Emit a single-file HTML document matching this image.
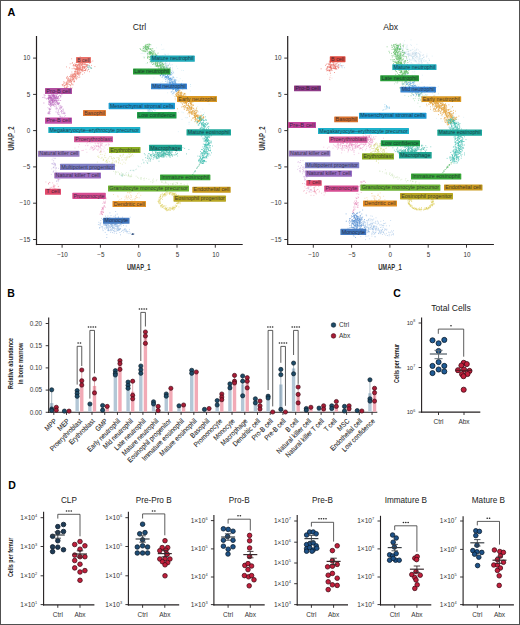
<!DOCTYPE html>
<html><head><meta charset="utf-8"><style>
html,body{margin:0;padding:0;background:#fff;}
svg{display:block;font-family:"Liberation Sans",sans-serif;}
</style></head><body>
<svg width="520" height="625" viewBox="0 0 520 625">
<rect width="520" height="625" fill="#fff"/>
<text x="7.60" y="16.30" font-size="10.8" text-anchor="start" fill="#000" font-weight="bold" >A</text>
<line x1="36.50" y1="36.00" x2="36.50" y2="245.10" stroke="#231f20" stroke-width="1.2"/>
<line x1="35.90" y1="244.50" x2="242.70" y2="244.50" stroke="#231f20" stroke-width="1.2"/>
<line x1="33.10" y1="58.10" x2="36.50" y2="58.10" stroke="#231f20" stroke-width="0.9"/>
<text x="30.30" y="60.30" font-size="6.3" text-anchor="end" fill="#333" >10</text>
<line x1="33.10" y1="94.40" x2="36.50" y2="94.40" stroke="#231f20" stroke-width="0.9"/>
<text x="30.30" y="96.60" font-size="6.3" text-anchor="end" fill="#333" >5</text>
<line x1="33.10" y1="130.60" x2="36.50" y2="130.60" stroke="#231f20" stroke-width="0.9"/>
<text x="30.30" y="132.80" font-size="6.3" text-anchor="end" fill="#333" >0</text>
<line x1="33.10" y1="166.90" x2="36.50" y2="166.90" stroke="#231f20" stroke-width="0.9"/>
<text x="30.30" y="169.10" font-size="6.3" text-anchor="end" fill="#333" >−5</text>
<line x1="33.10" y1="203.20" x2="36.50" y2="203.20" stroke="#231f20" stroke-width="0.9"/>
<text x="30.30" y="205.40" font-size="6.3" text-anchor="end" fill="#333" >−10</text>
<line x1="33.10" y1="239.50" x2="36.50" y2="239.50" stroke="#231f20" stroke-width="0.9"/>
<text x="30.30" y="241.70" font-size="6.3" text-anchor="end" fill="#333" >−15</text>
<line x1="62.10" y1="244.50" x2="62.10" y2="247.70" stroke="#231f20" stroke-width="0.9"/>
<text x="62.50" y="256.60" font-size="6.3" text-anchor="middle" fill="#333" >−10</text>
<line x1="100.40" y1="244.50" x2="100.40" y2="247.70" stroke="#231f20" stroke-width="0.9"/>
<text x="100.80" y="256.60" font-size="6.3" text-anchor="middle" fill="#333" >−5</text>
<line x1="138.70" y1="244.50" x2="138.70" y2="247.70" stroke="#231f20" stroke-width="0.9"/>
<text x="139.10" y="256.60" font-size="6.3" text-anchor="middle" fill="#333" >0</text>
<line x1="177.00" y1="244.50" x2="177.00" y2="247.70" stroke="#231f20" stroke-width="0.9"/>
<text x="177.40" y="256.60" font-size="6.3" text-anchor="middle" fill="#333" >5</text>
<line x1="215.30" y1="244.50" x2="215.30" y2="247.70" stroke="#231f20" stroke-width="0.9"/>
<text x="215.70" y="256.60" font-size="6.3" text-anchor="middle" fill="#333" >10</text>
<text x="138.70" y="269.60" font-size="8.3" text-anchor="middle" fill="#333" font-weight="bold" textLength="23.50" lengthAdjust="spacingAndGlyphs" >UMAP_1</text>
<text x="139.50" y="29.80" font-size="8.6" text-anchor="middle" fill="#222" >Ctrl</text>
<text x="13.60" y="138.40" font-size="8.3" text-anchor="middle" fill="#333" font-weight="bold" textLength="24.00" lengthAdjust="spacingAndGlyphs" transform="rotate(-90 13.60 138.40)" >UMAP_2</text>
<line x1="287.70" y1="36.00" x2="287.70" y2="245.10" stroke="#231f20" stroke-width="1.2"/>
<line x1="287.10" y1="244.50" x2="493.90" y2="244.50" stroke="#231f20" stroke-width="1.2"/>
<line x1="284.30" y1="58.10" x2="287.70" y2="58.10" stroke="#231f20" stroke-width="0.9"/>
<text x="281.50" y="60.30" font-size="6.3" text-anchor="end" fill="#333" >10</text>
<line x1="284.30" y1="94.40" x2="287.70" y2="94.40" stroke="#231f20" stroke-width="0.9"/>
<text x="281.50" y="96.60" font-size="6.3" text-anchor="end" fill="#333" >5</text>
<line x1="284.30" y1="130.60" x2="287.70" y2="130.60" stroke="#231f20" stroke-width="0.9"/>
<text x="281.50" y="132.80" font-size="6.3" text-anchor="end" fill="#333" >0</text>
<line x1="284.30" y1="166.90" x2="287.70" y2="166.90" stroke="#231f20" stroke-width="0.9"/>
<text x="281.50" y="169.10" font-size="6.3" text-anchor="end" fill="#333" >−5</text>
<line x1="284.30" y1="203.20" x2="287.70" y2="203.20" stroke="#231f20" stroke-width="0.9"/>
<text x="281.50" y="205.40" font-size="6.3" text-anchor="end" fill="#333" >−10</text>
<line x1="284.30" y1="239.50" x2="287.70" y2="239.50" stroke="#231f20" stroke-width="0.9"/>
<text x="281.50" y="241.70" font-size="6.3" text-anchor="end" fill="#333" >−15</text>
<line x1="313.30" y1="244.50" x2="313.30" y2="247.70" stroke="#231f20" stroke-width="0.9"/>
<text x="313.70" y="256.60" font-size="6.3" text-anchor="middle" fill="#333" >−10</text>
<line x1="351.60" y1="244.50" x2="351.60" y2="247.70" stroke="#231f20" stroke-width="0.9"/>
<text x="352.00" y="256.60" font-size="6.3" text-anchor="middle" fill="#333" >−5</text>
<line x1="389.90" y1="244.50" x2="389.90" y2="247.70" stroke="#231f20" stroke-width="0.9"/>
<text x="390.30" y="256.60" font-size="6.3" text-anchor="middle" fill="#333" >0</text>
<line x1="428.20" y1="244.50" x2="428.20" y2="247.70" stroke="#231f20" stroke-width="0.9"/>
<text x="428.60" y="256.60" font-size="6.3" text-anchor="middle" fill="#333" >5</text>
<line x1="466.50" y1="244.50" x2="466.50" y2="247.70" stroke="#231f20" stroke-width="0.9"/>
<text x="466.90" y="256.60" font-size="6.3" text-anchor="middle" fill="#333" >10</text>
<text x="389.90" y="269.60" font-size="8.3" text-anchor="middle" fill="#333" font-weight="bold" textLength="23.50" lengthAdjust="spacingAndGlyphs" >UMAP_1</text>
<text x="390.70" y="29.80" font-size="8.6" text-anchor="middle" fill="#222" >Abx</text>
<text x="264.80" y="138.40" font-size="8.3" text-anchor="middle" fill="#333" font-weight="bold" textLength="24.00" lengthAdjust="spacingAndGlyphs" transform="rotate(-90 264.80 138.40)" >UMAP_2</text>
<path d="M181.8 70.4h0M175.6 89.8h0M178.6 92.2h0M186.0 106.2h0M189.0 122.5h0M149.0 47.4h0M156.1 61.1h0M188.6 107.8h0M175.7 80.2h0M178.3 131.6h0M162.2 70.2h0M163.2 78.8h0M195.8 115.1h0M159.0 89.5h0M156.5 47.9h0M161.3 72.7h0M152.3 56.2h0M151.9 63.1h0M156.5 60.9h0M170.5 75.5h0M194.9 117.1h0M169.5 73.4h0M147.6 57.9h0M153.9 77.9h0M154.4 51.4h0M173.2 77.0h0M174.0 89.6h0M178.5 112.4h0M181.3 102.0h0M181.5 87.2h0M144.1 53.7h0M193.3 102.5h0M155.8 59.8h0M183.3 112.7h0M193.5 112.3h0M143.3 56.8h0M172.7 90.4h0M190.7 86.4h0M152.5 58.5h0M200.8 112.0h0M172.2 81.0h0M174.9 85.9h0M187.6 97.3h0M184.7 93.7h0M165.3 79.0h0M169.8 71.8h0M161.5 44.8h0M172.8 70.2h0M168.1 79.4h0M179.2 88.7h0M190.6 91.0h0M148.6 47.2h0M151.0 66.5h0M197.7 106.6h0M165.7 54.6h0M172.4 70.1h0M163.8 49.2h0M202.8 109.2h0M170.5 78.7h0M168.1 85.2h0M199.2 115.2h0M146.0 52.6h0M162.2 69.5h0M142.7 53.3h0M146.1 63.5h0M177.9 95.4h0M180.0 97.1h0M170.3 81.3h0M165.5 63.1h0M186.6 100.0h0M182.0 119.4h0M173.0 77.2h0M176.5 66.2h0M183.5 70.5h0M180.5 100.7h0M196.8 108.1h0M173.2 86.2h0M170.5 67.6h0M174.4 86.7h0M147.6 53.8h0M163.1 71.7h0M178.5 102.3h0M209.1 104.2h0M171.8 86.0h0M190.6 84.6h0M168.0 73.0h0M148.6 69.0h0M157.9 61.0h0M163.4 100.9h0M188.5 103.5h0M175.8 100.7h0M186.8 117.8h0M162.1 49.5h0M166.6 67.1h0M187.4 117.6h0M157.7 64.0h0M166.8 71.1h0M175.9 81.2h0M179.1 81.0h0M151.0 61.7h0M190.6 84.5h0M165.5 58.5h0M195.1 109.7h0M199.8 116.6h0M159.4 64.0h0M162.3 81.7h0M167.8 75.5h0M185.3 117.6h0M172.4 83.3h0M153.1 50.3h0M182.4 80.8h0M154.1 64.2h0M192.6 114.0h0M188.0 99.9h0M180.2 78.6h0M189.4 107.5h0M187.9 97.3h0M141.1 53.5h0M177.9 100.7h0M168.4 86.2h0M152.1 71.8h0M177.7 68.5h0M181.5 97.1h0M144.8 56.7h0M151.4 45.0h0M198.1 112.0h0M187.1 89.3h0M164.3 103.7h0M189.2 122.2h0M171.6 72.5h0M162.5 76.6h0M176.8 80.2h0M204.5 112.9h0M182.3 103.4h0M157.9 56.4h0M148.9 52.2h0M178.2 81.2h0M167.7 92.8h0M157.6 71.5h0M184.7 101.2h0M169.0 111.7h0M194.0 110.8h0M196.4 116.3h0M174.3 77.9h0M172.0 94.3h0M147.8 52.4h0M172.5 76.4h0M160.9 82.6h0M189.0 124.2h0M189.8 112.4h0M166.3 72.0h0M182.4 89.8h0M147.1 74.6h0M150.3 51.3h0M173.2 95.3h0M180.5 95.8h0M169.7 70.9h0M182.0 112.1h0M195.3 99.5h0M154.2 70.2h0M175.4 97.0h0M196.8 110.4h0" stroke="#a9d8ea" stroke-width="0.7" stroke-linecap="round" fill="none" opacity="0.6"/>
<path d="M88.5 69.5h0M82.7 66.6h0M76.2 64.6h0M79.5 63.7h0M81.3 64.8h0M82.5 70.3h0M84.3 67.3h0M79.9 61.4h0M80.5 67.6h0M76.5 69.8h0M79.5 67.1h0M79.5 62.2h0M90.3 62.5h0M85.1 64.3h0M82.3 63.6h0M79.1 68.8h0M89.8 63.5h0M81.0 68.8h0M78.2 68.1h0M77.5 67.8h0M83.0 69.6h0M82.6 62.4h0M84.0 62.7h0M84.4 70.5h0M83.7 64.3h0M86.4 66.5h0M75.4 64.9h0M87.4 65.1h0M81.5 65.0h0M73.4 64.5h0M82.6 66.6h0M80.2 59.6h0M86.5 68.2h0M85.6 69.9h0M79.0 64.2h0M82.4 71.0h0M73.4 65.3h0M77.8 67.7h0M87.6 65.1h0M75.4 66.1h0M79.7 61.4h0M85.0 64.4h0M84.1 62.1h0M85.9 61.7h0M85.7 60.6h0M87.2 64.9h0M74.0 65.3h0M82.5 63.0h0M78.8 66.8h0M80.2 56.8h0M79.1 67.3h0M82.3 69.0h0M77.9 73.7h0M84.6 66.9h0M85.9 68.9h0M81.5 64.1h0M85.6 67.3h0M72.5 62.7h0M83.1 66.3h0M82.3 67.9h0M81.7 70.7h0M78.3 64.8h0M82.5 68.2h0M84.5 70.5h0M78.9 69.5h0M83.1 62.9h0M80.4 72.3h0M84.5 64.6h0M70.2 63.8h0M77.8 66.2h0M91.4 68.2h0M82.4 63.2h0M75.7 65.4h0M78.9 75.0h0M79.2 64.2h0M86.1 66.2h0M75.4 69.9h0M79.6 62.0h0M82.4 67.5h0M79.5 68.1h0M84.7 63.4h0M71.7 58.8h0M80.4 69.7h0M85.5 70.2h0M89.4 66.0h0M85.8 61.4h0M84.1 67.2h0M80.6 64.7h0M76.0 66.4h0M86.7 64.9h0M83.4 64.0h0M82.1 63.0h0M82.7 65.3h0M82.4 64.2h0M75.7 65.0h0M85.7 70.7h0M79.5 68.4h0M84.4 67.2h0M74.0 67.0h0M76.6 69.5h0M84.5 67.9h0M69.6 67.9h0M84.1 62.2h0M85.4 66.2h0M80.2 63.9h0M76.4 64.7h0M94.9 66.6h0M81.9 64.1h0M78.2 64.3h0M77.0 68.6h0M79.8 68.6h0M75.8 68.8h0M80.9 68.0h0M80.5 63.3h0M86.4 64.7h0M80.3 63.3h0M81.9 64.8h0M82.3 67.0h0M77.9 61.8h0M82.9 68.8h0M84.1 62.6h0M83.7 67.2h0M82.3 67.3h0M79.5 66.6h0M85.2 64.5h0M74.5 65.7h0M81.9 60.5h0M78.0 67.8h0M80.3 66.3h0M75.3 68.7h0M88.9 65.4h0M77.7 62.5h0M85.0 66.3h0M77.4 69.6h0M84.4 67.8h0M73.1 65.7h0M83.8 62.3h0M85.2 70.3h0M85.7 63.8h0M77.8 68.8h0M85.5 69.7h0M86.4 65.7h0M79.2 60.4h0M84.5 72.8h0M78.9 64.6h0M83.9 67.1h0M74.8 63.9h0M76.1 72.1h0M77.8 68.6h0M89.6 71.7h0M87.4 70.9h0M75.4 65.0h0M77.7 65.1h0M92.8 61.0h0M83.5 62.3h0M87.0 69.9h0M78.7 72.2h0M81.3 69.9h0M82.4 64.3h0M79.3 65.6h0M83.8 66.4h0M91.6 65.4h0M78.9 63.8h0M77.5 61.7h0M76.6 68.7h0M81.3 65.5h0M82.6 69.2h0M83.8 68.3h0M78.5 65.2h0M77.5 65.7h0M77.3 64.9h0M80.2 65.4h0M79.8 64.5h0M86.9 65.0h0M76.4 66.6h0M76.1 62.8h0M81.4 61.0h0M66.5 66.9h0M85.7 61.0h0M77.0 67.7h0M72.1 63.4h0M75.6 65.4h0M72.1 68.7h0M80.4 66.9h0M79.5 59.6h0M80.3 62.0h0M81.0 63.4h0M79.6 65.4h0M84.5 68.3h0M76.5 66.0h0M87.6 67.5h0M77.7 65.6h0M79.4 68.8h0M81.2 67.1h0M91.0 61.9h0M76.4 60.8h0M73.8 68.6h0M82.3 70.9h0" stroke="#ec7a70" stroke-width="0.9" stroke-linecap="round" fill="none" opacity="0.85"/>
<path d="M70.9 78.8h0M72.7 79.3h0M76.9 73.3h0M66.1 82.6h0M70.8 79.3h0M73.3 78.6h0M72.6 77.1h0M78.8 73.1h0M71.5 76.2h0M70.5 80.5h0M77.2 67.5h0M63.5 81.9h0M67.9 80.2h0M75.0 73.8h0M77.2 71.5h0M71.3 82.4h0M77.9 73.5h0M71.4 81.5h0M75.3 78.4h0M75.3 73.3h0M79.3 70.2h0M70.5 77.8h0M62.7 85.2h0M66.6 87.1h0M72.5 79.8h0M74.5 80.2h0M73.0 84.9h0M75.1 69.6h0M73.1 76.5h0M73.8 78.7h0M70.5 76.3h0M68.0 86.6h0M81.5 69.6h0M67.2 83.1h0M74.1 81.5h0M74.6 73.6h0M71.8 81.3h0M67.5 84.2h0M78.8 72.0h0M74.5 76.7h0M62.9 84.9h0M82.7 74.3h0M79.2 68.7h0M74.4 73.1h0M76.7 66.7h0M77.5 74.0h0M71.8 76.1h0M67.1 77.0h0M68.8 79.7h0M74.0 82.1h0M73.4 75.2h0M76.0 75.9h0M77.3 71.1h0M73.1 76.7h0M66.0 84.2h0M73.7 74.5h0M77.5 71.8h0M77.3 74.3h0M66.6 87.4h0M83.2 70.9h0M77.7 68.9h0M81.2 70.5h0M78.1 67.9h0M73.5 76.3h0M69.3 82.0h0M77.8 72.7h0M76.4 78.1h0M73.7 74.0h0M81.1 69.5h0M79.8 77.0h0M77.8 73.0h0M77.5 73.4h0M74.1 76.9h0M71.7 77.1h0M75.0 76.9h0M79.7 70.6h0M80.0 72.6h0M80.5 69.1h0M79.5 69.6h0M73.0 77.3h0M81.6 69.9h0M70.3 81.6h0M69.3 79.0h0M69.6 84.5h0M75.0 77.1h0M77.2 78.0h0M79.4 71.8h0M74.4 68.6h0M69.6 81.4h0M77.0 73.2h0M73.2 80.0h0M78.9 77.4h0M76.0 74.7h0M70.5 87.3h0M74.0 78.9h0M69.5 76.5h0M74.4 74.0h0M78.6 69.1h0M81.0 72.2h0M66.3 84.5h0M79.2 75.2h0M74.7 71.9h0M75.0 74.6h0M75.6 77.9h0M66.7 83.8h0M75.0 71.5h0M67.4 76.4h0M72.1 75.0h0M64.7 85.4h0M80.2 69.4h0M63.2 86.0h0M72.5 77.4h0M66.9 82.9h0M66.9 81.6h0M71.8 84.0h0M77.6 69.6h0M71.7 76.9h0M77.7 70.7h0M78.3 73.7h0M78.5 68.9h0M78.1 69.0h0M66.4 84.7h0M67.8 84.0h0M71.3 80.9h0M64.9 83.1h0M79.7 73.2h0M76.9 69.4h0M73.6 79.3h0M63.0 84.6h0M71.0 84.7h0M66.6 83.5h0M71.9 74.2h0M63.8 83.6h0M73.1 74.2h0M75.6 76.1h0M71.9 72.0h0M68.0 81.9h0M78.1 72.1h0M75.1 75.3h0M75.4 74.5h0M76.0 71.4h0M64.9 87.5h0M79.0 74.0h0M68.7 80.3h0M80.4 73.9h0M72.7 74.2h0M68.4 78.3h0M72.8 80.3h0M71.5 83.5h0M75.9 72.1h0M70.2 76.5h0M70.4 79.2h0M70.5 75.3h0M62.1 84.7h0M76.3 69.2h0M67.2 78.4h0M72.1 87.9h0M67.9 80.8h0M76.3 79.6h0M69.1 79.7h0M68.8 84.3h0M70.7 85.6h0M66.8 82.6h0M74.7 74.8h0M77.6 69.9h0M67.3 86.9h0M79.3 73.8h0M70.8 82.1h0M76.0 75.5h0M67.5 79.7h0M70.1 82.3h0M68.3 78.0h0M64.9 87.7h0M73.0 75.4h0M73.1 76.0h0M64.6 85.5h0M77.8 73.6h0M67.4 85.3h0M66.9 87.6h0M80.1 70.1h0M72.3 75.8h0M78.7 74.6h0M65.9 85.2h0M64.4 82.2h0M78.0 69.6h0M67.8 81.1h0M65.5 84.9h0M76.0 76.4h0M72.8 84.2h0M74.9 76.5h0M68.7 81.2h0M69.7 80.6h0M77.6 72.7h0M77.1 68.5h0M70.6 80.4h0M70.1 85.2h0M77.3 66.5h0M75.1 75.3h0M78.1 70.0h0M71.5 79.3h0M73.1 78.8h0M77.5 67.9h0M74.5 81.5h0M75.8 69.8h0M76.4 78.1h0M80.2 68.5h0M68.9 82.5h0M78.5 70.3h0M70.0 80.5h0M75.9 73.0h0M77.6 76.4h0M73.9 81.3h0M75.0 76.6h0M72.2 75.4h0M74.1 77.0h0M72.6 78.9h0M75.5 71.6h0M74.9 71.4h0M83.4 70.7h0M64.6 86.2h0M75.3 76.0h0M73.3 78.5h0M78.2 68.3h0M71.0 74.3h0M76.2 74.0h0M75.6 74.9h0M68.0 83.6h0M71.0 80.7h0M66.8 77.6h0M82.1 69.6h0M66.5 78.2h0M72.3 75.8h0M74.1 77.5h0M76.6 67.7h0" stroke="#ec8074" stroke-width="0.9" stroke-linecap="round" fill="none" opacity="0.85"/>
<path d="M89.2 65.9h0M90.5 67.3h0M88.9 69.3h0M87.5 66.2h0M90.3 68.0h0M87.8 66.6h0M91.7 68.4h0M89.7 67.0h0M88.9 67.4h0M88.7 65.0h0M88.2 67.1h0M88.4 68.1h0M91.6 68.0h0M90.8 68.1h0" stroke="#6cc6c0" stroke-width="0.8" stroke-linecap="round" fill="none" opacity="0.8"/>
<path d="M54.0 100.8h0M54.7 100.5h0M49.4 95.9h0M49.5 100.7h0M54.8 95.5h0M49.5 96.2h0M56.1 97.7h0M52.2 95.8h0M52.6 103.2h0M50.6 96.9h0M59.0 100.3h0M49.0 101.5h0M48.6 99.8h0M44.1 94.8h0M56.3 96.1h0M50.5 98.2h0M53.0 96.5h0M50.6 103.8h0M58.3 99.1h0M49.0 96.3h0M52.0 99.6h0M58.7 96.3h0M53.5 96.6h0M53.5 95.8h0M54.4 101.8h0M51.6 97.0h0M53.4 93.8h0M59.4 93.7h0M51.8 95.2h0M58.3 96.5h0M51.2 104.1h0M52.6 95.5h0M53.0 98.6h0M50.4 97.4h0M52.3 100.4h0M55.7 100.7h0M52.6 100.6h0M52.3 101.8h0M54.5 96.7h0M57.4 93.1h0M49.6 95.5h0M52.6 94.1h0M48.8 91.9h0M53.4 95.5h0M60.7 100.5h0M49.0 102.3h0M53.4 101.5h0M49.1 101.8h0M56.9 96.7h0M50.0 96.8h0M54.0 105.8h0M59.4 102.9h0M52.3 97.0h0M54.3 97.1h0M51.4 97.4h0M56.0 97.8h0M53.9 97.2h0M52.3 97.0h0M57.5 98.8h0M58.3 97.5h0M56.8 93.6h0M51.6 97.8h0M50.8 97.7h0M49.8 97.5h0M50.7 98.0h0M52.0 94.8h0M51.6 98.1h0M48.5 98.3h0M57.4 97.3h0M55.0 100.0h0M50.2 102.3h0M61.9 94.7h0M60.6 95.7h0M58.2 92.2h0M57.0 98.5h0M48.5 95.4h0M49.3 95.1h0M54.4 97.4h0M44.2 97.0h0M54.7 98.3h0M59.0 92.1h0M53.9 98.1h0M55.6 93.7h0M48.4 97.5h0M53.3 92.2h0M54.3 98.0h0M55.6 89.6h0M54.8 95.2h0M51.3 100.5h0M59.0 98.5h0M52.6 102.2h0M49.9 97.5h0M51.2 94.9h0M53.7 104.6h0M53.9 99.6h0M52.9 101.7h0M53.7 95.2h0M53.4 102.7h0M52.7 101.9h0M52.8 104.5h0M54.0 100.1h0M52.0 100.7h0M52.2 93.3h0M54.1 94.1h0M58.2 100.6h0M53.1 100.2h0M43.9 103.0h0M50.7 100.2h0M62.0 92.8h0M51.6 99.1h0M54.5 92.6h0M49.7 102.8h0M50.9 99.8h0M48.2 95.1h0M46.6 98.9h0M57.1 98.3h0M52.1 98.8h0M54.7 97.1h0M55.0 104.3h0M60.9 96.2h0M48.6 104.2h0M56.5 101.9h0M55.2 97.3h0M56.5 101.6h0M57.2 94.5h0M56.7 96.9h0M51.8 99.2h0M51.8 105.5h0M55.0 98.9h0M52.4 98.8h0M52.2 99.9h0M56.1 100.7h0M48.6 97.0h0M53.3 94.1h0M54.4 97.6h0M53.2 99.3h0M50.8 103.0h0M56.7 96.3h0M54.7 100.4h0M50.3 96.9h0M55.5 89.7h0M48.4 99.1h0M55.2 95.1h0M56.1 105.2h0M53.8 97.9h0M53.3 94.8h0M55.0 98.6h0M55.7 102.6h0M53.2 98.6h0M54.2 103.6h0M47.9 98.0h0M50.8 98.4h0M56.0 98.3h0M55.6 98.6h0M50.5 95.9h0M48.2 98.8h0M51.7 100.7h0M56.4 95.2h0M49.2 100.0h0M50.0 98.7h0M55.2 96.8h0M59.3 95.5h0M54.5 96.7h0M42.9 97.5h0M52.5 99.9h0M52.6 95.7h0M51.2 97.1h0M55.7 97.2h0M57.4 100.8h0M50.4 101.4h0M45.1 98.1h0M49.6 97.7h0M57.1 98.0h0M52.5 102.2h0M50.4 95.4h0M56.5 100.0h0M48.0 98.5h0M55.8 97.5h0M51.6 98.5h0M53.8 95.8h0M56.0 93.0h0M52.8 104.9h0M49.3 97.9h0M45.0 95.4h0M49.0 98.2h0M51.3 103.9h0M49.8 97.9h0M53.8 100.1h0M56.2 93.0h0M60.7 97.0h0M50.5 92.8h0M51.5 92.3h0M53.7 96.1h0M54.2 95.5h0M53.3 105.2h0M57.1 98.5h0M49.6 102.7h0M47.1 93.5h0" stroke="#b85cb8" stroke-width="0.9" stroke-linecap="round" fill="none" opacity="0.8"/>
<path d="M49.3 112.9h0M49.4 113.8h0M51.1 101.0h0M50.9 100.0h0M49.1 111.9h0M49.8 113.2h0M50.3 104.2h0M49.3 101.5h0M50.3 109.2h0M49.2 108.3h0M48.8 103.1h0M47.9 107.7h0M50.5 103.4h0M49.3 111.8h0M49.5 109.9h0M50.6 103.3h0M52.2 103.9h0M50.8 104.6h0M48.5 113.3h0M51.1 107.0h0M49.2 112.4h0M50.6 101.0h0M51.3 100.5h0M51.6 103.3h0M50.4 109.4h0M48.5 113.2h0M51.0 99.2h0M50.0 104.8h0M50.9 104.5h0M49.7 109.4h0M49.7 105.5h0M50.2 99.6h0M50.6 105.9h0M50.4 102.9h0M50.7 106.2h0M49.8 110.7h0M51.1 104.0h0M49.2 104.5h0M51.7 105.5h0M49.0 112.3h0M50.8 104.5h0M47.9 113.0h0M50.5 105.0h0M50.0 113.8h0M52.1 98.4h0M49.5 101.4h0M50.4 101.1h0M50.1 111.5h0M49.5 109.4h0M49.9 109.3h0M48.1 113.7h0M48.0 113.1h0M50.4 106.5h0M50.9 108.8h0M49.5 104.6h0M48.8 113.8h0M50.3 103.6h0M48.5 108.9h0M51.1 102.5h0M49.6 108.5h0M48.7 111.9h0M50.5 99.3h0M51.7 102.4h0" stroke="#c27ac8" stroke-width="0.7" stroke-linecap="round" fill="none" opacity="0.75"/>
<path d="M63.3 113.4h0M62.7 109.7h0M56.8 103.4h0M62.3 106.7h0M60.4 109.0h0M58.7 102.9h0M63.2 108.9h0M61.6 110.5h0M58.6 103.5h0M54.6 97.8h0M61.4 107.5h0M57.1 104.2h0M55.4 98.8h0M56.2 100.2h0M60.1 105.4h0M58.5 103.4h0M53.6 97.7h0M56.0 102.7h0M57.5 102.9h0M61.7 108.4h0M58.5 104.3h0M61.4 106.2h0M54.6 97.2h0M63.3 111.8h0M61.8 113.6h0M63.1 110.7h0M65.4 115.5h0M54.8 98.4h0M57.9 102.6h0M62.7 117.0h0M58.5 104.3h0M59.6 108.0h0M61.7 107.4h0M64.2 113.9h0M57.6 103.5h0M54.0 97.5h0M62.2 111.6h0M59.5 108.0h0M60.7 111.5h0M54.3 97.7h0M55.7 100.2h0M57.8 102.9h0M59.9 109.1h0M61.5 107.0h0M54.9 101.2h0M57.1 101.3h0M56.4 100.3h0M64.0 112.6h0M59.4 103.5h0M55.4 97.6h0M54.4 97.5h0M57.2 103.5h0M60.0 106.2h0M60.4 107.6h0M63.9 113.2h0M58.8 106.1h0M63.4 109.9h0M55.6 99.8h0M58.2 104.3h0M64.8 112.3h0M57.3 102.4h0M56.6 100.6h0M57.5 104.5h0M60.5 106.1h0M56.0 100.8h0M64.5 113.5h0M56.0 99.2h0M58.8 103.7h0M57.3 102.6h0M61.4 110.5h0M61.6 112.0h0M61.8 111.3h0M65.2 113.4h0M64.4 116.3h0M58.8 104.5h0M61.7 112.3h0M60.2 108.8h0M62.9 113.6h0M55.3 101.1h0M60.4 107.4h0M57.8 103.1h0" stroke="#c27ac8" stroke-width="0.7" stroke-linecap="round" fill="none" opacity="0.75"/>
<path d="M56.8 112.1h0M57.7 113.5h0M56.4 107.6h0M55.3 108.9h0M58.6 114.4h0M53.6 100.5h0M59.6 112.8h0M53.8 101.8h0M59.8 114.7h0M54.4 101.8h0M54.2 104.4h0M53.6 102.5h0M54.7 106.6h0M58.5 109.4h0M57.6 112.6h0M57.5 108.2h0M55.6 104.5h0M54.0 102.4h0M60.8 117.9h0M59.0 114.7h0M57.2 108.6h0M51.0 101.8h0M57.9 112.4h0M58.5 114.1h0M55.3 106.9h0M56.4 108.9h0M60.0 116.1h0M56.7 108.0h0M60.6 116.8h0M53.6 100.5h0M60.0 116.3h0M56.2 108.7h0M54.7 103.7h0M58.4 110.9h0M60.1 116.3h0M57.0 110.0h0M55.4 104.3h0M57.8 114.3h0M58.4 112.6h0M54.0 103.2h0M58.3 111.5h0M55.8 111.9h0M58.4 110.4h0M61.7 117.0h0M56.3 106.6h0" stroke="#c88ad0" stroke-width="0.7" stroke-linecap="round" fill="none" opacity="0.7"/>
<path d="M153.4 53.7h0M157.5 64.7h0M152.4 53.1h0M164.9 69.4h0M157.0 63.4h0M149.7 52.3h0M155.8 57.1h0M153.9 56.5h0M160.9 67.4h0M143.6 50.9h0M154.1 57.5h0M147.6 44.7h0M164.6 69.7h0M147.0 48.8h0M147.1 47.4h0M169.8 68.3h0M158.9 62.1h0M157.1 64.8h0M158.2 65.8h0M160.8 67.0h0M147.5 50.0h0M156.4 55.2h0M147.6 57.4h0M146.0 44.4h0M150.7 52.2h0M160.6 61.5h0M147.4 54.0h0M146.7 49.5h0M165.8 71.6h0M145.1 51.5h0M158.7 70.2h0M146.4 49.0h0M157.2 56.1h0M151.8 50.4h0M156.3 56.0h0M155.3 56.7h0M145.1 50.9h0M151.0 55.9h0M160.1 69.8h0M152.6 55.1h0M154.7 54.0h0M145.1 45.5h0M150.7 44.7h0M160.9 66.0h0M153.7 58.7h0M159.2 69.4h0M149.6 48.9h0M160.3 68.1h0M157.3 65.1h0M163.6 68.0h0M151.4 58.2h0M160.5 68.6h0M151.4 50.1h0M155.2 54.9h0M146.1 45.0h0M156.0 57.8h0M150.0 53.9h0M150.0 62.0h0M153.6 61.1h0M163.4 64.5h0M151.9 61.5h0M164.1 68.9h0M155.9 61.6h0M159.5 71.3h0M165.8 68.0h0M151.0 56.6h0M160.8 65.3h0M150.6 53.9h0M159.9 71.9h0M147.5 46.7h0M153.5 61.2h0M147.8 57.4h0M154.2 57.2h0M148.3 47.3h0M156.5 61.9h0M163.2 70.3h0M155.4 64.8h0M166.0 71.6h0M159.1 65.8h0M149.3 51.9h0M148.0 47.2h0M163.0 61.7h0M152.9 50.9h0M152.0 53.6h0M149.6 51.3h0M162.1 72.0h0M149.1 45.3h0M161.6 68.5h0M166.0 67.1h0M160.3 62.2h0M143.8 48.6h0M162.9 65.7h0M154.9 61.1h0M152.7 56.3h0M156.9 66.1h0M143.2 47.0h0M154.8 52.7h0M155.4 66.0h0M158.8 60.5h0M159.4 69.3h0M157.5 62.9h0M147.8 58.5h0M161.4 58.0h0M170.1 67.9h0M151.0 54.4h0M153.2 55.7h0M151.6 57.0h0M152.6 57.4h0M155.7 59.7h0M149.2 54.6h0M149.8 52.7h0M152.6 54.2h0M160.3 58.9h0M143.4 48.3h0M166.2 61.5h0M158.4 61.6h0M150.7 52.3h0M147.2 46.4h0M155.3 63.3h0M159.5 73.5h0M162.8 66.8h0M141.8 50.2h0M152.9 61.7h0M142.9 48.9h0M145.5 45.8h0M152.5 62.0h0M157.0 66.3h0M158.8 59.3h0M161.8 70.7h0M152.0 55.4h0M166.4 70.8h0M145.0 51.7h0M154.7 50.8h0M145.1 51.0h0M163.9 71.6h0M155.1 60.2h0M149.0 44.4h0M157.2 65.5h0M164.0 72.2h0M153.7 61.7h0M151.1 53.1h0M150.0 56.4h0M155.1 63.9h0M153.4 61.7h0M163.5 66.1h0M158.6 69.0h0M165.6 70.0h0M150.7 49.4h0M159.3 63.9h0M143.1 51.2h0M167.1 70.3h0M164.6 70.6h0M160.9 67.5h0M148.0 47.7h0M155.7 64.6h0M148.0 48.6h0M163.0 68.6h0M151.1 61.4h0M152.8 48.7h0M166.7 60.6h0M160.8 70.5h0M161.8 70.3h0M159.1 63.3h0M148.5 48.6h0M152.9 56.9h0M164.8 66.3h0M155.0 61.9h0M153.0 58.7h0M146.4 49.7h0M164.1 67.6h0M152.5 64.5h0M145.1 46.9h0M161.2 58.0h0M160.4 57.2h0M143.8 46.5h0M162.9 68.9h0M158.1 61.5h0M151.8 52.0h0M164.6 67.2h0M148.8 57.0h0M147.5 56.1h0M157.1 62.0h0M161.6 64.7h0M162.6 71.9h0M164.9 70.0h0M153.3 52.6h0M159.9 71.2h0M147.2 44.7h0M157.5 57.7h0M161.2 61.6h0M152.5 58.2h0M153.1 51.7h0M160.8 66.9h0M149.9 53.2h0M146.9 50.8h0M160.5 60.0h0M156.7 66.0h0M153.7 63.6h0M151.7 52.4h0M160.2 65.0h0M156.6 57.5h0M152.1 56.1h0M159.2 60.6h0M162.5 63.3h0M157.1 59.8h0M164.2 60.0h0M155.0 59.4h0M162.0 70.4h0M163.7 73.9h0M140.1 48.5h0M153.0 58.7h0M152.9 58.0h0M156.6 59.9h0M148.3 56.4h0M160.4 70.9h0M154.9 58.4h0M150.9 58.7h0M161.3 59.2h0M166.9 70.1h0M150.4 51.9h0M164.3 67.1h0M155.9 55.5h0M156.5 60.3h0M146.3 47.9h0M148.8 53.8h0M154.5 59.0h0M145.7 46.7h0M167.7 69.0h0M161.0 61.4h0M150.6 61.4h0M154.5 58.9h0M155.3 62.4h0M156.6 66.0h0M156.6 61.3h0M147.5 62.8h0M147.3 47.0h0M155.6 60.3h0M161.8 65.0h0M163.9 57.3h0M157.3 66.1h0M142.9 50.7h0M150.3 49.1h0M162.6 66.6h0M162.8 64.2h0M162.1 71.9h0M156.8 58.6h0M154.7 58.3h0M160.0 65.1h0M150.4 59.4h0M162.0 65.6h0M150.6 53.6h0M158.4 66.8h0M146.3 49.4h0M165.4 70.9h0M149.3 44.0h0M148.7 52.1h0M159.0 69.1h0M147.1 51.2h0M154.5 57.6h0M161.5 60.1h0M166.5 70.9h0M160.4 62.7h0M147.7 53.4h0M158.6 60.7h0M160.3 71.8h0M156.6 55.4h0M165.2 63.9h0M156.8 55.2h0M149.3 59.7h0M150.2 56.7h0M146.8 49.5h0M161.3 66.6h0M151.3 53.1h0M161.3 68.1h0M152.4 55.7h0M151.1 52.8h0M155.8 61.8h0M149.9 59.4h0M150.4 48.8h0M153.8 64.2h0M152.7 59.3h0M155.9 63.8h0M151.7 60.0h0M147.9 49.2h0M159.6 65.7h0M158.1 61.1h0M163.6 67.0h0M157.3 65.2h0M150.5 57.1h0M148.9 49.0h0M161.3 63.0h0M164.4 67.9h0M155.7 54.6h0M153.5 54.2h0M146.2 47.2h0M163.2 67.2h0M158.7 61.1h0M154.1 57.4h0M150.2 51.5h0M163.0 71.9h0M161.4 61.9h0M145.1 47.0h0M145.4 49.4h0M160.0 66.2h0M148.6 48.4h0M163.7 64.2h0M161.6 67.7h0M149.7 46.3h0M163.9 71.0h0M156.1 59.9h0M157.7 63.0h0M146.1 46.0h0M153.1 51.4h0M150.6 53.2h0M164.9 71.2h0M167.7 67.8h0M155.8 63.1h0M152.4 54.1h0M155.3 59.8h0M158.3 65.8h0M160.0 65.1h0M155.5 53.7h0M149.7 53.0h0M166.0 65.6h0M162.9 71.5h0M156.3 58.4h0M151.5 62.3h0M162.9 67.0h0M155.5 58.9h0M149.5 53.0h0M157.6 64.1h0M158.1 53.1h0M162.1 63.8h0M146.8 46.7h0M160.8 64.9h0M158.0 61.8h0M144.3 50.1h0M163.7 67.3h0M160.5 69.7h0M159.0 66.8h0M140.4 49.5h0M160.7 65.8h0M168.3 65.7h0M162.4 63.3h0M167.9 69.2h0M157.1 63.2h0M164.2 68.8h0M148.1 44.1h0M160.4 64.3h0M159.8 62.3h0M158.0 67.0h0M145.1 47.2h0M149.7 44.5h0M149.9 53.9h0M145.7 46.6h0M157.9 61.2h0M151.8 53.0h0M156.5 57.0h0M158.7 60.7h0M152.0 48.7h0M166.4 67.6h0M152.2 54.9h0M145.7 48.4h0M163.3 70.8h0M144.3 47.6h0M144.2 57.8h0M151.3 59.7h0M154.6 58.0h0M159.6 62.9h0M145.3 48.4h0M148.2 46.6h0M162.8 64.8h0M145.4 48.1h0M161.6 73.8h0M163.6 70.6h0M158.3 60.0h0M149.5 57.6h0M148.4 45.9h0" stroke="#5cbc62" stroke-width="0.9" stroke-linecap="round" fill="none" opacity="0.8"/>
<path d="M160.8 63.6h0M168.0 74.9h0M164.4 67.8h0M169.4 64.2h0M163.9 66.4h0M173.7 71.8h0M168.7 78.7h0M170.0 68.1h0M167.0 66.2h0M168.2 78.2h0M171.6 73.5h0M168.3 74.2h0M166.2 70.3h0M162.8 66.5h0M172.3 71.5h0M161.9 64.2h0M172.5 73.6h0M168.0 65.6h0M152.6 57.0h0M154.1 56.1h0M172.5 68.0h0M162.6 59.2h0M159.7 61.1h0M168.4 70.9h0M166.9 66.1h0M159.4 69.3h0M151.1 59.9h0M176.9 77.5h0M166.3 63.8h0M168.9 69.2h0M166.9 68.0h0M168.7 64.4h0M166.4 68.7h0M175.6 81.0h0M159.9 62.4h0M159.9 61.1h0M157.6 53.8h0M173.4 72.5h0M168.9 67.7h0M166.7 67.0h0M165.3 57.3h0M169.6 61.7h0M158.4 58.2h0M156.6 57.2h0M153.4 60.3h0M162.9 60.6h0M164.7 54.2h0M162.6 62.6h0M170.6 67.4h0M165.8 65.2h0M155.5 59.9h0M166.9 64.2h0M162.3 60.9h0M156.3 63.1h0M169.5 72.6h0M167.1 63.0h0M162.0 58.6h0M168.1 54.2h0M162.5 67.1h0M159.2 63.1h0M154.3 61.2h0M144.8 48.8h0M166.2 68.2h0M173.8 78.0h0M168.3 59.0h0M166.6 66.5h0M153.2 63.0h0M151.6 63.4h0M173.8 73.1h0M172.5 73.6h0M162.1 59.4h0M174.8 79.3h0M147.1 53.9h0M169.8 70.0h0M151.2 51.6h0M159.2 62.7h0M167.2 67.9h0M173.0 72.7h0M164.7 72.1h0M169.0 71.0h0M169.2 56.4h0M165.6 62.7h0M170.2 71.6h0M160.9 67.8h0M158.2 58.8h0M165.7 55.0h0M164.7 67.6h0M169.8 63.0h0M153.3 56.2h0M172.2 64.7h0M170.8 65.1h0M160.2 64.3h0M169.6 63.8h0M159.4 62.2h0M167.3 66.3h0M171.1 70.6h0M164.8 72.2h0M165.3 73.0h0M161.6 64.8h0M165.3 62.8h0M159.5 64.3h0M162.9 55.6h0M155.5 59.1h0M165.1 64.2h0M167.6 65.3h0M164.2 63.8h0M154.8 66.1h0M164.2 67.9h0" stroke="#9fc6e6" stroke-width="0.8" stroke-linecap="round" fill="none" opacity="0.6"/>
<path d="M170.3 82.6h0M172.0 87.0h0M163.5 75.2h0M174.6 80.3h0M165.4 77.2h0M166.3 76.5h0M177.4 86.0h0M170.5 74.6h0M166.5 77.6h0M167.4 75.3h0M165.0 76.6h0M175.6 89.5h0M173.4 89.4h0M162.4 73.7h0M169.0 78.6h0M167.6 75.5h0M171.2 79.6h0M178.7 90.4h0M172.9 93.6h0M167.0 71.1h0M181.3 83.4h0M171.3 84.5h0M175.5 85.3h0M178.2 89.0h0M172.2 81.4h0M169.0 79.9h0M163.2 74.0h0M176.6 91.1h0M174.3 87.0h0M171.1 79.2h0M172.6 87.4h0M167.7 76.8h0M167.8 74.2h0M162.1 77.4h0M171.2 87.7h0M167.1 79.0h0M172.4 82.5h0M161.5 74.6h0M172.1 78.8h0M174.9 85.2h0M177.3 88.1h0M171.7 74.8h0M176.3 88.0h0M172.6 87.2h0M176.6 89.1h0M167.0 72.1h0M171.2 79.3h0M175.7 83.6h0M176.8 89.1h0M176.0 86.5h0M174.0 86.9h0M176.0 84.1h0M163.2 75.7h0M173.3 83.1h0M168.9 76.3h0M166.7 76.8h0M178.0 84.4h0M176.2 87.9h0M174.0 83.5h0M166.0 73.1h0M175.3 82.2h0M165.4 77.1h0M176.5 86.3h0M176.2 86.5h0M166.2 71.2h0M170.8 77.9h0M172.8 79.8h0M168.4 76.8h0M166.5 73.5h0M176.8 85.6h0M161.9 74.2h0M164.3 75.2h0M164.9 73.6h0M176.8 91.4h0M160.2 75.4h0M173.9 92.9h0M174.0 92.0h0M174.0 86.9h0M175.8 90.5h0M168.3 82.1h0M174.2 86.7h0M171.2 92.0h0M162.5 73.5h0M169.2 74.5h0M169.3 71.3h0M175.7 86.7h0M176.4 84.6h0M171.2 86.5h0M173.6 85.6h0M175.9 88.2h0M170.3 85.5h0M164.6 77.9h0M169.6 83.9h0M169.6 80.0h0M160.4 75.8h0M172.5 86.9h0M166.1 72.3h0M174.1 88.0h0M160.6 75.3h0M167.3 81.0h0M165.8 81.3h0M167.1 71.7h0M173.1 85.5h0M176.3 87.2h0M176.0 91.0h0M178.2 89.9h0M179.9 88.3h0M174.6 84.3h0M174.6 84.2h0M169.6 78.7h0M177.4 90.4h0M169.8 82.4h0M169.5 81.2h0M171.0 82.4h0M172.2 77.9h0M174.2 84.4h0M172.3 83.0h0M177.7 90.2h0M174.4 85.8h0M172.8 82.7h0M165.9 71.2h0M173.9 81.6h0M170.2 78.3h0M166.6 78.0h0M175.6 90.1h0M174.5 82.2h0M173.8 89.2h0M178.0 85.2h0M173.4 89.4h0M175.9 83.2h0M169.7 82.5h0M178.6 87.4h0M168.4 71.5h0M172.3 84.8h0M170.4 83.8h0M173.1 84.3h0M165.7 76.9h0M172.0 91.7h0M171.7 84.4h0M175.3 81.6h0M175.2 86.5h0M178.7 85.6h0M170.0 80.9h0M178.1 89.8h0M165.2 75.7h0M169.9 78.3h0M173.4 82.0h0M165.8 73.8h0M177.7 89.8h0M163.9 73.0h0M167.3 77.2h0M170.3 78.5h0M171.2 81.9h0M175.9 85.0h0M168.8 77.4h0M165.9 76.8h0M166.7 73.8h0M172.3 81.8h0M171.0 80.3h0M181.5 86.9h0M173.0 85.7h0M175.9 88.4h0M168.0 72.2h0M176.2 89.2h0M167.8 78.1h0M175.2 80.0h0M168.3 74.6h0M173.6 77.2h0M168.5 77.4h0M170.3 85.9h0M179.0 90.1h0M165.3 74.1h0M178.4 87.3h0M175.9 80.1h0M168.7 86.9h0M171.6 72.4h0M168.3 77.9h0M171.0 85.7h0M164.8 71.9h0M174.1 80.8h0M174.5 81.9h0M176.1 89.0h0M176.0 91.8h0M174.1 79.9h0M166.6 84.4h0M179.0 87.0h0M170.0 84.0h0M170.9 80.3h0M168.5 79.4h0M163.9 74.9h0M165.7 79.4h0M176.2 90.0h0M169.9 75.3h0M171.8 81.2h0M170.9 74.3h0M180.5 85.6h0M170.8 78.8h0M171.1 82.3h0M168.1 76.6h0M172.7 86.7h0M166.2 73.5h0M162.9 76.1h0M173.2 86.6h0M170.0 83.0h0M169.8 79.3h0M176.5 88.8h0M173.9 83.8h0M165.6 74.2h0M175.6 90.7h0M175.5 82.7h0M172.6 89.7h0M167.2 82.8h0M162.5 75.0h0M171.6 86.4h0M166.7 76.4h0M172.7 83.3h0" stroke="#4c97de" stroke-width="0.9" stroke-linecap="round" fill="none" opacity="0.8"/>
<path d="M182.8 101.7h0M195.7 114.3h0M181.8 98.4h0M185.5 103.2h0M196.3 115.9h0M191.4 109.4h0M191.8 114.3h0M196.1 113.3h0M196.2 119.9h0M201.2 115.9h0M194.1 112.4h0M197.0 123.2h0M190.9 103.4h0M191.4 112.3h0M191.5 104.2h0M182.8 93.0h0M194.6 117.4h0M187.0 100.6h0M181.3 95.9h0M200.5 120.4h0M184.4 93.6h0M179.3 91.1h0M183.5 97.4h0M192.2 106.0h0M195.6 116.5h0M177.9 99.8h0M184.7 103.3h0M197.2 120.9h0M178.1 99.1h0M178.6 92.4h0M193.3 110.6h0M184.7 99.2h0M185.0 93.4h0M183.7 101.8h0M180.0 95.9h0M185.1 107.4h0M180.6 101.2h0M195.2 113.9h0M200.5 118.2h0M187.8 108.9h0M199.5 119.1h0M193.4 105.5h0M194.4 111.6h0M175.2 99.0h0M181.2 92.5h0M180.2 93.5h0M179.7 96.1h0M184.1 97.4h0M194.2 113.5h0M198.2 120.5h0M186.0 102.2h0M196.2 115.4h0M189.6 106.5h0M184.5 96.9h0M179.8 92.6h0M179.3 96.2h0M182.6 104.6h0M181.7 96.8h0M189.8 108.6h0M191.3 104.4h0M203.2 117.5h0M192.5 111.9h0M183.9 107.1h0M180.7 95.4h0M180.2 102.2h0M191.3 107.2h0M178.3 98.9h0M181.3 95.8h0M186.0 101.9h0M187.3 107.5h0M179.1 97.7h0M195.1 112.7h0M188.5 108.8h0M181.6 95.6h0M180.3 94.0h0M187.9 108.8h0M197.2 115.3h0M188.4 110.1h0M194.8 113.5h0M196.6 115.9h0M195.2 117.5h0M192.9 117.7h0M181.8 98.1h0M176.9 94.3h0M199.7 117.4h0M196.5 112.5h0M188.8 112.4h0M187.9 105.3h0M181.1 101.0h0M192.3 110.3h0M191.3 102.3h0M181.8 100.0h0M197.2 116.4h0M186.1 104.6h0M179.3 95.2h0M188.0 107.9h0M200.8 118.2h0M189.4 106.8h0M191.0 111.9h0M202.5 118.8h0M189.5 116.1h0M186.0 105.5h0M182.7 97.2h0M182.8 95.2h0M178.0 94.5h0M201.4 119.8h0M179.5 97.7h0M185.2 102.2h0M184.8 98.6h0M186.8 110.3h0M184.1 100.0h0M179.9 98.1h0M197.1 122.5h0M176.9 93.1h0M192.8 111.0h0M198.5 117.6h0M193.8 108.3h0M179.1 97.4h0M201.6 118.7h0M177.5 108.8h0M190.7 109.3h0M180.9 98.9h0M182.1 100.7h0M198.6 121.1h0M187.0 107.7h0M181.2 99.1h0M180.4 95.1h0M184.1 97.6h0M182.5 97.3h0M185.7 102.0h0M188.4 103.7h0M181.4 97.6h0M176.5 96.4h0M182.8 97.7h0M185.9 102.3h0M199.3 117.5h0M183.9 95.2h0M188.8 101.5h0M187.7 101.5h0M184.6 101.6h0M198.2 116.3h0M179.0 95.1h0M178.0 92.3h0M190.9 102.4h0M200.1 119.4h0M180.5 96.4h0M180.9 101.2h0M177.0 95.3h0M199.4 120.7h0M178.5 92.8h0M189.5 109.0h0M184.2 100.1h0M179.6 96.0h0M189.7 112.5h0M186.2 108.1h0M183.4 99.4h0M184.1 109.0h0M184.5 98.5h0M175.6 94.4h0M192.1 102.6h0M190.1 102.6h0M180.3 95.0h0M201.2 116.7h0M195.1 110.6h0M200.8 117.9h0M193.1 104.7h0M187.0 101.4h0M194.1 109.9h0M188.4 105.6h0M195.2 116.0h0M196.5 115.3h0M185.8 95.2h0M192.8 118.6h0M203.2 118.5h0M178.5 91.5h0M186.5 103.3h0M200.4 119.6h0M184.8 94.2h0M182.6 97.9h0M188.3 97.3h0M192.9 114.3h0M184.5 100.1h0M181.5 100.1h0M190.7 103.9h0M203.5 117.0h0M176.6 93.5h0M181.7 99.3h0M191.6 104.1h0M188.1 104.9h0M199.0 120.7h0M185.4 99.7h0M194.8 121.7h0M187.6 102.1h0M183.2 97.6h0M190.7 107.6h0M181.2 100.6h0M186.4 104.1h0M176.7 95.7h0M188.6 110.8h0M184.9 107.2h0M194.4 111.5h0M178.1 93.2h0M196.2 109.2h0M197.2 110.6h0M190.0 111.4h0M195.6 120.4h0M203.0 117.2h0M190.4 103.8h0M187.0 109.9h0M191.8 113.8h0M178.3 91.0h0M187.0 108.0h0M199.2 115.8h0M181.6 100.9h0M183.1 100.9h0M181.8 98.4h0M201.6 119.8h0M199.5 120.5h0M183.0 98.2h0M195.6 113.9h0M182.1 96.2h0M192.0 108.7h0M179.1 93.0h0M195.9 115.9h0M194.8 116.2h0M190.4 112.9h0M199.1 121.0h0M195.5 117.5h0M186.3 102.8h0M179.0 94.0h0M191.1 107.0h0M184.0 102.6h0M175.0 96.6h0M182.8 101.2h0M183.7 100.2h0M195.7 110.7h0M200.0 117.8h0M187.0 110.4h0M194.4 113.3h0M190.5 101.0h0M188.7 103.7h0M200.5 115.9h0M182.9 97.4h0M198.4 121.5h0M189.5 113.8h0M192.7 111.3h0M180.0 90.9h0M184.7 93.7h0M197.0 116.0h0M194.8 116.7h0M201.5 115.2h0M194.9 115.8h0M189.6 100.8h0M201.1 120.0h0M190.1 110.5h0M196.2 112.0h0M177.7 92.2h0M194.9 119.6h0M183.7 106.3h0M178.6 95.0h0M193.4 108.4h0M178.4 95.4h0M191.3 111.4h0M197.4 117.5h0M187.5 108.9h0M188.9 112.2h0M193.8 115.1h0M195.9 114.0h0M191.4 108.7h0M197.8 111.7h0M181.0 94.0h0M194.3 115.6h0M199.2 120.5h0M187.9 101.5h0M189.1 99.5h0M203.8 117.5h0M195.0 114.2h0M189.6 111.8h0M191.1 106.2h0M180.6 101.2h0M197.2 115.5h0M189.9 107.3h0M186.1 102.4h0M197.0 119.2h0M194.6 115.5h0M180.8 97.8h0M177.2 93.0h0M203.7 116.8h0M191.5 109.0h0M193.3 113.0h0M184.1 100.7h0M182.9 106.6h0M176.8 95.2h0M181.5 92.0h0M191.5 107.9h0M194.5 113.8h0M182.0 101.6h0M189.7 107.6h0M185.4 106.5h0M182.3 99.9h0M190.7 102.9h0M201.0 117.9h0M191.8 113.8h0M183.0 100.1h0M186.6 103.5h0M183.9 95.3h0M196.3 110.7h0M189.7 107.6h0M188.1 105.2h0M182.9 88.9h0M199.2 117.2h0M198.4 115.2h0M197.0 116.4h0M187.2 99.9h0M176.0 95.4h0M195.1 118.8h0M191.4 107.4h0M194.8 115.1h0M191.8 113.2h0M195.6 118.7h0M178.6 94.7h0M197.6 116.3h0M181.5 94.6h0M190.2 103.3h0M197.4 117.7h0M200.2 116.0h0M187.8 107.7h0M183.4 97.8h0M198.7 121.7h0M178.6 94.8h0M183.7 97.8h0M200.1 118.9h0M195.9 112.8h0M177.3 93.7h0M181.8 93.2h0M188.2 106.0h0M195.9 119.3h0M185.1 98.0h0M185.4 102.6h0M195.6 118.7h0M179.7 90.3h0M184.9 100.3h0M192.4 107.8h0M190.9 105.4h0M188.0 113.8h0M190.0 111.9h0M180.5 99.7h0M179.8 95.4h0M184.6 105.5h0M185.9 102.7h0M184.7 109.2h0M177.0 96.2h0M198.1 116.0h0M194.3 115.3h0M183.4 99.5h0M192.7 105.1h0M190.8 113.0h0M186.7 101.0h0M182.8 98.4h0M189.0 105.6h0M187.0 102.1h0M183.5 94.2h0M191.1 109.1h0M194.4 115.7h0M191.6 112.0h0M186.6 105.2h0M183.9 101.8h0M180.3 92.4h0M200.3 119.0h0M189.6 101.9h0M189.9 109.7h0M181.7 100.7h0M197.6 120.9h0M196.5 108.1h0M184.0 106.0h0M182.9 96.4h0M192.6 112.2h0M197.3 114.8h0M177.4 97.4h0M193.2 111.7h0M177.1 94.8h0M196.4 116.2h0M191.6 112.8h0M180.4 95.3h0M191.3 120.0h0M193.5 117.8h0M190.6 108.7h0M195.0 117.4h0M181.4 95.3h0M199.4 120.9h0M184.6 101.5h0M183.0 95.7h0M181.0 97.9h0M197.4 121.8h0M195.4 116.8h0M199.5 119.4h0M200.2 120.4h0M181.3 93.1h0M181.7 107.0h0M185.2 100.3h0M186.5 100.5h0M190.8 103.3h0M179.0 96.4h0M197.9 119.3h0M180.3 93.1h0M184.2 102.8h0M182.9 103.2h0M188.8 106.5h0M185.7 102.2h0M181.4 93.0h0M178.4 92.3h0M192.8 113.7h0M181.3 102.9h0M191.7 107.8h0" stroke="#e3a23a" stroke-width="0.9" stroke-linecap="round" fill="none" opacity="0.85"/>
<path d="M197.9 156.1h0M207.5 131.8h0M206.5 133.2h0M206.5 131.7h0M200.6 128.0h0M203.2 124.3h0M198.8 125.2h0M206.1 140.8h0M208.5 150.5h0M205.0 152.1h0M206.8 122.6h0M201.6 162.2h0M208.8 142.9h0M201.8 163.0h0M200.0 118.4h0M202.9 155.0h0M203.2 152.9h0M206.1 153.8h0M204.3 151.6h0M206.8 139.0h0M200.4 122.1h0M201.7 123.5h0M199.4 119.3h0M205.3 138.9h0M201.7 120.3h0M199.6 156.3h0M211.5 135.2h0M210.5 147.9h0M205.5 144.4h0M204.4 127.2h0M205.7 144.8h0M202.7 122.5h0M197.2 121.6h0M203.9 161.1h0M205.1 131.9h0M200.4 151.5h0M208.5 142.9h0M207.1 153.1h0M202.4 119.5h0M201.1 122.5h0M202.5 128.3h0M203.6 161.0h0M206.2 161.7h0M206.1 153.6h0M202.8 160.6h0M207.1 141.4h0M200.0 116.9h0M200.4 158.0h0M201.4 152.8h0M208.5 149.4h0M200.9 119.4h0M201.4 123.9h0M206.4 147.8h0M204.2 160.5h0M209.0 136.1h0M208.9 133.9h0M203.4 150.4h0M209.2 145.8h0M210.1 155.1h0M209.1 143.2h0M203.4 129.0h0M203.7 120.2h0M204.9 161.7h0M205.9 147.5h0M203.2 124.8h0M201.7 123.7h0M209.0 143.5h0M206.1 146.3h0M203.5 152.8h0M199.3 118.4h0M209.2 144.9h0M203.7 163.3h0M202.5 159.1h0M203.7 160.7h0M203.8 151.6h0M202.4 161.5h0M210.1 150.6h0M200.6 117.3h0M208.0 156.3h0M201.5 124.6h0M207.2 151.6h0M200.7 160.8h0M205.5 126.6h0M204.6 154.9h0M205.1 152.0h0M204.6 135.8h0M199.6 119.6h0M204.1 123.6h0M203.0 154.9h0M203.4 151.2h0M203.7 161.0h0M205.9 139.7h0M206.2 139.5h0M209.2 153.8h0M199.9 123.2h0M204.4 129.2h0M202.8 158.1h0M206.6 130.8h0M207.3 148.2h0M207.0 147.2h0M207.0 155.4h0M206.5 120.0h0M206.8 152.6h0M205.1 146.8h0M207.8 155.1h0M205.4 124.1h0M207.3 137.1h0M206.4 125.0h0M207.6 141.0h0M198.1 125.0h0M210.6 145.5h0M208.4 136.9h0M201.2 160.8h0M202.7 153.5h0M206.5 139.6h0M205.3 132.2h0M206.6 156.9h0M199.3 159.2h0M203.6 148.4h0M204.4 144.6h0M202.7 129.3h0M203.4 120.3h0M208.7 144.1h0M207.9 132.8h0M207.9 141.2h0M200.1 118.4h0M211.6 152.8h0M204.1 151.4h0M207.3 137.9h0M208.4 144.4h0M207.8 143.3h0M205.1 144.3h0M207.4 154.0h0M208.1 153.3h0M204.3 128.6h0M206.7 146.2h0M200.8 116.7h0M206.0 140.2h0M205.8 136.8h0M202.0 131.7h0M207.1 139.9h0M208.4 128.6h0M205.8 142.9h0M206.8 156.1h0M204.7 120.6h0M206.0 148.1h0M198.7 118.2h0M204.3 125.5h0M200.8 128.4h0M207.7 154.0h0M204.4 153.2h0M207.6 138.9h0M205.4 140.5h0M207.5 133.1h0M206.2 140.1h0M205.6 156.8h0M207.6 144.6h0M202.9 125.8h0M202.5 155.7h0M205.8 134.9h0M203.5 122.0h0M202.1 161.1h0M206.6 142.7h0M205.6 140.1h0M208.1 132.0h0M207.4 137.7h0M200.3 158.2h0M203.4 126.2h0M208.4 133.0h0M203.5 125.4h0M208.4 136.9h0M204.6 160.8h0M206.1 157.2h0M206.0 125.1h0M207.7 134.3h0M210.5 150.8h0M200.7 154.0h0M201.3 159.6h0M204.2 157.8h0M202.1 134.9h0M206.8 145.6h0M204.3 160.6h0M203.9 141.0h0M203.0 129.6h0M205.1 136.7h0M202.5 157.2h0M204.7 154.0h0M201.5 120.5h0M203.9 129.7h0M208.3 140.1h0M208.7 126.7h0M200.2 156.0h0M209.2 137.0h0M204.4 151.7h0M207.0 145.3h0M204.1 126.3h0M206.6 129.4h0M206.0 120.5h0M199.8 162.8h0M209.7 130.5h0M205.7 153.7h0M202.7 157.2h0M198.7 160.3h0M206.9 129.6h0M207.4 144.6h0M201.5 127.7h0M204.2 124.9h0M205.1 158.1h0M199.6 117.8h0M203.5 156.0h0M208.2 144.0h0M204.4 138.9h0M205.6 150.0h0M203.6 114.7h0M204.9 144.7h0M201.3 136.1h0M207.5 144.5h0M202.1 163.2h0M201.7 159.8h0M206.5 151.0h0M207.8 123.5h0M207.0 149.4h0M201.2 156.1h0M209.3 143.4h0M211.3 133.5h0M201.5 126.0h0M209.2 147.3h0M199.7 123.5h0M202.1 124.2h0M202.3 163.5h0M200.6 157.1h0M204.9 127.4h0M202.3 163.4h0M206.3 133.3h0M206.2 151.6h0M204.8 141.3h0M207.0 141.6h0M201.4 149.5h0M202.3 115.3h0M203.1 158.0h0M198.9 124.1h0M206.0 133.3h0M201.3 153.2h0M202.0 134.7h0M208.8 141.1h0M211.1 142.4h0M206.1 137.5h0M206.0 140.0h0M200.7 162.5h0M204.7 124.0h0M204.4 146.5h0M202.7 155.4h0M205.0 157.2h0M200.6 121.6h0M198.9 160.1h0M202.8 124.4h0M203.4 125.0h0M201.9 154.2h0M204.6 160.3h0M208.0 134.7h0M206.4 157.4h0M201.3 158.4h0M197.1 118.4h0M203.1 163.3h0M199.9 159.1h0M206.5 156.2h0M207.6 131.7h0M203.2 127.9h0M207.3 140.4h0M204.6 157.4h0M210.6 150.0h0M197.3 121.7h0M204.4 153.8h0M204.9 145.3h0M205.4 123.4h0M201.0 128.5h0M202.1 127.3h0M205.4 145.8h0M206.1 145.3h0M207.9 155.0h0M207.0 138.4h0M201.7 118.3h0M207.5 139.0h0M204.5 149.5h0M200.8 161.5h0M202.7 161.7h0M203.1 155.1h0M202.0 159.9h0M204.6 134.1h0M204.3 147.9h0M203.4 128.4h0M207.8 138.2h0M203.3 160.2h0M207.4 153.5h0M203.2 157.4h0M202.9 146.9h0M203.3 144.1h0M201.7 159.3h0M207.1 137.4h0M203.3 157.3h0M206.1 136.0h0M198.0 118.0h0M207.1 141.5h0M206.7 138.5h0M207.0 147.4h0M205.1 145.3h0M209.7 137.4h0M206.1 144.2h0M204.8 129.4h0M204.3 150.3h0M206.3 150.1h0M200.0 117.2h0M204.0 123.7h0M208.7 144.7h0M203.9 153.4h0M205.9 148.8h0M205.7 152.3h0M209.2 135.6h0M205.4 132.2h0M203.2 119.0h0M206.4 137.7h0M204.5 130.2h0M204.7 150.7h0M209.3 140.9h0M203.3 157.6h0M203.0 120.6h0M206.4 132.8h0M205.0 140.6h0M208.5 131.6h0M205.0 148.8h0M208.9 126.8h0M211.0 140.9h0M202.6 149.6h0M204.4 138.2h0M208.5 139.5h0M209.4 150.6h0M208.8 140.6h0M207.8 145.7h0M203.4 122.4h0M202.3 152.8h0M200.1 159.9h0M206.3 128.3h0M207.4 141.0h0M207.2 124.4h0M203.9 126.1h0M206.0 152.6h0M205.0 146.3h0M208.4 131.3h0M208.5 143.1h0M199.7 123.2h0M208.2 149.7h0M207.7 124.1h0M204.0 126.4h0M208.2 154.2h0M202.6 123.4h0M206.2 144.7h0M205.0 161.2h0M205.8 136.7h0M206.3 133.7h0M203.3 162.6h0M204.2 133.1h0M206.9 132.6h0M199.4 117.3h0M195.9 121.3h0M200.0 161.2h0M202.3 153.0h0M197.7 122.4h0M212.5 146.0h0M206.8 149.7h0M207.4 136.1h0M208.7 142.6h0M208.8 130.5h0M208.9 145.1h0M211.0 135.9h0M199.8 160.6h0M203.8 156.9h0M204.1 161.4h0M207.3 134.5h0M208.1 148.4h0M208.3 123.2h0M200.2 161.4h0M211.1 141.6h0M207.5 132.7h0M205.4 119.4h0M208.0 131.5h0M206.1 144.4h0M209.0 148.1h0M207.0 140.4h0M205.3 141.4h0M205.4 124.4h0M206.9 135.6h0M201.7 119.6h0M200.3 157.9h0M210.0 145.9h0M203.2 139.1h0M207.5 127.2h0M201.0 120.7h0M206.9 158.1h0M200.0 128.5h0M207.8 151.7h0M210.0 142.5h0M207.0 133.9h0M202.2 125.3h0M211.0 143.2h0M207.5 147.7h0M205.7 137.5h0M205.6 151.7h0M203.0 138.1h0M202.4 158.5h0M205.0 126.2h0M198.5 161.1h0M204.6 125.9h0M205.3 116.8h0M206.1 130.5h0" stroke="#3fbfb2" stroke-width="0.9" stroke-linecap="round" fill="none" opacity="0.85"/>
<path d="M197.6 167.2h0M200.4 162.9h0M196.6 168.3h0M199.3 164.6h0M195.6 171.0h0M191.9 175.5h0M192.6 175.1h0M197.6 166.9h0M196.4 168.2h0M198.8 166.1h0M195.0 171.3h0M191.8 175.8h0M192.5 175.1h0M198.6 166.3h0M192.3 175.1h0M192.4 174.7h0M200.1 163.4h0M194.4 171.8h0M199.2 165.1h0M197.5 168.0h0M193.1 174.5h0M199.3 164.6h0M193.3 173.0h0M194.9 171.8h0M195.2 170.7h0" stroke="#5fbf9f" stroke-width="0.7" stroke-linecap="round" fill="none" opacity="0.8"/>
<path d="M148.8 156.8h0M159.0 161.2h0M159.4 150.9h0M157.2 155.0h0M158.8 156.6h0M159.0 154.8h0M188.9 149.5h0M168.6 152.7h0M143.9 162.3h0M158.9 156.5h0M151.1 156.7h0M169.9 149.5h0M177.5 153.3h0M164.9 152.7h0M168.3 147.3h0M170.8 147.0h0M158.8 158.2h0M163.6 148.7h0M148.4 153.6h0M157.4 152.8h0M169.4 151.5h0M176.4 154.5h0M153.1 159.3h0M171.7 148.9h0M159.0 152.5h0M154.2 155.5h0M164.0 151.4h0M149.8 158.3h0M173.0 154.7h0M150.6 155.1h0M159.2 152.8h0M169.9 150.0h0M159.9 155.4h0M162.7 154.5h0M161.2 155.6h0M164.6 153.6h0M166.6 154.1h0M167.8 154.1h0M165.8 154.2h0M155.1 154.2h0M159.3 152.8h0M157.9 153.1h0M156.8 156.0h0M186.4 153.9h0M162.0 154.2h0M159.9 153.8h0M166.7 154.1h0M164.7 155.9h0M159.0 156.6h0M162.8 151.3h0M171.3 149.6h0M167.8 150.9h0M157.2 158.0h0M165.2 153.3h0M155.0 151.0h0M158.1 154.4h0M169.0 152.5h0M169.5 151.0h0M169.6 154.6h0M160.6 156.5h0M174.3 147.8h0M151.5 154.5h0M157.1 152.5h0M162.4 150.3h0M176.0 150.8h0M163.5 153.2h0M157.7 155.2h0M161.2 155.2h0M167.4 150.7h0M147.9 155.2h0M162.8 148.5h0M165.6 153.5h0M151.9 156.7h0M169.2 152.2h0M166.1 154.6h0M171.8 155.0h0M156.2 154.7h0M161.8 151.4h0M163.2 154.7h0M163.5 148.7h0M155.8 148.8h0M162.8 153.8h0M168.6 154.9h0M154.7 155.3h0M163.7 155.7h0M170.9 151.6h0M151.1 158.4h0M159.5 149.8h0M163.0 151.6h0M162.9 156.9h0M161.1 152.1h0M165.2 152.6h0M163.4 156.3h0M164.1 154.8h0M161.7 154.4h0M153.7 153.8h0M170.7 155.6h0M154.0 157.5h0M168.5 150.5h0M167.8 154.3h0M172.3 156.4h0M162.4 154.9h0M155.4 156.1h0M162.2 153.4h0M163.6 155.9h0M169.7 154.4h0M175.2 147.5h0M161.0 154.0h0M158.9 153.5h0M151.2 155.5h0M171.3 150.9h0M162.2 155.1h0M161.6 151.6h0M158.9 157.7h0M156.3 152.0h0M176.9 151.2h0M152.7 151.4h0M155.7 151.9h0M161.6 156.5h0M168.0 151.8h0M166.9 151.9h0M142.9 159.9h0M155.5 152.9h0M169.9 152.5h0M169.4 155.0h0M168.0 152.4h0M177.5 148.1h0M170.6 157.1h0M160.5 152.8h0M169.3 155.3h0M166.2 151.5h0M162.7 150.1h0M171.1 155.0h0M161.1 155.8h0M160.0 154.6h0M163.4 153.2h0M184.7 148.4h0M169.7 150.1h0M164.3 153.4h0M156.3 157.4h0M169.0 156.0h0M165.0 150.7h0M168.8 153.4h0M175.2 145.1h0M161.1 154.5h0M169.7 149.3h0M171.1 152.9h0M147.7 163.2h0M145.2 154.9h0M156.0 156.5h0M158.6 154.5h0M156.6 156.4h0M169.5 156.9h0M150.4 154.6h0M157.4 153.8h0M161.4 155.8h0M157.1 153.4h0M172.7 155.3h0M177.7 156.0h0M157.2 158.5h0M167.8 152.6h0M166.8 151.3h0M153.5 155.2h0M150.3 155.5h0M162.3 151.4h0M155.5 150.3h0M153.2 155.7h0M157.2 155.4h0M157.0 153.8h0M150.3 160.9h0M160.8 156.6h0M155.6 152.3h0M164.1 152.4h0M162.0 155.7h0M167.3 154.9h0M162.7 148.9h0M166.8 156.9h0M165.8 155.9h0M166.3 154.5h0M166.1 149.2h0M145.7 157.7h0M167.3 154.3h0M159.9 153.2h0M154.4 156.5h0M165.2 155.2h0M162.0 157.3h0M157.2 157.9h0M156.8 158.8h0M169.3 149.9h0M165.9 150.6h0M177.0 153.7h0M163.2 154.7h0M161.7 152.9h0M153.7 155.6h0M170.3 153.2h0M171.7 154.6h0M166.0 150.8h0M154.5 154.6h0M144.3 153.7h0M163.7 157.2h0M179.5 150.8h0M170.0 153.3h0M155.9 157.8h0M162.3 155.6h0M147.7 156.2h0M169.8 151.8h0M162.7 156.2h0M174.5 155.0h0M163.1 152.4h0M169.5 150.8h0M152.4 154.0h0M161.6 152.3h0M156.5 157.8h0M152.8 152.8h0M163.2 155.5h0M157.7 152.4h0M181.2 148.9h0M182.9 147.7h0M171.9 148.8h0M175.6 152.7h0M164.3 152.1h0M175.7 154.8h0M163.3 154.5h0M157.9 156.8h0M160.7 155.9h0M147.8 158.4h0M170.9 152.8h0M174.8 149.5h0M172.1 152.5h0M163.8 155.0h0M172.7 147.3h0M163.4 153.7h0M169.1 152.7h0M159.6 155.4h0M169.2 150.9h0M164.4 153.4h0M158.4 155.0h0M178.2 149.6h0M167.8 154.4h0M172.2 151.2h0M153.8 157.9h0M147.3 158.1h0M171.0 154.0h0M163.6 153.3h0M159.5 157.1h0M149.4 153.8h0M158.8 154.4h0M166.7 152.5h0M163.1 152.6h0M171.6 154.4h0M150.4 159.5h0M165.5 153.7h0M169.7 153.8h0M164.6 154.8h0M149.3 158.0h0M163.5 151.1h0M158.9 156.4h0M158.8 152.3h0M160.7 153.0h0M164.3 156.8h0M178.7 150.6h0M166.0 150.7h0M168.5 154.1h0M158.3 156.8h0M158.1 155.4h0M165.0 153.8h0M165.5 154.6h0M158.4 155.5h0M168.8 155.3h0M156.0 154.4h0" stroke="#43b9a8" stroke-width="0.9" stroke-linecap="round" fill="none" opacity="0.8"/>
<path d="M149.1 109.2h0M151.3 113.9h0M148.8 110.7h0M149.2 111.0h0M148.1 113.9h0M147.7 112.1h0M152.6 111.3h0M153.8 108.6h0M143.0 112.1h0M151.2 110.9h0M150.8 110.0h0M147.7 110.0h0M150.3 112.0h0M155.0 110.7h0M146.1 112.5h0M149.2 109.6h0M151.9 108.4h0M147.0 113.8h0M148.9 111.8h0M153.4 109.3h0M150.6 112.8h0" stroke="#49aede" stroke-width="0.8" stroke-linecap="round" fill="none" opacity="0.7"/>
<path d="M101.6 151.0h0M111.4 153.2h0M100.7 144.1h0M101.6 144.0h0M85.8 141.2h0M96.7 146.1h0M93.1 150.0h0M95.7 143.7h0M96.4 146.1h0M100.1 146.1h0M101.9 144.7h0M95.6 148.2h0M91.8 147.0h0M97.5 149.7h0M81.8 150.6h0M94.4 146.5h0M104.9 148.0h0M88.1 145.2h0M100.9 145.2h0M98.7 149.2h0M108.2 143.9h0M86.9 143.7h0M93.7 149.6h0M98.0 150.6h0M97.6 141.6h0M98.8 144.0h0M98.3 140.7h0M101.0 142.7h0M94.0 149.2h0M95.0 143.2h0M105.2 145.1h0M102.3 145.9h0M85.7 145.6h0M98.7 145.7h0M106.3 140.4h0M92.1 148.4h0M103.1 149.2h0M90.7 147.4h0M99.5 152.4h0M109.3 147.9h0M100.2 148.8h0M95.8 147.2h0M98.7 146.7h0M100.5 146.3h0M93.0 150.1h0M102.0 143.7h0M100.0 143.3h0M98.4 143.8h0M92.8 147.7h0M91.0 148.8h0M106.0 145.4h0M91.9 147.6h0M95.0 141.1h0M109.3 144.6h0M107.4 149.3h0M100.4 147.6h0M94.5 148.4h0M92.9 147.6h0M91.3 146.4h0M79.3 144.4h0M98.6 146.5h0M98.2 148.0h0M106.7 144.5h0M75.0 148.0h0M97.7 146.3h0M100.7 151.7h0M98.2 143.1h0M100.8 143.9h0M87.4 142.6h0M96.4 141.5h0M94.1 147.8h0M82.8 150.5h0M108.3 145.7h0M95.8 145.4h0M78.7 146.9h0M87.4 145.7h0M90.0 143.2h0M92.0 142.6h0M83.3 150.3h0M89.9 149.3h0M100.8 145.2h0M96.6 146.4h0M99.4 147.6h0M94.7 146.1h0M102.4 143.4h0M86.4 139.0h0M94.2 149.5h0M108.7 144.2h0M97.3 143.3h0M97.0 145.6h0M101.6 148.9h0M98.9 146.5h0M101.5 145.5h0M104.0 151.2h0M101.3 152.0h0M92.6 147.9h0M97.9 143.7h0M98.3 145.7h0M99.1 146.7h0M100.5 145.1h0M96.3 149.3h0M104.0 146.8h0M86.0 149.3h0M100.1 142.6h0M84.6 140.8h0M86.9 152.3h0M93.7 145.7h0M100.7 151.3h0" stroke="#e892c2" stroke-width="0.8" stroke-linecap="round" fill="none" opacity="0.6"/>
<path d="M132.6 154.3h0M105.2 153.3h0M118.2 157.6h0M108.7 158.1h0M110.9 156.5h0M126.7 158.8h0M124.9 159.1h0M108.0 160.9h0M103.0 160.2h0M122.8 155.0h0M120.8 155.9h0M102.1 157.9h0M111.9 158.6h0M98.8 156.0h0M116.9 157.7h0M125.8 157.8h0M130.8 156.4h0M98.6 157.2h0M133.2 156.0h0M118.9 161.1h0M113.4 157.7h0M123.3 154.1h0M127.3 156.0h0M100.7 151.1h0M120.3 155.2h0M119.2 158.8h0M119.8 155.9h0M114.2 158.4h0M100.3 151.2h0M97.5 156.3h0M105.6 161.7h0M132.0 154.3h0M102.1 154.5h0M120.7 156.1h0M107.3 162.3h0M107.8 159.2h0M130.6 153.5h0M125.3 163.2h0M121.4 157.6h0M120.6 163.3h0M118.7 159.5h0M116.1 162.3h0M104.5 155.8h0M105.8 157.7h0M118.8 163.2h0M128.5 153.9h0M103.4 159.1h0M116.0 161.1h0M115.9 165.9h0M119.3 160.4h0M121.9 160.0h0M114.4 161.9h0M122.8 159.8h0M116.4 161.7h0M111.6 163.2h0M126.6 159.8h0M112.5 163.1h0M126.4 157.1h0M129.5 156.5h0M111.4 165.1h0M99.1 157.6h0M118.9 159.0h0M127.1 157.2h0M106.6 161.9h0M119.1 158.0h0M103.7 160.2h0M107.1 162.1h0M111.7 164.6h0M129.7 154.7h0M123.9 162.2h0M112.2 163.2h0M103.7 159.7h0M123.6 154.8h0M129.5 152.9h0M129.7 157.4h0M100.3 152.5h0M113.0 159.9h0M124.1 157.6h0M127.6 157.8h0M128.7 156.8h0M111.4 157.2h0M122.7 156.2h0M104.9 157.5h0M112.0 158.6h0M101.9 157.3h0M100.5 154.4h0M109.5 161.7h0M115.2 165.4h0M129.9 150.5h0M106.6 160.3h0M130.9 155.9h0M118.3 162.5h0M101.0 158.4h0M114.6 158.3h0M112.9 162.2h0M106.2 160.3h0M125.7 160.1h0M128.9 151.1h0M104.9 155.2h0M131.3 155.6h0M109.7 156.6h0M97.3 162.1h0M129.1 157.1h0M116.1 160.7h0M122.3 164.2h0M127.2 151.4h0M106.6 160.5h0M112.8 160.8h0" stroke="#cfd874" stroke-width="0.8" stroke-linecap="round" fill="none" opacity="0.6"/>
<path d="M118.7 172.2h0M143.8 178.6h0M138.7 178.2h0M129.4 176.1h0M122.9 173.8h0M115.3 172.8h0M181.4 186.2h0M172.6 184.0h0M146.4 178.6h0M119.5 173.8h0M119.6 174.3h0M131.1 176.0h0M126.5 175.1h0M128.5 174.8h0M141.4 178.0h0M164.0 183.2h0M117.0 171.9h0M175.3 184.5h0M168.4 184.7h0M173.0 184.4h0M168.0 183.9h0M177.4 183.2h0M125.1 175.3h0M115.5 174.1h0M177.2 182.6h0M176.9 184.1h0M128.6 175.3h0M126.3 172.5h0M122.6 174.5h0M119.9 173.9h0M130.1 176.9h0M165.8 183.0h0M131.7 176.6h0M153.8 181.1h0M121.6 172.8h0M140.7 178.2h0M187.3 184.1h0M130.6 176.2h0M141.0 179.5h0M150.8 181.7h0M148.9 179.3h0M115.6 171.4h0M172.9 184.7h0M152.7 182.8h0M152.5 180.2h0M187.2 185.4h0M122.3 175.4h0M181.4 183.9h0M144.1 180.1h0M162.4 182.1h0M181.0 183.3h0M172.8 183.5h0M128.0 176.0h0M131.6 174.9h0M156.3 180.8h0M184.2 184.5h0M161.4 181.8h0M165.5 181.3h0M170.8 183.8h0M179.9 185.6h0M177.4 183.7h0M116.2 172.3h0M156.9 179.7h0M180.4 183.9h0M128.5 174.8h0M166.1 183.0h0M128.3 176.0h0M113.7 171.3h0M141.0 177.8h0M137.6 177.3h0M161.7 182.3h0M144.7 178.1h0M153.4 179.0h0M152.9 182.0h0M173.8 183.0h0M136.1 176.2h0M122.2 175.2h0M176.1 182.5h0M165.7 182.5h0M124.1 175.3h0M124.2 175.5h0" stroke="#a9d48a" stroke-width="0.7" stroke-linecap="round" fill="none" opacity="0.6"/>
<path d="M128.5 173.1h0M138.6 166.7h0M122.5 176.2h0M148.5 159.1h0M149.4 161.1h0M143.9 163.4h0M122.1 176.2h0M133.9 170.9h0M125.7 173.9h0M123.6 174.3h0M133.3 170.3h0M130.2 170.6h0M130.9 170.2h0M149.1 159.8h0M121.5 175.6h0M133.8 170.3h0M147.3 162.3h0M136.5 169.1h0M150.7 161.2h0M138.0 165.8h0M147.0 160.7h0M148.5 160.1h0M135.7 169.6h0M121.4 174.9h0M146.5 162.1h0M132.8 170.4h0M122.2 173.7h0M145.4 160.5h0M130.7 170.5h0M148.4 161.2h0M147.4 163.1h0M140.1 166.7h0M122.1 175.1h0M120.2 175.2h0M122.0 175.9h0M141.6 163.7h0" stroke="#8fd0c0" stroke-width="0.7" stroke-linecap="round" fill="none" opacity="0.6"/>
<path d="M162.8 206.8h0M162.9 195.0h0M160.6 194.7h0M172.1 194.6h0M165.5 209.1h0M178.1 202.7h0M172.2 209.4h0M160.0 202.7h0M178.6 201.8h0M160.2 203.0h0M171.8 208.4h0M165.1 207.9h0M177.0 196.6h0M170.6 209.0h0M173.0 195.2h0M162.4 196.8h0M172.5 208.7h0M176.5 194.7h0M159.4 203.8h0M172.6 194.7h0M165.5 193.2h0M167.7 210.5h0M172.6 208.4h0M164.4 193.9h0M178.1 197.2h0M174.9 194.6h0M179.0 199.4h0M162.3 197.1h0M172.1 208.9h0M159.5 197.5h0M166.6 208.6h0M163.0 195.5h0M162.9 196.6h0M158.4 201.2h0M174.1 206.1h0M175.5 207.8h0M166.9 210.8h0M175.3 195.0h0M165.1 208.9h0M178.5 203.0h0M169.7 207.8h0M162.3 204.7h0M164.0 195.9h0M159.0 198.1h0M174.9 193.8h0M174.7 194.7h0M171.8 209.0h0M176.7 197.9h0M165.3 195.8h0M169.1 207.8h0M160.3 199.2h0M177.6 197.6h0M176.5 194.8h0M163.6 206.0h0M167.9 209.6h0M169.5 194.4h0M165.0 195.0h0M169.2 209.9h0M177.9 202.5h0M162.5 207.2h0M177.7 203.3h0M160.4 199.0h0M175.5 205.1h0M166.0 192.7h0M177.6 198.4h0M172.4 208.0h0M171.7 192.6h0M160.4 196.1h0M180.3 202.3h0M173.0 195.3h0M159.9 201.0h0M177.3 196.4h0M172.5 193.6h0M160.3 196.3h0M176.2 206.5h0M176.4 206.1h0M166.8 209.1h0M162.3 204.8h0M159.1 199.8h0M177.8 196.3h0M178.9 199.8h0M168.8 209.9h0M160.2 196.7h0M158.8 200.0h0M162.2 193.3h0M161.4 194.8h0M167.4 191.9h0M175.7 195.6h0M172.7 193.2h0M164.4 193.8h0M165.5 209.7h0M173.7 209.0h0M165.4 194.3h0M174.5 209.3h0M160.7 196.6h0M177.0 198.0h0M173.7 210.1h0M160.9 205.3h0M172.4 207.1h0M160.2 198.8h0M169.7 193.4h0M176.1 196.0h0M178.8 202.7h0M160.7 196.7h0M161.1 207.7h0M167.0 194.4h0M166.4 208.8h0M174.4 207.9h0M170.1 209.9h0M175.1 193.2h0M164.6 194.2h0M177.5 203.8h0M174.3 207.4h0M160.4 206.0h0M177.0 203.5h0M160.1 201.3h0M176.4 198.0h0M178.8 200.1h0M178.2 199.7h0M174.2 194.2h0M168.7 193.0h0M166.3 209.0h0M159.8 200.4h0M162.5 199.4h0M172.9 208.7h0M158.6 201.8h0M176.9 203.1h0M174.3 193.4h0M178.3 195.7h0M161.6 205.6h0M173.6 193.6h0M174.8 195.3h0M164.2 205.5h0M176.9 205.6h0M164.2 206.6h0M170.1 194.1h0M167.1 193.3h0M173.3 208.0h0M175.8 206.2h0M166.4 208.1h0M164.9 194.5h0M175.0 207.6h0M161.4 198.5h0M165.4 207.2h0M178.9 206.9h0M178.1 200.7h0M170.4 192.5h0M161.0 206.4h0M164.6 208.7h0M163.3 206.6h0M179.3 202.6h0M180.3 203.7h0M161.8 205.1h0M165.4 208.3h0M162.7 207.4h0M173.7 193.4h0M159.9 202.2h0M173.2 207.3h0M160.6 203.5h0M164.6 193.8h0M173.5 194.3h0M177.8 197.8h0M170.9 207.4h0M176.7 198.1h0M170.7 208.2h0M163.4 195.0h0M178.4 195.2h0M163.9 194.5h0M164.8 195.9h0M173.4 208.0h0M173.3 194.5h0M166.4 210.3h0M169.4 193.4h0M177.4 196.8h0M175.9 193.2h0M174.4 193.9h0M171.4 194.8h0M158.7 202.5h0M169.8 193.2h0M170.5 192.9h0M177.2 196.1h0M164.1 194.5h0M157.9 201.3h0M166.3 195.2h0M174.2 193.8h0M176.6 206.1h0M176.8 203.4h0M163.7 208.1h0M173.2 207.3h0M159.1 201.2h0M168.5 209.2h0M176.8 201.2h0M169.5 192.6h0M166.6 191.7h0M166.0 205.8h0M160.8 197.7h0M164.9 194.3h0M160.8 205.6h0M179.2 199.6h0M161.9 204.9h0M167.3 207.8h0M174.1 207.9h0M161.9 206.3h0M175.8 197.5h0M159.7 199.9h0M160.2 195.9h0M168.0 210.1h0M167.0 192.8h0M171.9 193.4h0M179.0 203.6h0M172.9 192.8h0M162.9 194.2h0M170.2 210.5h0M159.0 203.5h0M169.8 208.7h0M166.5 209.0h0" stroke="#dccd55" stroke-width="0.8" stroke-linecap="round" fill="none" opacity="0.75"/>
<path d="M123.5 223.6h0M113.4 230.6h0M113.8 220.0h0M108.4 225.7h0M120.5 234.8h0M100.4 223.8h0M120.5 220.7h0M116.6 223.8h0M114.7 225.0h0M108.1 226.7h0M112.1 223.7h0M114.6 221.5h0M109.6 219.7h0M116.2 226.1h0M110.4 222.1h0M116.5 218.7h0M110.5 230.1h0M114.4 231.3h0M120.1 220.3h0M113.3 219.9h0M115.2 219.1h0M112.3 222.5h0M118.6 223.6h0M105.7 224.8h0M102.6 219.6h0M116.0 224.4h0M107.0 225.0h0M100.9 222.8h0M112.9 223.3h0M119.9 228.4h0M106.5 222.0h0M105.1 218.4h0M117.5 228.9h0M99.9 227.6h0M106.3 220.9h0M108.9 221.5h0M104.3 228.1h0M111.0 220.6h0M116.6 222.3h0M111.8 222.6h0M106.7 219.7h0M105.2 232.4h0M118.2 230.7h0M104.6 222.9h0M120.1 223.9h0M109.9 230.6h0M120.6 228.7h0M100.8 220.6h0M107.9 216.0h0M104.6 222.8h0M114.7 224.6h0M111.2 223.0h0M107.3 227.7h0M102.7 227.1h0M116.1 222.9h0M111.4 226.3h0M106.7 221.3h0M115.8 228.6h0M121.4 231.4h0M108.9 230.0h0M118.8 227.0h0M115.0 224.4h0M104.1 225.1h0M114.0 216.3h0M106.7 220.6h0M110.7 224.0h0M120.1 219.0h0M109.5 218.8h0M111.4 223.6h0M107.0 220.1h0M116.2 218.2h0M114.0 220.0h0M115.7 211.5h0M112.7 225.9h0M116.9 225.9h0M102.7 229.0h0M112.5 223.7h0M110.9 225.2h0M108.1 230.7h0M101.7 218.4h0M110.7 219.3h0M106.3 225.2h0M122.5 217.2h0M117.4 223.3h0M106.5 227.0h0M107.4 223.1h0M112.7 224.9h0M113.9 218.5h0M106.8 237.5h0M112.1 222.4h0M110.6 220.0h0M112.5 221.9h0M125.1 231.3h0M111.4 229.1h0M108.0 224.8h0M113.2 227.9h0M117.5 226.4h0M103.8 224.7h0M117.8 227.0h0M113.0 222.5h0M109.9 227.0h0M114.9 223.8h0M110.9 220.5h0M112.9 225.6h0M113.5 222.1h0M107.5 218.0h0M115.8 224.6h0M116.7 221.7h0M126.2 226.0h0M106.4 228.2h0M118.2 217.9h0M104.0 222.9h0M105.9 227.2h0M113.6 223.9h0M119.9 225.4h0M99.5 228.0h0M113.4 218.5h0M106.3 224.0h0M108.5 229.2h0M120.5 219.5h0M116.0 231.5h0M113.9 220.5h0M119.0 229.6h0M116.1 223.3h0M115.5 215.2h0M122.4 223.6h0M111.6 230.7h0M115.5 220.0h0M112.5 232.6h0M105.1 225.2h0M111.7 218.9h0M121.2 224.2h0M108.0 230.4h0M103.1 230.6h0M109.3 225.4h0M112.6 227.3h0M108.6 220.2h0M119.3 221.0h0M109.2 220.8h0M115.4 226.1h0M111.3 219.8h0M113.6 228.1h0M106.0 225.1h0M106.2 223.2h0M116.0 226.2h0M111.4 224.5h0M110.4 224.2h0M116.1 230.1h0M109.9 212.9h0M110.5 229.2h0M117.8 219.6h0M109.0 223.4h0M117.4 224.8h0M113.0 219.8h0M102.1 226.6h0M117.0 219.6h0M105.1 224.9h0M117.2 214.1h0M117.6 227.9h0M120.8 224.6h0M107.8 220.8h0M108.6 227.2h0M114.6 229.0h0M116.1 224.4h0M109.9 217.4h0M118.6 217.1h0M105.2 229.2h0M114.0 226.6h0M111.1 224.4h0M107.4 224.6h0M106.3 217.8h0M111.0 215.6h0M110.6 221.7h0M113.1 219.7h0M117.0 220.0h0M117.2 225.3h0M112.1 226.3h0M106.7 225.9h0M118.8 225.6h0M112.4 220.8h0M113.7 223.6h0M114.2 220.6h0M112.8 222.5h0M99.9 224.2h0M109.3 221.7h0M112.2 221.5h0M119.0 225.9h0M112.9 227.6h0M112.0 224.7h0M111.8 224.0h0M115.2 223.9h0M108.3 230.6h0M120.0 224.1h0M106.0 220.2h0M98.9 222.3h0M101.1 226.9h0M119.9 232.5h0M112.6 230.0h0M110.7 222.4h0M108.8 228.4h0M106.9 234.6h0M111.8 225.8h0M117.3 230.6h0M112.3 228.2h0M114.1 228.7h0M115.8 224.4h0M114.8 222.6h0M114.2 222.7h0M108.5 224.7h0M110.2 226.4h0M116.7 233.3h0M107.2 227.9h0M116.0 223.3h0M105.4 216.2h0M119.9 229.4h0M114.2 233.1h0M114.0 230.9h0M107.3 220.9h0M113.8 219.2h0M111.9 220.9h0M115.0 225.0h0M108.8 223.3h0M116.2 220.1h0M114.5 221.0h0M108.0 229.3h0M110.0 223.8h0M130.1 217.2h0M105.5 223.9h0M116.8 218.9h0M114.9 221.0h0M123.6 225.5h0M118.4 220.6h0M100.1 225.4h0M106.6 225.2h0M104.3 224.0h0M112.8 227.3h0M108.4 220.9h0M110.7 232.3h0M110.5 227.5h0M116.8 226.9h0M115.5 217.1h0M118.1 227.0h0M111.4 225.9h0M115.3 223.4h0M112.5 221.1h0M115.0 218.4h0M111.8 221.7h0M116.4 229.0h0M114.0 225.3h0M115.4 218.3h0M113.1 219.1h0M112.9 221.9h0M109.7 227.0h0M119.4 220.5h0M109.2 223.5h0M109.1 223.5h0M112.4 220.0h0M118.3 217.1h0M112.1 229.1h0M113.8 220.0h0M109.7 222.0h0M109.1 218.2h0M106.3 225.4h0M112.4 223.2h0M118.4 228.4h0M107.2 226.2h0M107.7 221.6h0M98.3 224.6h0M109.0 221.9h0M114.7 227.6h0" stroke="#7aa8dc" stroke-width="0.9" stroke-linecap="round" fill="none" opacity="0.7"/>
<path d="M132.2 234.3h0M133.7 233.9h0M132.0 234.5h0M132.1 234.4h0M132.4 233.7h0M132.3 234.1h0M133.4 234.1h0M132.5 233.9h0M133.5 234.2h0M132.5 234.5h0" stroke="#2f4f80" stroke-width="1.2" stroke-linecap="round" fill="none" opacity="0.9"/>
<path d="M127.3 231.8h0M118.7 229.4h0M126.0 230.7h0M127.1 231.6h0M129.5 229.4h0M121.2 226.2h0M119.0 229.7h0M124.0 229.5h0M123.0 230.7h0M119.5 230.2h0M117.7 228.9h0M129.2 231.4h0M125.0 229.5h0M124.9 228.5h0M127.9 231.4h0M124.5 229.4h0M126.4 231.7h0M130.8 233.2h0M122.4 230.3h0M118.3 230.1h0M123.6 232.3h0M128.8 233.6h0M124.0 230.4h0M127.1 233.0h0M120.7 228.8h0M126.2 230.7h0M117.5 230.1h0M125.6 229.0h0M126.3 229.8h0M130.0 233.2h0M119.3 229.4h0M119.2 229.3h0" stroke="#8ab4e0" stroke-width="0.8" stroke-linecap="round" fill="none" opacity="0.65"/>
<path d="M104.7 203.0h0M100.0 214.2h0M103.1 208.2h0M102.3 214.3h0M102.3 208.8h0M104.3 202.0h0M106.0 197.9h0M103.9 206.1h0M105.6 201.2h0M105.3 207.2h0M102.6 214.6h0M100.4 212.0h0M101.5 213.9h0M101.5 209.9h0M103.8 207.3h0M103.4 212.2h0M104.9 198.0h0M102.6 208.6h0M103.7 197.9h0M103.6 202.0h0M106.2 198.8h0M103.0 208.2h0M103.8 199.6h0M101.6 211.5h0M104.9 203.3h0M103.7 198.2h0M102.9 212.4h0M102.9 203.4h0M103.1 210.0h0M102.4 211.6h0M101.1 213.5h0M101.9 213.8h0M102.1 207.4h0M103.5 209.2h0M101.3 212.3h0M102.2 209.7h0M103.3 212.2h0M102.9 207.8h0M104.6 205.8h0M105.6 198.7h0M101.7 212.0h0M105.3 202.7h0M105.4 197.9h0M104.2 206.2h0M104.1 196.3h0" stroke="#e36fa8" stroke-width="0.8" stroke-linecap="round" fill="none" opacity="0.7"/>
<path d="M134.9 200.3h0M118.6 200.8h0M132.2 199.6h0M136.5 195.7h0M124.7 199.9h0M140.8 195.4h0M119.9 199.7h0M135.4 196.6h0M123.1 202.4h0M128.0 197.6h0M126.2 201.4h0M132.0 200.7h0M135.1 198.9h0M128.7 196.0h0M126.1 196.0h0M121.6 198.7h0M136.5 197.3h0M113.6 194.5h0M117.8 195.9h0M139.0 192.9h0M126.6 196.8h0M129.5 198.3h0M135.8 198.4h0M127.9 192.4h0M130.5 195.0h0M131.0 197.6h0M125.0 197.0h0M129.7 192.0h0M127.8 199.1h0M118.1 196.9h0M137.5 193.8h0M127.8 192.7h0M139.2 197.8h0M131.2 197.0h0M130.5 199.5h0M130.9 192.4h0M133.1 205.0h0M137.3 197.5h0M131.3 195.7h0M126.9 195.2h0M128.7 196.8h0M129.6 193.0h0M126.8 197.7h0M134.1 199.1h0M126.0 198.9h0" stroke="#f0b45a" stroke-width="0.8" stroke-linecap="round" fill="none" opacity="0.6"/>
<path d="M55.2 163.7h0M54.4 158.3h0M55.9 167.6h0M55.7 169.0h0M53.1 158.1h0M56.5 172.3h0M58.7 180.3h0M55.5 175.2h0M53.7 171.7h0M57.5 179.2h0M56.5 181.1h0M52.7 163.8h0M56.1 168.4h0M55.6 164.5h0M54.6 174.2h0M57.0 176.6h0M52.9 164.0h0M51.8 168.9h0M53.3 171.5h0M51.3 174.4h0M52.1 159.8h0M57.0 178.2h0M58.2 181.6h0M53.4 167.2h0M55.7 165.6h0M51.5 163.7h0M53.7 164.6h0M55.8 176.9h0M55.3 164.1h0M53.9 170.4h0M53.2 167.7h0M55.5 173.1h0M54.4 163.1h0M56.5 167.9h0M54.1 167.9h0M52.9 163.4h0M58.4 168.4h0M54.9 166.3h0M54.7 163.4h0M54.4 164.6h0M53.7 160.5h0M56.4 181.2h0M55.0 165.4h0M53.1 172.3h0M53.5 162.1h0M58.4 179.1h0M55.6 174.2h0M59.4 176.8h0M53.7 167.3h0M59.8 179.5h0M55.9 171.0h0M57.4 173.3h0M57.9 180.6h0M55.5 158.3h0" stroke="#ad92d4" stroke-width="0.8" stroke-linecap="round" fill="none" opacity="0.6"/>
<path d="M49.4 182.4h0M53.7 187.2h0M52.7 182.9h0M51.1 187.4h0M49.9 188.1h0M55.1 185.8h0M45.9 182.0h0M54.1 186.9h0M56.9 189.1h0M54.2 185.8h0M55.8 188.9h0M52.9 188.9h0M58.5 179.6h0M56.3 189.6h0M54.4 188.6h0M54.2 187.0h0M53.2 186.3h0M48.4 183.7h0M50.2 188.3h0M58.2 186.7h0M57.1 183.9h0M52.0 187.3h0M49.9 182.6h0M45.8 189.0h0M53.8 186.1h0M55.3 189.0h0M48.7 184.1h0M52.3 190.3h0M48.4 183.3h0M53.9 184.8h0M58.7 186.4h0M53.7 189.1h0" stroke="#ea6a8c" stroke-width="0.8" stroke-linecap="round" fill="none" opacity="0.6"/>
<path d="M412.5 64.8h0M406.3 46.9h0M405.7 48.2h0M429.2 60.5h0M401.0 49.3h0M429.5 60.5h0M412.8 63.7h0M398.4 47.8h0M427.8 64.1h0M421.3 63.9h0M419.7 58.9h0M423.9 57.4h0M432.2 56.1h0M397.9 50.8h0M419.7 62.9h0M411.0 50.6h0M404.2 54.6h0M409.5 54.2h0M421.5 67.4h0M411.0 39.9h0M427.4 66.0h0M410.9 63.8h0M415.4 60.9h0M420.8 55.1h0M406.4 49.1h0M406.8 63.3h0M404.0 57.7h0M399.2 48.1h0M412.8 58.7h0M414.3 60.0h0M395.5 54.3h0M414.1 56.9h0M412.1 49.9h0M426.9 54.1h0M423.0 60.1h0M403.1 43.2h0M427.5 62.6h0M401.0 47.7h0M412.6 56.9h0M409.0 59.3h0M411.6 66.3h0M400.2 48.6h0M414.6 47.8h0M415.8 52.4h0M420.4 59.0h0M414.2 67.2h0M399.6 54.3h0M428.9 63.0h0M410.7 44.6h0M421.3 61.5h0M403.4 50.3h0M399.6 48.5h0M415.1 55.0h0M412.8 57.3h0M404.5 56.3h0M425.9 60.6h0M396.7 53.0h0M415.9 52.6h0M416.9 44.4h0M420.8 60.5h0M424.4 68.5h0M411.5 56.4h0M396.9 50.7h0M404.8 52.8h0M410.0 50.8h0M419.9 61.4h0M417.2 59.8h0M416.8 56.2h0M416.2 66.7h0M407.9 53.1h0M404.5 40.8h0M411.5 60.2h0M405.7 53.2h0M419.9 61.7h0M426.2 61.1h0M422.1 58.9h0M401.4 48.4h0M409.8 55.2h0M424.2 59.7h0M406.4 54.1h0M419.3 57.6h0M416.2 62.1h0M421.0 58.8h0M417.8 53.9h0M416.3 56.6h0M420.0 56.9h0M408.0 49.1h0M402.5 48.6h0M412.5 58.1h0M415.7 55.0h0M418.7 59.3h0M416.4 66.5h0M422.1 58.6h0M423.5 69.0h0M408.4 55.0h0M428.7 64.2h0M412.8 58.1h0M400.2 56.2h0M400.2 44.3h0M410.1 60.5h0M422.2 63.1h0M406.9 51.1h0M408.3 53.8h0M407.5 58.9h0M414.6 52.9h0M409.2 55.7h0M419.5 55.9h0M407.3 54.7h0" stroke="#a9d8ea" stroke-width="0.7" stroke-linecap="round" fill="none" opacity="0.6"/>
<path d="M436.2 98.6h0M409.7 58.3h0M423.3 96.3h0M416.1 94.9h0M451.4 113.6h0M439.0 102.7h0M404.2 67.7h0M432.1 88.6h0M416.2 79.5h0M425.7 95.6h0M415.9 77.1h0M405.8 68.6h0M404.4 60.4h0M402.8 61.0h0M440.0 112.0h0M441.7 106.8h0M401.3 66.1h0M420.7 69.5h0M407.8 75.6h0M429.4 97.5h0M450.3 122.2h0M427.2 89.8h0M406.1 68.7h0M445.0 99.7h0M434.5 108.0h0M432.3 103.1h0M436.6 118.4h0M402.1 78.1h0M448.2 114.2h0M450.2 106.8h0M410.5 79.1h0M392.2 70.1h0M431.8 86.9h0M433.2 97.0h0M405.0 75.2h0M451.1 125.9h0M455.8 113.9h0M450.8 128.1h0M451.1 110.6h0M414.9 74.1h0M419.9 79.0h0M440.6 118.8h0M438.6 93.3h0M451.3 114.1h0M403.9 67.4h0M430.1 84.5h0M421.9 82.4h0M446.5 122.8h0M454.1 120.3h0M444.2 108.3h0M452.7 113.1h0M412.3 71.8h0M411.8 79.6h0M435.0 96.2h0M449.4 122.1h0M418.5 89.3h0M404.7 62.3h0M452.6 125.2h0M432.7 93.6h0M400.0 60.0h0M406.6 76.0h0M412.2 74.9h0M427.6 94.6h0M442.3 102.3h0M423.2 86.4h0M442.2 121.2h0M422.3 75.2h0M415.3 81.9h0M427.2 86.5h0M407.5 54.5h0M438.1 100.7h0M441.2 103.5h0M422.9 99.3h0M449.1 111.7h0M434.6 107.3h0M408.3 76.6h0M438.3 86.4h0M408.2 92.6h0M396.1 66.4h0M463.7 117.3h0M451.0 108.3h0M434.6 106.4h0M432.2 110.2h0M414.8 71.3h0M412.2 75.5h0M453.1 115.4h0M419.3 84.0h0M423.3 95.5h0M419.2 90.0h0M443.1 116.6h0M434.8 95.2h0M403.3 64.7h0M399.6 68.9h0M435.2 98.9h0M423.0 93.2h0M452.5 125.9h0M424.2 87.3h0M414.0 72.0h0M426.5 91.4h0M434.3 99.0h0M449.5 126.0h0M412.7 85.8h0M419.1 86.1h0M445.8 113.5h0M440.9 115.6h0M408.8 70.4h0M440.7 108.9h0M425.4 99.8h0M439.8 97.4h0M407.1 59.9h0M421.0 90.9h0M437.2 96.6h0M410.5 87.8h0M414.1 61.2h0M451.3 107.9h0M416.9 85.4h0M418.5 96.4h0M406.3 64.6h0M404.2 63.4h0M415.9 76.9h0M412.1 59.2h0M458.2 119.6h0M438.2 94.0h0M442.0 100.8h0M417.7 84.8h0M442.4 102.1h0" stroke="#a9d8ea" stroke-width="0.7" stroke-linecap="round" fill="none" opacity="0.55"/>
<path d="M338.5 59.7h0M334.0 67.1h0M330.8 67.7h0M333.4 64.7h0M333.8 65.4h0M335.5 67.3h0M329.7 71.2h0M330.8 67.0h0M331.1 69.1h0M329.4 64.0h0M333.8 62.0h0M331.6 67.8h0M337.9 62.2h0M326.7 64.2h0M333.8 68.2h0M330.2 69.3h0M329.7 67.3h0M331.0 70.6h0M336.9 69.1h0M330.1 61.9h0M330.5 64.7h0M329.5 64.2h0M330.5 67.3h0M336.3 68.8h0M337.5 60.6h0M334.4 72.5h0M335.8 68.3h0M335.3 65.8h0M331.1 64.7h0M330.3 65.4h0M329.7 70.1h0M334.3 68.6h0M338.1 66.9h0M335.6 64.3h0M333.4 68.0h0M327.8 68.0h0M332.3 64.8h0M337.0 66.5h0M331.9 68.4h0M330.1 62.4h0M335.2 69.0h0M330.2 66.8h0M332.3 66.9h0M335.9 66.5h0M334.7 68.4h0M331.0 67.1h0M330.8 65.8h0M336.8 64.1h0M334.8 65.8h0M330.5 66.6h0M330.1 62.0h0M336.0 68.2h0M330.5 62.9h0M328.7 70.7h0M328.8 64.4h0M339.1 60.8h0M328.1 63.6h0M330.1 60.6h0M332.7 62.7h0M327.3 67.0h0M328.8 67.2h0M329.3 70.4h0M327.9 66.9h0M328.1 69.8h0M325.5 65.3h0M332.6 65.1h0M331.5 64.8h0M330.2 66.9h0M338.9 67.4h0M333.8 64.5h0M329.0 66.4h0M329.7 70.5h0M332.1 70.3h0M331.4 69.2h0M326.8 70.8h0M327.7 66.8h0M331.6 65.8h0M335.0 63.8h0M333.9 62.1h0M326.9 68.2h0M336.9 63.5h0M334.2 65.3h0M337.9 67.2h0M338.6 65.2h0M338.9 64.6h0M338.4 68.1h0M326.9 69.0h0M333.0 68.5h0M329.1 65.1h0M327.6 70.5h0M332.1 59.9h0M335.0 66.6h0M341.8 65.5h0M334.0 65.1h0M321.1 68.8h0M330.3 68.2h0M332.4 60.1h0M331.7 68.6h0M335.7 68.8h0M330.3 62.9h0M333.6 63.3h0M337.0 65.7h0M335.0 67.1h0M335.3 67.3h0M333.8 66.7h0M329.3 61.9h0M326.2 69.3h0M329.7 67.3h0" stroke="#e5574d" stroke-width="0.9" stroke-linecap="round" fill="none" opacity="0.8"/>
<path d="M338.1 65.7h0M344.5 67.7h0M342.1 66.3h0M342.2 67.8h0M339.2 66.1h0M340.3 63.7h0M341.3 66.9h0M340.2 65.2h0M343.2 65.6h0M340.7 65.7h0" stroke="#8fb8e0" stroke-width="0.8" stroke-linecap="round" fill="none" opacity="0.7"/>
<path d="M330.3 73.5h0M329.4 79.5h0M329.3 79.0h0M330.3 72.5h0M332.0 78.1h0M330.8 75.4h0M330.2 70.6h0M330.1 77.5h0M327.6 74.3h0M330.1 79.8h0M330.4 73.5h0M329.8 77.2h0M330.4 70.8h0M330.2 73.2h0" stroke="#ef8a7e" stroke-width="0.7" stroke-linecap="round" fill="none" opacity="0.5"/>
<path d="M401.5 71.7h0M399.9 65.4h0M399.7 59.2h0M398.2 58.6h0M401.8 59.9h0M397.7 56.5h0M400.3 62.9h0M402.6 59.9h0M396.7 44.1h0M396.5 63.3h0M400.8 49.6h0M404.3 61.5h0M397.3 45.8h0M404.9 71.5h0M404.1 70.2h0M395.2 44.4h0M395.4 56.3h0M407.6 60.5h0M398.2 56.2h0M402.5 68.9h0M399.0 45.5h0M397.6 64.6h0M399.8 64.6h0M405.2 71.4h0M403.2 58.7h0M397.6 66.1h0M401.4 71.4h0M401.5 63.0h0M403.7 69.3h0M405.4 70.1h0M391.6 45.2h0M407.8 69.7h0M406.5 71.2h0M408.0 72.4h0M403.4 74.1h0M393.8 61.5h0M394.0 48.9h0M392.0 55.6h0M393.9 46.3h0M404.8 72.5h0M396.7 48.6h0M396.2 51.5h0M396.4 50.2h0M403.8 62.1h0M405.3 68.3h0M398.1 55.1h0M400.9 73.0h0M399.1 64.6h0M400.4 47.2h0M401.3 58.0h0M400.9 64.5h0M403.5 73.7h0M396.6 71.6h0M395.5 62.6h0M394.5 62.0h0M402.6 50.2h0M402.8 52.4h0M405.0 62.4h0M398.8 61.9h0M399.6 58.8h0M404.0 72.2h0M398.6 62.9h0M394.1 54.7h0M408.3 73.0h0M396.9 59.7h0M404.7 63.4h0M399.2 64.4h0M393.4 63.4h0M401.6 63.5h0M397.8 65.8h0M399.6 49.2h0M401.5 71.4h0M398.4 46.4h0M398.1 59.3h0M393.4 52.3h0M396.7 67.7h0M394.0 51.8h0M394.6 50.0h0M405.1 56.5h0M397.9 59.3h0M398.2 64.0h0M398.2 59.1h0M398.4 63.1h0M398.6 61.4h0M398.3 48.0h0M401.6 63.5h0M402.2 74.6h0M401.0 55.8h0M396.1 62.0h0M400.0 64.2h0M400.8 57.8h0M397.2 57.1h0M396.0 50.1h0M406.5 70.1h0M393.5 45.2h0M392.2 47.6h0M396.7 51.9h0M407.3 67.5h0M403.3 52.7h0M400.6 63.7h0M396.6 57.0h0M403.8 73.4h0M394.6 49.1h0M397.0 56.0h0M397.6 47.8h0M405.1 71.1h0M400.4 46.4h0M402.8 55.9h0M400.6 71.9h0M393.6 49.2h0M396.9 45.4h0M402.7 50.4h0M401.7 68.0h0M399.8 74.5h0M402.4 74.4h0M403.2 59.7h0M397.9 52.7h0M396.0 48.4h0M399.4 57.2h0M396.8 52.6h0M398.2 57.6h0M399.5 68.4h0M399.6 49.9h0M395.1 54.6h0M404.0 52.2h0M401.3 64.9h0M395.3 70.5h0M404.7 71.9h0M394.8 46.8h0M395.8 50.7h0M400.5 63.5h0M396.2 58.7h0M404.1 64.1h0M396.0 46.0h0M405.2 73.5h0M400.4 62.3h0M406.2 70.1h0M397.4 47.9h0M394.9 50.5h0M390.9 59.7h0M400.2 58.3h0M396.9 49.6h0M395.5 52.4h0M398.3 67.6h0M401.7 60.9h0M400.2 65.2h0M405.8 74.1h0M397.4 49.0h0M400.1 55.2h0M399.8 67.7h0M400.7 70.3h0M399.7 60.8h0M398.5 51.8h0M393.2 55.8h0M406.5 58.0h0M399.5 56.9h0M402.2 75.4h0M407.7 73.5h0M397.8 55.5h0M398.8 57.9h0M408.0 73.5h0M398.1 45.8h0M395.5 54.4h0M404.7 72.9h0M397.6 47.5h0M402.0 72.8h0M397.5 55.3h0M397.0 45.9h0M401.0 51.7h0M398.2 61.7h0M399.7 51.9h0M399.1 63.7h0M399.9 56.7h0M400.7 44.8h0M399.8 55.2h0M402.4 65.1h0M405.9 66.8h0M406.2 72.1h0M400.5 58.6h0M405.7 61.4h0M397.6 76.1h0M402.5 66.0h0M395.1 49.5h0M405.0 72.6h0M401.1 53.7h0M398.0 48.1h0M400.7 48.5h0M399.2 44.8h0M405.9 72.0h0M392.1 45.8h0M407.4 71.9h0M399.4 49.2h0M403.0 45.8h0M408.8 70.4h0M399.8 56.1h0M398.8 64.0h0M401.1 69.7h0M403.3 56.3h0M399.2 48.6h0M401.7 62.5h0M397.1 47.5h0M405.5 60.6h0M405.1 68.6h0M397.4 63.2h0M396.5 45.7h0M395.8 74.3h0M403.3 54.3h0M394.0 46.3h0M392.1 47.2h0M396.5 58.2h0M399.5 59.0h0M398.8 69.7h0M400.8 52.3h0M405.0 74.5h0M402.6 64.2h0M403.6 67.3h0M395.1 47.9h0M398.7 61.0h0M397.5 48.7h0M406.5 71.1h0M406.6 70.1h0M396.2 64.9h0M403.7 45.1h0M389.5 52.8h0M397.5 52.0h0M399.4 49.5h0M402.2 68.1h0M394.0 76.9h0M404.5 53.4h0M401.3 74.7h0M398.4 70.0h0M402.1 70.0h0M397.0 59.6h0M402.5 64.7h0M395.0 50.9h0M404.7 73.7h0M400.3 66.7h0M399.1 54.1h0M404.7 68.3h0M401.8 57.2h0M397.5 48.4h0M399.6 64.3h0M402.6 73.5h0M402.1 75.5h0M396.9 58.8h0M401.0 64.8h0M403.9 65.5h0M400.8 75.4h0M400.3 53.5h0M399.5 60.4h0M407.5 64.6h0M404.8 74.0h0M401.5 71.9h0M403.4 68.6h0M399.0 66.5h0M401.5 62.2h0M397.6 66.9h0M402.9 67.2h0M399.4 70.5h0M400.5 72.1h0M400.4 58.2h0M394.7 51.7h0M401.0 54.8h0M395.2 53.6h0M395.5 48.8h0M397.6 65.7h0M400.8 69.6h0M401.6 70.9h0M402.9 55.6h0M399.5 51.2h0M395.1 62.2h0M398.7 57.1h0M405.2 71.3h0M398.2 61.6h0M401.7 71.4h0M405.8 69.2h0M400.7 46.2h0M405.0 60.6h0M393.4 52.6h0M399.4 75.4h0M401.4 63.5h0M393.7 44.7h0M393.9 59.7h0M395.7 52.5h0M397.1 65.4h0M397.4 47.6h0M396.7 63.4h0M402.9 74.2h0M396.0 71.3h0M394.5 47.6h0M397.5 67.6h0M400.6 57.4h0M405.5 73.2h0M403.4 46.8h0M400.9 68.9h0M394.9 53.6h0M406.4 72.9h0M395.3 44.4h0M395.6 49.9h0M400.5 55.8h0M397.8 45.5h0M402.8 55.1h0M405.3 69.0h0M400.9 58.7h0M397.6 54.3h0M398.5 64.8h0M395.7 61.2h0M401.3 72.1h0M397.4 50.2h0M403.4 54.3h0M400.1 62.7h0M404.1 71.2h0M394.3 53.4h0M399.9 58.6h0M404.9 68.4h0M400.9 58.8h0M394.9 56.3h0M406.5 67.2h0M404.2 69.7h0M387.1 46.8h0M400.8 62.1h0M401.1 70.3h0M398.3 46.0h0M401.8 71.7h0M397.8 67.6h0M398.6 51.9h0M398.0 46.9h0M398.1 53.0h0M403.2 67.8h0M402.8 72.2h0M391.7 53.4h0M397.2 62.2h0M398.1 59.1h0M399.9 49.0h0M408.2 67.6h0M398.7 62.2h0M401.7 67.4h0M399.0 57.7h0M398.0 44.9h0M397.4 73.1h0M396.5 64.6h0M397.8 58.0h0M392.8 59.8h0M400.2 53.9h0M396.4 56.1h0M396.6 47.4h0M397.3 52.5h0M399.9 68.6h0M396.3 51.7h0M395.0 54.2h0M397.5 63.1h0M396.1 54.2h0M396.5 66.3h0M398.7 67.3h0M398.6 61.2h0M396.3 51.5h0M399.1 62.4h0M396.3 62.7h0M400.9 59.6h0M398.3 55.2h0M397.8 48.9h0M405.7 72.2h0M406.4 56.8h0M400.9 56.2h0M407.9 72.0h0M398.7 49.7h0M398.8 55.7h0M400.8 72.7h0M395.6 57.9h0M407.0 72.0h0M397.2 47.8h0M404.5 52.6h0M393.0 61.2h0M402.8 66.4h0M407.9 62.5h0M397.1 56.8h0M398.9 76.1h0M396.0 55.3h0M406.2 71.3h0M399.8 75.8h0M400.8 66.1h0M397.6 45.9h0M396.2 55.1h0M389.0 51.3h0M406.9 71.6h0M400.2 43.7h0M396.2 49.8h0M398.9 66.5h0M399.8 72.5h0M397.8 61.1h0M398.5 74.6h0M394.3 44.9h0M394.4 51.9h0M395.2 50.1h0M396.3 62.6h0M404.1 72.2h0M394.5 59.6h0M399.5 62.3h0M405.8 66.2h0M400.8 54.9h0M392.1 49.5h0M397.5 53.4h0M400.5 49.4h0M402.3 52.4h0M407.2 49.4h0M401.2 65.6h0M397.7 49.9h0M400.2 54.1h0M397.3 63.3h0M400.8 60.9h0M392.3 57.0h0M397.4 55.1h0M402.0 75.3h0M395.0 53.5h0" stroke="#5cbc62" stroke-width="0.9" stroke-linecap="round" fill="none" opacity="0.8"/>
<path d="M410.6 50.3h0M419.8 56.8h0M418.6 60.3h0M408.7 51.6h0M398.9 53.5h0M415.8 53.5h0M415.3 57.9h0M418.4 53.3h0M418.3 58.0h0M421.4 60.9h0M401.7 48.2h0M402.7 51.4h0M411.3 55.6h0M426.9 55.6h0M415.2 61.3h0M413.2 54.0h0M416.4 52.8h0M415.7 60.6h0M419.5 54.6h0M417.8 56.4h0M415.0 53.7h0M428.8 58.7h0M409.5 59.6h0M413.1 56.2h0M423.5 61.1h0M421.5 60.0h0M408.9 53.5h0M407.9 51.5h0M416.6 54.5h0M398.1 47.3h0M415.7 53.7h0M412.5 52.4h0M417.1 56.0h0M419.8 60.0h0M405.1 51.7h0M411.7 54.8h0M414.8 50.4h0M406.6 59.2h0M410.8 55.9h0M414.1 56.2h0M412.6 54.0h0M421.2 62.8h0M412.8 53.2h0M397.6 55.9h0M420.0 55.3h0M407.1 45.0h0M404.0 51.8h0M413.7 51.8h0M422.4 58.5h0M403.2 50.1h0M404.0 62.3h0M419.1 63.8h0M415.9 60.2h0M422.8 55.5h0M408.5 51.7h0M408.4 54.5h0M402.6 51.8h0M417.6 57.8h0M429.5 60.0h0M410.2 59.7h0M420.9 52.3h0M410.3 54.0h0M408.7 49.9h0M401.4 52.2h0M408.5 56.7h0M424.1 56.9h0M415.9 53.7h0M405.3 53.3h0M420.5 56.1h0M411.0 62.3h0M412.8 57.1h0M413.2 58.6h0M407.5 54.0h0M416.1 50.5h0M417.1 63.2h0M415.2 55.3h0M418.2 53.1h0M400.9 55.9h0M416.5 56.2h0M414.0 55.0h0M408.8 53.6h0M421.4 61.1h0M415.7 57.4h0M405.3 52.5h0M413.0 53.8h0M407.1 45.8h0M419.9 54.4h0M411.5 62.9h0M416.9 52.7h0M408.9 54.5h0M419.8 51.4h0M414.5 55.9h0M408.5 55.8h0M415.1 53.7h0M416.2 49.5h0M404.5 55.0h0M418.3 63.3h0M422.9 55.2h0M422.0 62.6h0M405.0 44.6h0M416.9 48.9h0M419.4 58.8h0M408.1 57.0h0M409.2 55.5h0M399.0 45.9h0M402.5 45.5h0M410.4 55.2h0M403.6 48.2h0M416.4 52.7h0M398.1 47.7h0M412.6 56.9h0M414.4 59.9h0M418.3 49.9h0M414.0 58.7h0M413.0 60.2h0M415.9 55.1h0M407.1 47.2h0M416.6 61.5h0M414.8 54.3h0M411.1 53.1h0M414.0 52.6h0M413.5 56.4h0M427.2 63.0h0M413.2 53.7h0M406.3 52.2h0M405.8 56.3h0M404.8 53.6h0M426.4 57.0h0M401.9 54.7h0M409.4 61.5h0M415.0 51.9h0M423.5 57.5h0M418.6 61.8h0M424.9 61.4h0M412.9 49.4h0M405.4 53.2h0M423.7 54.6h0M412.6 54.7h0M411.6 45.4h0M405.2 53.5h0M416.6 58.1h0M419.7 53.6h0M402.4 46.1h0M426.9 56.4h0" stroke="#a9c9df" stroke-width="0.8" stroke-linecap="round" fill="none" opacity="0.55"/>
<path d="M417.1 88.4h0M418.5 87.0h0M411.9 90.0h0M418.5 94.6h0M410.9 83.4h0M412.5 87.8h0M402.1 77.8h0M409.1 82.5h0M411.9 85.5h0M404.6 76.1h0M413.0 88.0h0M421.5 92.8h0M412.4 87.7h0M418.8 92.7h0M414.5 88.3h0M416.1 92.4h0M405.7 78.2h0M408.1 80.5h0M418.5 92.0h0M410.6 80.9h0M415.7 93.6h0M407.4 83.8h0M414.7 90.7h0M403.2 79.6h0M407.7 74.1h0M410.1 83.9h0M409.2 86.9h0M412.5 82.8h0M404.0 80.3h0M406.4 84.4h0M417.1 89.0h0M421.0 94.1h0M410.8 90.2h0M405.3 81.8h0M404.7 78.8h0M414.4 85.5h0M407.2 78.5h0M408.7 88.7h0M414.1 89.1h0M417.1 91.8h0M413.9 82.9h0M410.3 89.6h0M413.1 94.5h0M403.0 84.3h0M405.8 81.8h0M415.6 92.2h0M413.1 81.8h0M407.7 77.1h0M413.9 89.7h0M407.7 83.8h0M421.8 89.9h0M409.8 84.5h0M412.7 89.7h0M412.8 82.7h0M408.2 80.3h0M413.0 89.6h0M404.4 77.2h0M409.3 84.2h0M413.9 85.7h0M407.3 77.7h0M416.2 87.0h0M407.2 76.5h0M420.4 93.8h0M412.6 86.0h0M404.1 78.0h0M410.1 82.7h0M413.0 85.3h0M412.9 92.3h0M411.0 80.1h0M420.3 91.3h0M417.4 89.2h0M409.6 86.5h0M406.6 84.0h0M408.2 76.3h0M415.0 90.6h0M409.8 78.9h0M416.7 91.3h0M403.5 79.5h0M424.3 86.5h0M418.9 95.0h0M411.3 80.5h0M418.7 89.0h0M408.8 76.0h0M415.0 90.5h0M410.3 83.4h0M419.0 89.7h0M408.8 80.5h0M403.2 83.5h0M408.6 79.0h0M417.6 90.2h0M410.9 85.5h0M413.6 90.6h0M422.2 90.8h0M417.4 88.9h0M414.5 81.3h0M410.9 77.4h0M414.0 79.4h0M413.6 90.1h0M414.1 90.7h0M419.5 94.9h0M416.2 89.6h0M405.9 77.2h0M419.7 93.9h0M405.9 83.0h0M403.0 79.8h0M403.6 79.2h0M408.6 85.9h0M412.3 91.8h0M404.0 77.9h0M413.7 95.5h0M406.9 84.6h0M413.0 82.4h0M405.9 74.3h0M415.5 89.1h0M414.2 81.0h0M406.5 76.8h0M412.7 87.7h0M412.8 86.8h0M404.9 76.0h0M413.7 86.6h0M415.0 87.0h0M407.3 79.2h0M409.0 78.0h0M410.0 84.8h0M417.7 92.5h0M414.3 78.3h0M410.1 81.9h0M416.6 94.3h0M413.2 86.8h0M414.0 87.3h0M418.5 95.2h0M416.7 94.4h0M413.4 84.2h0M420.6 90.0h0M418.5 91.2h0M406.8 81.9h0M406.3 81.1h0M410.8 80.2h0M420.9 89.4h0M406.4 76.9h0M415.6 89.7h0M409.9 79.6h0M410.2 78.8h0M411.0 85.9h0M408.5 82.5h0M405.9 76.4h0M414.5 85.8h0M416.0 86.7h0M409.8 87.9h0M409.4 76.5h0M415.7 85.6h0M416.5 90.2h0M411.2 83.3h0M419.1 94.5h0M418.1 93.9h0M415.4 85.2h0M406.5 80.3h0M406.3 81.1h0M413.6 91.3h0M413.9 82.6h0M412.5 85.9h0M416.5 88.6h0" stroke="#4c97de" stroke-width="0.9" stroke-linecap="round" fill="none" opacity="0.7"/>
<path d="M411.9 86.1h0M426.8 95.2h0M421.4 101.8h0M394.6 83.9h0M409.5 88.3h0M409.6 86.0h0M400.2 75.9h0M418.3 95.8h0M410.7 88.0h0M423.2 99.4h0M411.5 89.3h0M404.7 83.9h0M412.5 89.0h0M400.7 88.2h0M418.7 100.2h0M407.1 89.4h0M421.8 89.1h0M418.6 94.2h0M408.4 85.3h0M405.9 80.5h0M414.4 100.7h0M419.0 95.3h0M413.0 90.0h0M401.2 78.4h0M414.0 87.6h0M404.9 82.7h0M423.6 99.9h0M402.2 84.1h0M421.2 96.6h0M408.3 90.3h0M411.0 90.5h0M398.9 76.3h0M405.1 77.2h0M416.5 95.4h0M401.7 77.6h0M424.5 96.0h0M417.6 93.1h0M405.2 89.4h0M411.8 93.5h0M401.4 77.7h0M410.2 90.1h0M404.6 82.0h0M424.8 100.2h0M397.1 83.3h0M395.5 82.1h0M400.7 78.2h0M416.5 88.6h0M408.2 84.1h0M415.8 96.4h0M422.4 101.7h0M420.4 99.3h0M399.5 78.8h0M410.6 88.8h0M403.3 79.6h0M416.9 93.3h0M403.1 84.3h0M397.6 81.1h0M398.0 82.0h0M411.0 95.7h0M415.6 90.8h0M412.1 92.9h0M406.4 82.6h0M399.9 88.0h0M413.0 89.3h0M405.5 85.3h0M401.3 77.4h0M421.8 93.2h0M419.1 94.2h0M410.2 87.9h0M413.8 98.6h0M425.8 94.6h0M411.1 95.8h0M408.0 90.6h0M397.3 79.7h0M395.4 79.5h0M402.8 82.9h0M402.8 85.1h0M424.9 92.8h0M402.0 82.8h0M404.5 80.7h0M403.1 76.0h0M422.3 100.8h0M400.7 77.0h0M409.3 92.1h0M408.2 89.6h0M407.9 84.6h0M402.8 75.0h0M399.6 87.8h0M402.2 81.4h0M422.5 95.0h0M406.9 82.3h0M423.2 97.4h0M415.1 92.9h0M412.6 91.1h0M421.5 97.1h0M402.1 83.9h0M417.9 103.1h0M417.9 90.7h0M405.5 86.7h0M416.3 92.9h0M420.5 93.7h0M425.1 98.4h0M413.7 94.5h0M400.7 76.6h0M408.7 88.5h0M399.0 77.5h0M423.4 98.7h0M419.1 96.2h0M404.7 82.3h0M404.9 95.4h0M422.6 99.2h0M405.4 73.5h0M410.9 92.5h0M418.8 96.2h0M399.5 75.7h0M399.3 77.4h0M406.8 88.8h0M405.5 81.5h0M408.9 89.7h0M418.2 98.6h0M408.5 96.4h0M406.6 88.6h0M421.6 92.2h0M404.9 89.9h0M403.7 86.7h0M407.4 90.6h0M419.3 96.9h0M402.2 80.5h0M414.1 83.9h0M401.0 76.1h0M400.0 81.1h0M404.1 90.3h0M412.2 94.2h0M407.5 89.2h0M424.6 99.2h0M420.0 96.1h0M422.5 92.1h0M420.0 106.7h0M397.1 82.5h0M407.7 82.9h0M421.8 92.4h0M409.8 89.9h0M419.9 95.4h0M409.7 90.4h0M406.9 83.0h0M418.7 100.3h0M403.9 84.1h0M421.4 92.9h0M405.0 89.2h0M413.4 90.3h0M419.5 94.8h0M413.2 98.8h0M420.6 100.3h0M418.4 92.3h0M415.3 98.3h0M414.8 92.2h0M423.0 98.4h0M418.5 96.0h0M419.7 98.6h0M410.6 85.0h0M421.7 96.9h0M404.1 77.8h0" stroke="#7cc890" stroke-width="0.8" stroke-linecap="round" fill="none" opacity="0.65"/>
<path d="M438.4 104.1h0M438.8 99.0h0M432.9 106.8h0M451.4 114.8h0M432.3 103.5h0M446.3 106.9h0M453.5 110.4h0M451.6 122.3h0M441.6 108.6h0M431.8 102.5h0M448.7 109.6h0M450.0 114.4h0M441.1 112.0h0M436.5 102.4h0M431.2 102.5h0M446.0 113.6h0M444.9 106.6h0M450.6 121.9h0M450.1 114.8h0M454.4 120.8h0M447.8 109.6h0M450.9 118.9h0M450.8 115.5h0M444.0 118.9h0M434.7 102.8h0M444.8 108.2h0M437.9 97.6h0M439.6 106.4h0M455.3 118.3h0M449.6 121.9h0M443.4 111.6h0M444.2 104.6h0M437.5 104.0h0M447.6 114.1h0M452.1 116.3h0M444.7 106.2h0M443.9 110.3h0M445.0 121.9h0M451.9 116.2h0M442.4 112.7h0M436.8 99.9h0M441.3 108.2h0M443.0 108.0h0M435.7 102.8h0M448.5 115.7h0M442.9 104.7h0M453.3 120.9h0M432.1 101.5h0M430.8 102.8h0M447.9 113.1h0M443.1 108.4h0M442.1 105.4h0M445.2 110.8h0M428.5 104.2h0M448.9 115.0h0M444.3 110.2h0M448.4 112.5h0M437.5 106.0h0M439.4 107.6h0M452.7 106.7h0M445.6 113.3h0M430.9 98.3h0M431.2 99.9h0M436.9 107.2h0M430.0 99.7h0M434.4 97.4h0M445.5 111.8h0M452.5 119.9h0M434.7 111.4h0M439.5 110.1h0M438.4 108.1h0M452.3 115.7h0M442.9 103.2h0M452.1 118.6h0M435.2 109.6h0M435.4 101.7h0M437.3 105.9h0M450.2 120.1h0M446.8 107.2h0M426.6 104.2h0M434.5 99.0h0M446.9 115.9h0M435.4 103.8h0M431.9 103.1h0M442.0 102.7h0M438.1 103.4h0M444.3 106.8h0M438.6 105.9h0M447.3 118.0h0M449.2 116.5h0M442.3 105.1h0M439.1 107.2h0M430.4 109.3h0M440.6 103.6h0M453.3 113.6h0M443.0 109.1h0M448.0 117.9h0M432.7 98.5h0M436.2 108.0h0M448.1 110.2h0M440.8 103.4h0M439.4 101.4h0M435.0 105.9h0M437.6 100.1h0M446.2 100.2h0M446.1 120.1h0M440.2 105.2h0M441.1 118.6h0M444.6 105.5h0M439.8 106.5h0M440.6 113.5h0M445.2 110.2h0M438.4 105.0h0M445.2 114.9h0M443.5 107.5h0M449.1 120.9h0M441.5 108.3h0M437.9 106.1h0M439.7 108.0h0M444.4 105.9h0M443.4 112.9h0M430.9 102.9h0M446.6 116.2h0M449.9 109.3h0M439.4 98.3h0M435.8 106.5h0M454.1 119.7h0M449.5 119.6h0M429.5 102.1h0M438.7 100.4h0M452.6 119.5h0M436.0 100.9h0M430.8 103.1h0M433.3 101.7h0M455.6 111.2h0M434.2 101.9h0M434.4 103.5h0M433.4 102.0h0M446.7 114.6h0M446.0 113.9h0M437.1 111.0h0M439.0 101.1h0M444.6 110.9h0M440.7 106.8h0M433.8 101.9h0M443.1 103.4h0M446.0 120.4h0M443.7 105.2h0M444.1 110.7h0M440.9 106.3h0M436.3 97.4h0M451.0 111.5h0M446.7 111.7h0M438.6 107.1h0M439.7 105.9h0M446.7 115.2h0M453.4 119.8h0M436.1 100.9h0M435.9 100.9h0M451.1 123.0h0M444.1 105.9h0M437.9 103.9h0M447.9 112.7h0M441.5 108.7h0M438.2 99.6h0M435.9 103.6h0M441.2 110.6h0M456.3 119.5h0M442.6 105.0h0M452.5 106.8h0M439.1 110.6h0M448.9 104.8h0M432.9 98.0h0M439.6 104.7h0M444.8 108.5h0M432.9 98.2h0M448.1 121.2h0M448.8 109.8h0M445.7 122.5h0M432.5 104.4h0M448.8 124.1h0M443.5 107.9h0M446.8 115.3h0M444.6 108.6h0M447.5 122.9h0M433.3 104.3h0M445.2 112.4h0M446.0 117.4h0M447.3 122.6h0M447.0 120.3h0M438.7 102.7h0M447.1 124.0h0M430.9 101.6h0M440.4 102.8h0M444.1 106.9h0M438.1 104.3h0M435.4 110.2h0M438.5 99.5h0M450.3 116.1h0M433.6 99.1h0M452.6 120.0h0M439.5 101.0h0M450.7 122.6h0M447.5 124.9h0M444.6 117.7h0M443.1 109.4h0M455.3 118.9h0M434.4 108.2h0M436.3 105.9h0M441.2 99.7h0M450.8 121.7h0M444.1 108.9h0M450.8 122.0h0M430.5 103.0h0M444.7 120.8h0M451.3 117.1h0M437.3 107.2h0M439.3 102.2h0M452.9 121.9h0M436.9 106.2h0M442.5 104.8h0M449.3 112.7h0M429.5 100.4h0M433.7 110.9h0M430.4 106.8h0M451.7 116.8h0M436.0 102.6h0M452.1 118.2h0M443.6 104.8h0M451.9 111.3h0M438.6 111.5h0M435.1 102.6h0M434.3 99.7h0M437.8 111.0h0M444.6 104.5h0M444.6 111.0h0M445.6 103.7h0M455.3 119.6h0M446.4 105.8h0M432.4 100.3h0M449.6 112.6h0M438.7 98.9h0M436.0 111.3h0M434.3 101.3h0M449.0 112.8h0M434.5 100.3h0M436.8 102.4h0M448.1 112.9h0M444.9 118.2h0M436.2 101.8h0M430.2 100.0h0M432.9 103.7h0M438.6 106.4h0M446.2 109.1h0M451.2 120.8h0M437.0 106.8h0M439.5 101.3h0M434.0 109.1h0M433.7 101.0h0M437.4 102.3h0M451.3 116.3h0M445.5 112.6h0M430.0 99.9h0M441.8 114.0h0M431.6 98.3h0M445.2 105.2h0M451.9 117.1h0M430.4 101.4h0M446.2 108.8h0M451.4 119.0h0M451.1 120.4h0M438.0 109.0h0M453.6 119.4h0M440.4 107.8h0M448.2 121.1h0M436.1 104.1h0M443.9 113.0h0M439.8 101.1h0M440.1 105.4h0M432.6 104.9h0M435.2 109.1h0M447.2 121.4h0M430.6 100.1h0M448.2 115.2h0M444.7 107.1h0M433.7 100.2h0M450.8 115.3h0M436.4 103.4h0M440.0 108.4h0M450.6 123.0h0M448.7 119.6h0M450.5 113.2h0M438.0 102.8h0M429.8 104.2h0M453.6 121.4h0M449.9 113.6h0M435.9 103.7h0M450.1 117.8h0M443.5 112.0h0M437.2 103.0h0M446.7 98.8h0M434.0 96.0h0M450.6 121.6h0M431.9 101.1h0M450.9 115.6h0M439.5 108.0h0M456.0 117.6h0M449.2 119.1h0M435.9 101.5h0M448.5 124.7h0M436.3 101.6h0M445.9 108.7h0M437.0 102.5h0M452.9 117.4h0M446.4 116.6h0M454.2 117.0h0M446.7 112.8h0M450.6 123.2h0M441.9 105.3h0M447.4 116.3h0M432.9 105.4h0M445.9 119.3h0M441.3 103.6h0M441.3 105.4h0M449.3 113.3h0M439.7 107.7h0M438.7 110.1h0M447.4 117.0h0M433.7 100.6h0M450.2 116.9h0M452.0 113.7h0M456.8 117.2h0M449.8 115.4h0M452.7 121.7h0M458.9 116.1h0M431.7 100.4h0M454.5 118.2h0M431.4 98.7h0M441.1 105.4h0M454.2 117.8h0M436.5 105.0h0M445.4 113.8h0M434.5 92.5h0M438.3 100.0h0M444.1 106.8h0M432.5 99.0h0M445.4 107.3h0M431.2 102.1h0M442.7 108.1h0M435.3 104.3h0M442.5 109.7h0M452.1 114.1h0M436.3 108.4h0M453.8 118.9h0M453.5 112.6h0M453.1 119.0h0M435.3 109.1h0M446.1 105.7h0M441.7 109.9h0M447.9 116.6h0M448.1 124.3h0M442.3 114.4h0M434.8 102.4h0M437.8 107.1h0M435.0 106.0h0M443.8 110.5h0M446.6 110.9h0M441.7 109.6h0M445.1 104.8h0M452.6 120.7h0M444.9 100.0h0M452.2 117.5h0M444.9 108.9h0M449.4 114.1h0M444.3 111.9h0M435.8 105.8h0M444.6 106.3h0M437.5 103.6h0M434.0 100.6h0M441.0 107.8h0M434.4 100.4h0M453.4 119.3h0M443.2 109.3h0M452.9 115.2h0M445.2 115.0h0M447.9 117.4h0M436.4 107.6h0M438.4 109.8h0M450.6 123.5h0M431.0 102.7h0M435.0 103.9h0M448.3 119.4h0M448.0 122.7h0M432.5 101.8h0M453.4 121.0h0M453.6 121.4h0M439.4 105.7h0M444.7 107.4h0M442.2 109.8h0M436.1 105.0h0M433.7 108.9h0M444.5 112.4h0M451.1 114.6h0M443.4 109.3h0M446.5 109.7h0M449.4 113.7h0M433.6 104.6h0M440.1 111.7h0M441.4 106.3h0M444.3 109.6h0M448.3 119.4h0M446.7 115.5h0M445.5 110.7h0M436.0 106.0h0M446.1 111.4h0M446.5 111.0h0M438.4 105.8h0M444.9 107.2h0M441.9 115.7h0M448.2 115.8h0M430.3 102.4h0M437.4 97.7h0M449.5 113.8h0M434.3 100.2h0M431.0 99.2h0M450.2 113.8h0M445.8 112.2h0M442.3 107.4h0M440.7 99.0h0M429.5 102.6h0M441.0 103.1h0M438.6 109.3h0M439.0 101.5h0M439.2 102.2h0M446.0 122.0h0M427.0 105.8h0M438.5 114.6h0M438.5 103.5h0M450.7 111.3h0M445.9 104.8h0M446.6 119.3h0M444.8 111.6h0M433.1 99.6h0M436.4 107.7h0M432.8 104.1h0M453.7 121.2h0M450.3 116.8h0M444.7 118.9h0M433.7 109.1h0M449.4 120.1h0M436.0 111.2h0M445.9 113.8h0M442.7 104.3h0M445.7 112.0h0M446.9 111.0h0M448.3 110.7h0M433.8 99.7h0M445.6 109.6h0M449.8 112.2h0M451.5 117.5h0M429.1 101.7h0M442.0 104.5h0M445.1 117.3h0M440.4 111.9h0M456.1 117.4h0M450.0 117.7h0M451.7 121.0h0M450.8 122.5h0" stroke="#e3a23a" stroke-width="0.9" stroke-linecap="round" fill="none" opacity="0.85"/>
<path d="M462.2 147.6h0M451.8 154.6h0M454.1 159.5h0M454.7 142.1h0M454.7 131.2h0M453.4 128.7h0M459.9 138.5h0M452.4 155.2h0M458.7 123.9h0M455.7 133.3h0M454.9 123.8h0M453.2 161.8h0M459.9 153.5h0M453.1 117.0h0M450.1 156.7h0M461.9 139.8h0M455.9 153.8h0M455.5 123.5h0M455.7 138.1h0M450.8 157.7h0M453.3 123.3h0M456.1 163.1h0M455.6 125.1h0M450.7 160.5h0M458.5 128.7h0M455.0 132.3h0M461.9 141.6h0M450.9 127.5h0M459.3 142.5h0M462.7 135.0h0M458.1 124.4h0M450.7 120.4h0M454.0 163.2h0M456.4 156.6h0M451.7 125.1h0M455.5 131.0h0M457.0 143.2h0M462.7 141.7h0M455.7 161.3h0M458.4 149.9h0M464.6 154.9h0M458.4 145.5h0M459.4 150.5h0M457.7 133.3h0M452.1 158.3h0M462.2 150.1h0M457.3 126.1h0M458.1 157.6h0M461.6 129.0h0M451.6 128.2h0M455.8 127.3h0M455.6 151.4h0M461.3 152.0h0M459.3 138.3h0M458.2 140.5h0M461.5 142.2h0M456.0 154.6h0M450.4 129.5h0M453.3 157.5h0M460.3 149.4h0M449.6 128.2h0M455.1 145.3h0M465.1 134.3h0M456.0 151.7h0M457.6 151.1h0M462.0 154.4h0M460.5 148.9h0M457.6 134.8h0M458.7 145.3h0M459.2 141.7h0M455.5 152.4h0M456.6 135.0h0M457.1 129.8h0M453.2 117.4h0M454.9 127.3h0M450.8 128.5h0M456.7 159.5h0M452.4 128.3h0M463.3 147.4h0M455.6 142.4h0M457.7 143.0h0M456.0 143.3h0M449.8 120.5h0M452.8 157.1h0M454.6 156.2h0M463.7 148.4h0M452.2 159.8h0M458.6 144.2h0M464.5 153.0h0M457.9 143.3h0M455.3 153.0h0M457.2 129.2h0M452.9 160.5h0M453.9 132.5h0M454.2 130.7h0M452.4 129.6h0M451.7 126.7h0M458.3 133.4h0M451.5 119.3h0M455.0 125.0h0M456.1 128.5h0M459.2 130.8h0M456.2 157.5h0M461.2 143.3h0M453.3 147.1h0M461.0 140.3h0M458.3 122.4h0M452.1 156.9h0M459.8 148.8h0M462.9 132.0h0M449.6 119.8h0M454.8 138.2h0M461.8 148.6h0M456.5 132.6h0M462.5 140.7h0M458.0 161.1h0M456.7 150.0h0M457.1 157.5h0M454.9 158.8h0M459.1 134.5h0M458.0 142.4h0M458.9 141.4h0M456.1 138.5h0M455.5 130.5h0M450.2 122.3h0M457.8 158.7h0M454.8 132.0h0M458.9 145.0h0M455.6 126.5h0M456.2 152.7h0M461.8 132.4h0M458.1 152.4h0M453.9 129.5h0M455.7 149.7h0M454.1 124.2h0M456.9 130.4h0M456.2 119.1h0M458.5 137.8h0M450.5 119.5h0M459.6 141.5h0M455.9 142.8h0M460.7 136.4h0M462.4 148.0h0M456.5 123.5h0M459.2 141.6h0M454.3 124.6h0M458.1 124.8h0M464.6 145.0h0M456.8 123.4h0M451.6 125.1h0M453.4 150.6h0M455.8 135.9h0M454.1 159.8h0M459.1 139.2h0M455.4 138.2h0M450.8 152.5h0M458.3 143.4h0M448.7 121.4h0M460.1 144.3h0M457.1 140.5h0M452.3 151.1h0M456.8 148.0h0M452.5 155.6h0M455.3 139.5h0M460.2 145.0h0M458.9 130.0h0M461.1 146.5h0M460.0 132.5h0M458.2 153.9h0M450.0 158.7h0M454.7 127.0h0M455.3 129.4h0M461.8 134.9h0M453.5 120.4h0M459.2 128.2h0M463.0 138.9h0M458.3 154.3h0M456.8 131.8h0M454.0 160.4h0M458.4 143.6h0M461.2 158.2h0M460.5 134.9h0M458.1 133.8h0M460.2 134.4h0M455.5 141.7h0M459.7 128.6h0M466.0 139.6h0M456.7 150.0h0M453.1 160.7h0M455.3 124.8h0M449.6 123.1h0M455.2 154.5h0M453.1 121.1h0M452.8 127.0h0M453.6 121.5h0M455.1 146.8h0M452.9 128.4h0M454.9 132.4h0M457.4 140.2h0M460.6 133.7h0M456.9 128.8h0M450.8 120.4h0M459.3 145.5h0M455.4 155.3h0M458.7 137.6h0M461.6 156.0h0M458.0 153.0h0M453.9 146.7h0M447.6 120.1h0M448.5 122.7h0M460.5 140.9h0M461.7 140.8h0M459.0 146.4h0M454.7 158.6h0M455.7 152.9h0M457.4 127.4h0M455.6 123.1h0M454.5 124.9h0M457.4 145.2h0M457.8 150.4h0M460.9 140.7h0M449.3 122.8h0M460.5 133.7h0M453.9 158.6h0M458.0 129.0h0M447.0 121.0h0M459.1 149.6h0M447.1 158.4h0M452.1 162.0h0M454.7 160.9h0M455.2 133.2h0M458.7 132.7h0M457.5 129.7h0M458.4 147.5h0M456.6 159.1h0M454.6 161.7h0M462.3 145.0h0M460.4 146.0h0M451.9 122.9h0M453.6 154.0h0M454.3 152.9h0M455.3 148.9h0M456.3 149.3h0M457.4 162.8h0M453.8 120.4h0M460.1 149.3h0M461.7 136.0h0M453.8 122.3h0M455.9 152.3h0M459.3 146.6h0M459.4 142.2h0M459.8 127.3h0M466.5 130.1h0M457.2 156.4h0M461.3 130.9h0M457.3 157.2h0M458.1 143.8h0M458.1 147.1h0M460.7 151.6h0M459.9 152.9h0M460.7 131.5h0M457.5 137.6h0M454.8 122.6h0M458.5 136.1h0M462.2 131.2h0M454.5 123.0h0M455.8 134.2h0M459.2 148.4h0M459.9 137.0h0M453.3 121.9h0M450.7 121.2h0M461.7 137.2h0M456.0 122.9h0M450.5 118.5h0M459.8 153.5h0M461.5 144.3h0M459.4 150.9h0M457.9 136.1h0M459.1 156.8h0M458.7 148.4h0M459.3 148.6h0M457.1 126.8h0M454.4 122.6h0M458.0 135.8h0M455.6 133.0h0M458.5 158.2h0M456.1 155.4h0M460.0 123.6h0M448.4 123.0h0M455.5 126.8h0M453.8 128.7h0M456.2 123.8h0M455.0 136.5h0M450.7 124.2h0M458.5 145.1h0M453.6 151.5h0M453.9 125.4h0M451.4 126.3h0M460.9 141.0h0M449.8 157.3h0M458.7 133.4h0M453.9 149.7h0M451.1 159.7h0M452.7 121.5h0M451.5 119.8h0M458.3 156.9h0M453.3 127.9h0M455.3 144.4h0M454.8 161.7h0M452.3 157.6h0M455.5 152.8h0M454.2 156.9h0M457.1 154.4h0M456.5 127.5h0M454.0 119.8h0M459.0 159.4h0M454.0 152.4h0M450.3 123.8h0M457.6 135.1h0M462.3 139.1h0M458.8 134.2h0M452.0 123.6h0M463.5 135.4h0M452.4 131.4h0M457.0 122.2h0M458.6 142.2h0M461.1 147.1h0M448.5 119.9h0M456.3 155.4h0M461.0 137.2h0M452.4 158.9h0M450.3 120.4h0M454.5 123.7h0M458.6 159.0h0M458.5 130.7h0M456.0 132.9h0M454.8 140.0h0M459.4 136.5h0M457.4 139.2h0M452.8 121.7h0M458.1 139.3h0M462.2 150.9h0M456.9 152.3h0M450.6 123.3h0M450.7 160.4h0M454.0 137.1h0M455.9 144.5h0M461.7 149.5h0M462.6 143.8h0M454.5 155.6h0M453.9 122.9h0M454.7 151.9h0M456.4 161.3h0M456.4 140.8h0M456.3 157.9h0M459.2 146.8h0M456.5 150.4h0M459.3 150.4h0M455.7 147.2h0M454.4 153.9h0M454.9 131.9h0M454.4 130.8h0M454.3 155.8h0M454.0 128.5h0M449.0 120.6h0M452.5 156.2h0M455.4 131.6h0M459.7 151.1h0M455.7 132.0h0M452.8 120.1h0M454.9 127.0h0M457.7 151.9h0M460.3 151.7h0M462.4 137.6h0M454.6 123.7h0M455.5 130.4h0M453.2 134.7h0M457.9 148.1h0M450.9 132.5h0M464.0 132.8h0M456.9 157.0h0M457.0 154.8h0M459.5 138.8h0M455.0 154.5h0M454.9 149.2h0M454.2 153.0h0M454.6 134.6h0M453.2 158.9h0M455.7 126.1h0M462.0 141.9h0M459.0 156.6h0M453.6 159.1h0M452.4 155.2h0M452.4 121.4h0M460.7 145.9h0M452.9 161.6h0M460.7 136.6h0M457.9 152.6h0M448.5 123.0h0M455.9 156.1h0M461.1 140.9h0M453.9 122.5h0M456.3 154.3h0M458.5 143.8h0M451.8 126.0h0M461.9 142.0h0M462.0 146.0h0M458.0 124.9h0M464.1 141.5h0M452.6 120.8h0M452.1 159.2h0M455.2 121.0h0M451.8 119.4h0M458.1 145.6h0M458.4 135.3h0M456.7 129.2h0M456.8 123.4h0M454.7 123.0h0M459.2 124.2h0M457.1 155.9h0M457.8 128.5h0M453.6 122.9h0M462.1 134.1h0M456.7 151.6h0M460.4 155.0h0M453.3 120.8h0M459.7 126.0h0M455.8 132.7h0M450.8 119.8h0M459.0 152.5h0M452.4 118.3h0M454.1 122.2h0M457.3 133.9h0M459.2 126.1h0M455.6 151.7h0M457.4 127.6h0M462.0 133.7h0M464.4 136.8h0M462.3 132.2h0M458.0 138.8h0M450.5 121.5h0M451.9 123.6h0M456.4 147.8h0M452.1 157.8h0M458.6 151.2h0M458.7 160.6h0M458.8 148.8h0M456.3 158.0h0M453.5 158.6h0M449.1 127.2h0M457.3 137.6h0M463.5 141.5h0M454.6 159.1h0M460.2 142.4h0M453.8 157.8h0M455.1 150.5h0M460.0 152.9h0M458.3 135.7h0M451.4 121.7h0M451.5 122.5h0M461.3 132.0h0M460.5 147.5h0M456.3 126.1h0M458.6 136.3h0M454.6 120.6h0M455.9 146.9h0M453.9 157.1h0M463.0 145.1h0" stroke="#3fbfb2" stroke-width="0.9" stroke-linecap="round" fill="none" opacity="0.85"/>
<path d="M449.1 165.0h0M445.7 169.5h0M451.1 164.1h0M451.2 162.8h0M443.8 171.3h0M447.0 167.4h0M449.5 164.9h0M448.4 167.1h0M447.5 166.9h0M449.1 165.0h0M442.7 172.6h0M443.8 170.8h0M444.9 169.6h0M449.5 164.6h0M447.1 167.7h0M448.0 165.9h0M444.3 171.1h0M449.3 165.0h0M441.9 174.2h0M451.1 162.7h0M447.6 167.0h0M446.8 167.1h0M446.5 168.5h0M447.6 167.0h0M443.2 172.3h0" stroke="#4fb85f" stroke-width="0.7" stroke-linecap="round" fill="none" opacity="0.8"/>
<path d="M408.6 146.5h0M408.1 147.0h0M410.5 150.9h0M420.5 149.5h0M413.6 149.8h0M403.8 151.3h0M423.7 148.2h0M396.6 149.3h0M411.6 152.2h0M418.2 147.4h0M406.1 146.3h0M423.4 149.3h0M415.9 150.1h0M412.2 149.9h0M405.0 146.7h0M423.2 149.3h0M416.7 145.6h0M408.5 147.0h0M401.3 152.0h0M414.0 151.7h0M411.3 148.4h0M412.8 151.8h0M405.7 147.6h0M405.4 152.3h0M419.3 146.3h0M419.1 149.1h0M403.5 151.2h0M416.5 150.6h0M399.6 154.0h0M414.7 151.3h0M409.3 147.8h0M401.0 151.2h0M407.3 150.6h0M407.9 152.2h0M402.4 150.7h0M405.2 150.7h0M404.0 150.2h0M411.0 151.7h0M410.7 148.3h0M407.1 153.1h0M420.7 150.9h0M414.5 150.4h0M405.1 150.3h0M408.3 148.0h0M403.0 146.9h0M412.5 151.5h0M401.3 149.1h0M426.7 150.0h0M397.8 151.9h0M399.3 154.8h0M427.0 147.4h0M412.1 151.2h0M412.7 151.3h0M411.7 149.3h0M414.7 148.4h0M414.0 152.1h0M413.3 146.3h0M412.1 152.1h0M423.7 149.4h0M418.4 144.7h0M406.6 145.9h0M411.8 148.1h0M403.9 152.2h0M395.3 151.6h0M407.3 156.5h0M414.9 151.8h0M408.4 156.4h0M402.0 150.6h0M422.4 147.8h0M411.5 153.6h0M417.2 146.6h0M408.6 151.4h0M413.4 152.2h0M419.3 147.3h0M407.0 146.7h0M416.5 147.0h0M410.6 146.1h0M407.6 149.6h0M407.5 152.6h0M408.3 152.1h0M400.3 149.9h0M413.9 152.4h0M403.2 152.2h0M421.2 152.1h0M421.6 149.1h0M399.9 152.6h0M394.3 150.2h0M415.4 148.1h0M404.4 147.2h0M405.8 155.7h0M407.0 154.9h0M403.9 153.8h0M425.8 145.7h0M421.9 148.6h0M418.9 145.7h0M417.7 145.3h0M421.7 150.1h0M412.0 147.0h0M409.5 148.2h0M409.9 145.6h0M424.6 147.8h0M404.9 157.3h0M407.8 150.2h0M417.9 148.1h0M430.8 146.8h0M411.4 151.5h0M392.9 147.8h0M408.7 151.5h0M408.5 148.4h0M397.7 151.1h0M405.3 152.8h0M408.9 149.8h0M412.0 151.5h0M415.4 150.7h0M411.7 151.8h0M425.5 151.5h0M411.0 150.7h0M422.8 145.7h0M402.7 152.7h0M405.1 153.5h0M405.4 149.5h0M416.5 150.8h0M409.4 152.6h0M402.6 156.3h0M411.4 150.9h0M414.1 146.0h0M400.8 146.6h0M416.1 150.3h0M405.4 151.4h0M397.8 148.1h0M409.1 149.2h0M409.1 145.9h0M414.5 151.4h0M413.1 148.1h0M412.7 150.6h0M404.5 150.9h0M423.9 147.9h0M407.9 150.6h0M409.5 152.8h0M416.9 149.1h0M406.2 155.3h0M405.1 151.6h0M405.6 149.6h0M421.7 146.2h0M402.2 155.2h0M401.8 151.4h0M410.8 146.2h0M405.5 152.5h0M414.7 151.7h0M397.5 147.8h0M398.8 151.1h0M419.3 153.2h0M421.9 145.0h0M402.9 151.1h0M423.7 156.3h0M408.6 148.9h0M403.9 153.2h0M407.9 151.3h0M416.4 148.9h0M410.1 147.0h0M404.9 152.7h0M411.1 151.9h0M415.0 150.2h0M416.0 151.5h0M411.4 151.2h0M418.2 148.4h0M400.2 150.3h0M407.9 147.1h0M417.7 149.5h0M407.0 146.2h0M399.2 153.2h0M407.3 155.7h0M404.9 151.5h0M398.9 153.2h0M407.4 149.4h0M417.4 148.0h0M413.0 146.4h0M421.1 152.6h0M408.5 148.7h0M411.3 150.2h0M406.5 155.3h0M410.2 152.6h0M406.9 152.2h0M411.4 148.8h0M418.6 143.5h0M409.2 150.8h0M421.5 145.6h0M414.5 152.1h0M410.2 147.5h0M410.2 151.4h0M405.4 150.3h0M412.0 147.7h0M411.4 152.0h0M399.7 150.1h0M396.9 151.0h0M401.6 151.2h0M412.7 153.4h0M412.9 150.3h0M406.4 148.5h0M410.6 153.1h0M403.2 152.7h0M415.7 149.2h0M397.4 151.9h0M421.9 149.1h0M398.3 152.4h0M415.4 149.5h0M404.1 153.4h0M397.9 149.9h0M402.1 151.0h0M424.8 147.6h0M407.9 153.8h0M398.7 151.3h0M412.0 149.5h0M408.9 149.5h0M405.2 152.2h0M410.8 148.6h0M407.1 152.0h0M408.4 150.9h0M415.6 151.7h0M402.5 154.6h0M405.0 149.8h0M411.5 145.5h0M412.5 149.4h0M411.2 153.8h0M415.1 149.9h0M413.2 150.5h0M412.1 149.0h0M414.8 150.6h0M410.1 151.3h0M402.6 151.2h0M414.5 150.0h0M410.3 153.3h0M412.6 147.3h0M406.0 151.9h0M415.3 144.4h0M411.4 152.1h0M417.2 150.7h0M399.1 151.9h0M414.0 144.8h0M403.4 149.9h0M417.2 154.1h0M405.2 146.8h0M405.0 150.7h0M403.4 156.2h0M408.9 149.6h0M413.0 150.5h0M402.9 153.6h0M417.4 147.6h0M408.8 148.7h0M425.0 150.3h0M418.8 149.6h0M408.0 148.1h0" stroke="#43b9a8" stroke-width="0.9" stroke-linecap="round" fill="none" opacity="0.8"/>
<path d="M384.9 106.9h0M387.8 107.2h0M386.6 106.7h0M386.4 105.5h0M386.9 108.7h0M389.6 108.2h0M382.9 110.3h0M389.3 107.1h0M387.0 106.9h0M389.0 108.1h0M386.9 107.1h0M383.9 109.7h0M384.9 104.7h0M385.8 109.1h0" stroke="#49aede" stroke-width="0.8" stroke-linecap="round" fill="none" opacity="0.7"/>
<path d="M344.1 142.3h0M361.3 137.7h0M338.9 141.8h0M350.8 147.4h0M365.2 140.9h0M338.1 147.0h0M339.7 145.0h0M341.2 148.5h0M374.2 144.6h0M323.8 147.2h0M344.4 141.5h0M336.3 147.2h0M339.1 137.4h0M358.2 140.7h0M349.4 143.4h0M351.7 140.5h0M341.3 143.4h0M354.7 140.3h0M351.5 145.2h0M357.2 143.4h0M355.4 143.7h0M352.5 139.6h0M343.4 143.4h0M337.5 142.7h0M355.5 147.3h0M366.3 144.1h0M356.0 146.3h0M346.9 142.7h0M361.4 143.9h0M348.4 150.8h0M344.3 150.2h0M342.3 143.2h0M347.3 142.7h0M352.9 148.2h0M364.6 144.2h0M340.5 143.3h0M359.7 138.9h0M348.4 145.4h0M357.0 146.2h0M350.6 144.3h0M350.0 144.2h0M343.0 143.1h0M359.8 149.1h0M354.2 154.6h0M327.5 148.2h0M342.6 145.7h0M358.5 147.2h0M349.8 143.1h0M345.2 145.5h0M360.1 148.4h0M342.1 147.4h0M354.2 148.0h0M347.0 141.2h0M350.7 143.2h0M358.9 145.5h0M329.0 147.0h0M340.9 148.4h0M349.0 140.7h0M342.9 147.3h0M358.1 145.6h0M355.4 142.9h0M353.0 148.9h0M359.8 140.7h0M348.3 150.4h0M359.7 145.1h0M357.6 146.7h0M352.4 144.1h0M355.0 148.4h0M359.5 145.1h0M347.1 148.2h0M352.5 148.7h0M332.2 138.2h0M349.0 145.7h0M350.9 139.8h0M354.7 139.3h0M359.6 142.5h0M365.7 149.9h0M363.6 156.9h0M337.0 145.7h0M356.4 141.1h0M348.5 149.2h0M350.6 143.3h0M357.4 146.7h0M369.8 144.4h0M351.2 150.4h0M340.5 146.2h0M358.8 145.7h0M343.2 143.7h0M349.4 144.4h0M350.2 149.4h0M355.5 146.2h0M346.8 146.3h0M355.1 144.7h0M351.7 145.6h0M353.9 144.8h0M345.9 148.4h0M340.9 145.0h0M352.7 145.0h0M370.9 142.7h0M345.7 141.7h0M366.5 148.4h0M375.3 143.7h0M357.7 145.8h0M355.5 146.8h0M340.2 142.8h0M338.2 144.5h0M341.7 152.9h0M352.4 146.9h0M362.4 144.3h0M358.8 153.3h0M342.7 146.2h0M351.5 144.5h0M355.9 148.4h0M357.3 142.4h0M361.0 148.2h0M353.0 139.7h0M357.5 143.9h0M351.6 145.2h0M364.3 145.1h0M358.9 140.4h0M338.5 143.7h0M338.9 148.0h0M333.0 148.1h0M356.1 145.5h0M359.0 146.0h0M350.8 138.3h0M373.7 148.5h0M342.3 145.5h0M351.8 145.8h0M351.4 140.7h0M352.9 149.6h0M361.2 148.5h0M344.5 145.5h0M345.9 145.2h0M357.7 147.0h0M338.7 145.6h0M349.8 145.8h0M352.6 142.7h0M335.4 146.3h0M358.6 145.4h0M337.7 149.3h0M342.5 150.1h0M352.0 146.1h0M337.9 148.2h0M341.4 149.9h0M354.2 141.1h0M355.6 145.6h0M368.4 145.8h0M360.1 147.6h0M343.3 143.0h0M359.7 145.6h0M346.4 145.9h0M352.2 144.4h0M349.7 144.9h0M349.2 147.8h0M347.4 147.4h0M337.2 144.3h0M357.7 147.1h0M356.6 142.4h0M363.7 141.7h0M359.2 141.2h0M342.6 146.7h0M352.8 147.1h0M362.4 147.6h0M368.6 145.6h0M360.3 139.7h0M351.5 143.4h0M350.0 145.3h0M372.0 143.1h0M338.1 146.0h0M358.8 139.1h0M356.3 147.3h0M351.3 144.7h0M354.7 144.4h0M342.8 148.9h0M353.8 151.1h0M348.8 145.0h0M340.3 144.9h0M347.9 152.0h0M346.4 141.7h0M344.7 146.2h0M348.6 146.7h0M342.5 142.5h0M363.6 144.6h0M369.5 147.6h0M353.8 144.6h0M366.8 146.3h0M346.8 146.4h0M360.8 144.3h0M350.6 142.5h0M347.2 143.5h0M355.1 136.8h0M354.0 152.5h0M350.5 142.1h0M354.2 150.7h0M337.9 143.2h0M345.4 147.1h0M356.3 140.2h0M362.4 149.8h0M353.5 144.9h0M338.7 147.4h0M343.8 145.5h0M349.3 141.0h0M334.7 145.8h0M351.7 144.3h0M340.9 144.4h0M338.7 141.1h0M354.6 146.2h0M347.9 138.9h0M336.5 140.8h0M333.4 144.8h0M349.0 146.4h0M346.7 148.2h0M346.4 146.1h0M346.8 145.9h0M355.6 147.0h0M346.4 143.9h0M352.6 149.9h0M346.9 146.2h0M337.0 141.2h0M337.9 144.6h0M363.1 143.1h0M349.8 148.1h0M343.0 148.3h0M360.0 142.7h0M348.2 149.4h0M344.3 147.7h0M351.6 145.5h0M346.2 141.3h0M370.1 149.9h0M352.6 144.8h0M360.3 148.3h0M347.6 143.8h0M349.3 147.5h0" stroke="#e98bc0" stroke-width="0.8" stroke-linecap="round" fill="none" opacity="0.7"/>
<path d="M364.4 140.4h0M373.1 138.8h0M370.6 133.6h0M371.6 139.6h0M370.7 140.5h0M365.8 139.4h0M369.9 142.9h0M370.1 139.4h0M362.2 138.1h0M367.4 133.3h0M356.4 144.4h0M369.7 141.5h0M370.5 140.4h0M370.9 142.6h0M364.4 141.6h0M364.4 145.7h0M365.8 138.9h0M372.0 138.7h0M367.7 138.9h0M364.5 142.5h0M369.0 137.8h0M368.0 139.5h0M371.1 144.8h0M362.0 142.2h0M374.3 139.3h0M363.7 141.2h0M365.9 137.2h0M368.1 137.3h0M370.7 138.5h0M371.5 136.1h0M359.8 139.9h0M365.7 142.2h0M372.1 140.4h0M363.2 135.5h0M367.3 142.4h0M375.0 138.7h0M368.9 135.9h0M365.7 142.0h0M365.4 135.0h0M368.6 143.8h0M372.2 142.2h0M363.5 144.6h0M360.9 144.4h0M370.5 139.1h0M375.9 136.6h0M369.6 144.6h0M370.1 139.6h0M363.9 136.5h0M374.6 144.6h0M371.2 130.8h0M360.8 142.7h0M368.7 139.8h0M366.4 138.9h0M370.1 139.3h0M373.1 141.3h0M368.6 136.4h0M368.1 138.5h0M373.8 136.7h0M364.7 141.6h0M363.4 136.8h0M361.2 139.6h0M363.2 139.1h0M369.4 141.5h0M371.3 142.2h0M366.7 136.1h0M369.6 137.2h0M383.4 138.2h0M368.7 137.7h0M369.9 147.1h0M366.8 142.3h0M370.3 140.8h0M369.4 136.7h0M373.5 137.5h0M369.3 135.9h0M372.8 139.4h0M366.5 136.8h0M369.4 136.2h0M365.7 143.8h0M367.5 139.8h0M372.2 142.4h0M368.6 140.2h0M372.1 141.8h0M368.1 140.4h0M370.5 146.7h0M363.0 142.0h0M370.2 135.0h0M369.5 137.0h0M370.9 144.5h0M363.5 146.8h0M369.5 144.0h0M369.5 136.8h0M366.9 133.5h0M371.0 138.3h0M363.8 139.6h0M367.7 135.9h0M365.4 144.5h0M371.0 137.6h0M368.7 142.5h0M372.0 140.2h0M370.0 141.4h0M362.6 141.3h0M366.1 139.9h0M368.3 139.5h0M370.5 138.4h0M369.2 137.6h0M365.5 144.0h0M362.2 140.8h0M372.2 140.7h0" stroke="#e98bc0" stroke-width="0.8" stroke-linecap="round" fill="none" opacity="0.7"/>
<path d="M374.6 155.6h0M379.5 145.3h0M385.2 143.3h0M386.1 152.7h0M379.9 153.4h0M387.3 158.1h0M371.5 157.1h0M375.2 151.5h0M380.6 143.9h0M375.6 150.0h0M375.8 151.7h0M378.5 151.4h0M388.8 146.6h0M380.6 143.6h0M370.2 146.0h0M378.3 149.7h0M377.9 149.6h0M377.2 147.4h0M375.6 155.8h0M379.3 151.9h0M381.9 151.6h0M376.4 160.2h0M384.1 152.0h0M377.9 150.7h0M375.1 150.7h0M382.4 152.4h0M379.8 155.9h0M375.3 144.7h0M386.4 148.0h0M378.5 149.1h0M374.7 146.2h0M381.9 155.7h0M378.0 150.8h0M376.2 142.9h0M376.3 161.4h0M383.5 149.8h0M379.4 158.1h0M378.4 149.7h0M376.2 149.2h0M379.8 154.9h0M372.2 151.4h0M372.1 153.0h0M377.4 157.0h0M371.9 139.7h0M385.7 154.1h0M384.2 146.3h0M380.9 157.2h0M384.4 151.7h0M374.6 147.8h0M387.3 153.2h0M378.6 154.0h0M372.3 155.5h0M374.9 145.4h0M380.3 146.3h0M367.2 155.6h0M382.1 149.3h0M377.2 143.9h0M383.2 157.1h0M375.4 153.7h0M385.8 148.5h0M375.9 157.2h0M383.1 153.4h0M379.4 143.8h0M377.7 149.6h0M380.6 145.2h0M377.5 150.4h0M373.0 155.8h0M371.3 145.7h0M377.7 147.1h0M380.0 157.8h0M378.6 162.9h0M375.1 149.9h0M384.0 152.4h0M377.8 154.8h0M376.5 148.7h0M380.7 148.4h0M383.0 158.5h0M383.3 157.1h0M385.2 156.4h0M375.2 154.0h0M375.6 156.7h0M381.9 156.0h0M382.5 156.3h0M379.4 155.2h0M377.0 148.8h0M376.6 147.9h0M378.5 159.7h0M376.6 149.5h0M379.6 156.5h0M380.4 150.0h0M377.0 144.4h0M383.1 155.6h0M379.3 147.1h0M373.1 154.5h0M378.2 154.9h0M376.4 153.3h0M380.6 153.1h0M386.5 155.7h0M378.7 155.2h0M370.7 152.5h0M373.3 145.8h0M375.8 158.1h0M378.5 146.1h0M377.9 147.4h0M373.7 151.1h0M382.3 150.7h0M378.0 153.3h0M384.0 150.5h0M381.4 156.9h0M381.2 148.5h0M378.5 156.8h0M379.3 146.3h0M376.2 156.7h0M373.7 146.0h0M377.7 150.7h0M378.0 153.1h0M385.1 144.4h0M374.3 144.8h0M372.9 148.7h0M380.2 154.8h0M377.4 147.1h0M371.2 146.9h0M379.6 153.7h0M377.3 145.5h0M371.9 148.5h0M373.8 155.1h0M380.3 156.0h0M383.1 154.9h0M378.5 152.1h0M380.4 158.5h0M384.3 149.9h0M374.6 152.0h0M378.1 153.8h0M377.6 153.0h0M377.1 148.9h0M371.3 152.6h0M375.7 143.8h0M377.0 151.9h0M375.6 148.6h0M383.8 149.3h0M388.2 154.8h0M381.0 147.7h0M376.2 154.0h0M373.6 153.9h0" stroke="#c8d050" stroke-width="0.8" stroke-linecap="round" fill="none" opacity="0.7"/>
<path d="M409.0 199.1h0M418.1 195.8h0M412.8 208.1h0M429.0 208.1h0M419.5 195.2h0M414.7 208.7h0M417.6 209.2h0M409.9 198.1h0M410.9 198.6h0M433.5 199.6h0M409.4 203.2h0M410.6 200.1h0M410.3 198.0h0M430.8 205.7h0M430.1 207.2h0M410.4 206.5h0M430.1 197.7h0M427.6 194.1h0M409.9 204.8h0M412.8 196.0h0M410.1 198.5h0M408.6 203.7h0M427.6 208.5h0M432.7 199.5h0M416.7 209.0h0M426.6 208.8h0M431.9 201.7h0M432.1 203.0h0M433.7 203.0h0M420.4 209.6h0M418.4 209.8h0M415.4 208.3h0M432.2 205.4h0M412.2 198.0h0M413.0 207.8h0M428.5 208.3h0M432.4 201.6h0M428.8 197.1h0M430.7 205.8h0M411.8 198.5h0M431.3 204.6h0M432.0 198.2h0M411.5 200.0h0M408.3 203.9h0M419.4 209.2h0M433.8 203.6h0M424.8 195.8h0M433.5 204.3h0M411.0 196.5h0M425.2 209.2h0M426.9 195.7h0M411.0 204.9h0M423.7 194.0h0M413.5 208.5h0M417.5 209.9h0M430.2 206.5h0M429.3 207.9h0M433.6 201.4h0M411.4 201.4h0M410.4 205.5h0M420.6 194.0h0M415.7 194.9h0M408.6 202.9h0M421.0 195.0h0M430.3 207.2h0M421.1 209.3h0M429.1 198.1h0M425.8 194.7h0M409.0 203.6h0M409.3 204.7h0M432.7 204.7h0M423.8 195.1h0M409.2 199.5h0M433.2 197.8h0M425.0 195.2h0M410.9 198.5h0M425.4 209.4h0M428.5 207.4h0M409.4 201.6h0M421.9 209.4h0M409.2 203.1h0M416.5 209.6h0M425.2 194.3h0M421.2 195.5h0M431.6 199.5h0M416.5 208.3h0M421.9 194.7h0M409.4 198.8h0M412.1 206.2h0M408.9 199.7h0M424.9 195.4h0M431.5 199.7h0M420.2 209.0h0M432.1 199.1h0M420.2 194.8h0M432.1 201.8h0M427.8 209.6h0M432.4 197.8h0M421.5 208.2h0M407.9 200.4h0M412.6 207.6h0M430.8 197.8h0M409.3 200.1h0M416.1 209.5h0M421.9 195.3h0M431.9 202.2h0M427.3 195.7h0M410.9 206.1h0M428.1 194.4h0M423.7 210.1h0M410.3 198.0h0M415.9 194.9h0M410.9 197.9h0M416.1 194.1h0M431.8 198.5h0M429.6 205.5h0M410.6 198.0h0M429.8 197.5h0M415.7 194.6h0M410.5 198.8h0M425.4 209.0h0M429.8 207.2h0M426.3 207.9h0M428.0 207.2h0M424.8 194.7h0M428.9 195.7h0M409.4 204.6h0M427.0 195.7h0M419.6 209.8h0M432.2 206.0h0M424.6 209.5h0M431.3 205.0h0M428.6 195.9h0M408.2 202.1h0M412.3 197.1h0M432.8 201.8h0M428.3 208.0h0M410.9 196.3h0M426.6 208.2h0M429.7 196.4h0M415.4 208.4h0M423.9 195.7h0M415.0 195.6h0M432.5 204.3h0M409.5 204.4h0M431.0 204.3h0M416.7 209.9h0M429.9 198.3h0M421.0 210.8h0M431.1 205.3h0M411.8 207.5h0M414.3 207.4h0M426.7 208.9h0M429.8 206.8h0M409.1 204.0h0M419.2 209.7h0M426.6 207.5h0M421.4 209.5h0M409.2 200.8h0M422.0 193.5h0M414.9 209.3h0M410.0 205.9h0M427.5 194.7h0M414.7 195.9h0M408.3 203.5h0M432.8 200.8h0M410.1 200.0h0M433.0 200.7h0M412.1 206.0h0M433.2 201.7h0M428.5 195.0h0M410.3 204.9h0M428.1 196.1h0M413.0 208.1h0M415.9 208.8h0M425.0 207.6h0M426.3 208.7h0M428.4 207.9h0M412.5 196.4h0M427.0 208.7h0M431.0 201.0h0M432.7 205.4h0M419.8 209.7h0M432.6 202.9h0M411.3 205.9h0M427.8 208.8h0M424.2 208.7h0M413.8 196.0h0M419.5 207.9h0M424.4 195.0h0M413.6 197.5h0M409.5 201.7h0M423.9 209.7h0M420.9 195.2h0M431.7 202.6h0M408.1 202.0h0M417.0 194.4h0M413.6 208.4h0M418.1 194.0h0M415.0 209.0h0M415.8 194.8h0M426.6 207.9h0M430.1 207.0h0M432.4 204.8h0M418.7 208.6h0M411.2 199.7h0M432.6 199.4h0M416.2 194.5h0M421.6 207.5h0M434.5 204.0h0M411.8 201.1h0M414.7 196.7h0M426.4 208.3h0M431.9 202.5h0M416.0 194.1h0M413.7 208.6h0" stroke="#dccd55" stroke-width="0.8" stroke-linecap="round" fill="none" opacity="0.75"/>
<path d="M363.2 225.2h0M354.1 221.5h0M355.0 220.0h0M357.1 223.7h0M358.6 220.4h0M349.6 220.1h0M357.8 226.9h0M357.4 224.7h0M359.7 222.1h0M346.2 221.3h0M349.0 221.8h0M359.4 226.4h0M359.2 222.2h0M351.5 226.9h0M355.3 226.6h0M357.3 222.8h0M361.9 222.7h0M357.0 213.6h0M353.7 224.9h0M362.3 217.3h0M354.8 216.6h0M355.8 218.2h0M351.2 225.3h0M357.4 225.6h0M360.5 225.7h0M359.1 217.2h0M359.9 222.9h0M357.5 218.3h0M358.1 221.9h0M353.7 223.4h0M354.9 217.5h0M354.8 222.1h0M353.6 224.4h0M356.0 220.7h0M357.4 228.2h0M356.1 219.9h0M351.4 223.7h0M356.0 228.2h0M355.7 225.8h0M353.8 228.1h0M360.0 219.9h0M356.6 224.3h0M353.6 224.0h0M356.7 232.7h0M354.1 215.3h0M354.1 221.5h0M355.7 229.7h0M356.0 221.9h0M354.2 222.6h0M348.2 231.4h0M351.5 220.1h0M360.7 228.2h0M354.5 220.5h0M357.1 226.1h0M357.2 227.3h0M354.6 225.5h0M356.2 227.7h0M355.8 234.3h0M351.4 215.8h0M357.4 219.6h0M357.8 225.6h0M357.6 216.4h0M352.1 221.3h0M346.1 213.9h0M360.7 217.0h0M357.9 216.5h0M359.6 222.9h0M364.9 222.2h0M352.5 223.6h0M358.0 225.6h0M357.5 216.7h0M356.3 215.8h0M349.6 218.6h0M354.6 220.6h0M357.0 219.5h0M354.6 217.5h0M361.3 219.6h0M355.6 215.3h0M352.5 223.4h0M356.1 222.7h0M359.2 223.7h0M359.4 223.8h0M360.6 228.4h0M358.8 220.5h0M354.8 222.5h0M354.1 227.6h0M359.4 228.6h0M361.4 225.6h0M359.2 212.6h0M355.2 222.1h0M361.2 226.2h0M356.8 219.1h0M356.3 224.3h0M369.0 231.5h0M353.2 221.0h0M349.8 227.8h0M352.4 221.8h0M355.9 219.2h0M361.0 217.8h0M357.2 225.6h0M361.8 225.1h0M350.5 221.8h0M349.8 220.4h0M353.5 212.5h0M354.2 220.3h0M357.9 218.5h0M353.3 220.9h0M361.7 228.7h0M354.0 230.8h0M356.9 226.3h0M354.8 228.6h0M356.9 222.3h0M356.6 216.2h0M354.2 215.4h0M356.7 213.8h0M356.7 231.3h0M354.0 216.5h0M355.1 225.2h0M355.5 225.7h0M354.4 220.6h0M356.9 213.2h0M356.2 215.6h0M356.0 218.9h0M352.3 213.6h0M363.5 223.9h0M359.5 218.4h0M356.9 227.7h0M352.3 227.3h0M355.4 225.0h0M360.6 225.7h0M353.0 220.6h0M357.4 217.8h0M356.7 220.1h0M362.7 210.0h0M357.7 231.3h0M360.0 219.5h0M354.2 225.5h0M357.2 216.0h0M359.6 221.8h0M357.6 231.3h0M355.6 219.2h0M356.3 226.5h0M357.6 222.8h0M348.0 228.3h0M355.7 219.7h0M357.5 218.5h0M361.7 218.1h0M360.6 219.8h0M354.8 226.6h0M355.4 237.5h0M357.6 222.8h0M356.4 230.3h0M353.2 213.6h0M353.3 235.0h0M361.1 222.9h0M349.5 223.2h0M353.3 221.7h0M355.6 218.3h0M351.5 217.1h0M357.4 224.6h0M359.8 222.8h0M357.1 221.9h0M357.9 225.1h0M355.7 234.6h0M364.6 227.5h0M358.6 231.8h0M360.0 223.7h0M354.8 215.2h0M358.9 219.7h0M355.6 231.4h0M352.7 213.8h0M356.1 225.5h0M361.4 224.6h0M355.1 221.2h0M364.6 219.5h0M362.1 219.3h0M351.8 227.3h0M351.4 221.1h0M359.7 219.2h0M355.4 214.5h0M356.5 231.7h0M360.9 218.7h0M356.4 228.5h0M358.2 226.2h0M355.2 223.9h0M358.4 230.3h0M358.0 220.0h0M366.2 215.1h0M354.0 215.1h0M360.2 215.8h0M360.4 220.7h0M357.3 224.4h0M356.6 217.1h0M358.0 223.1h0M355.6 221.3h0M357.8 220.0h0M355.2 220.3h0M353.9 220.6h0M351.6 225.0h0M354.6 216.8h0M358.1 220.5h0M352.6 220.0h0M354.1 218.2h0M357.2 220.6h0M361.8 214.0h0M352.2 219.5h0M358.1 217.3h0M357.7 229.7h0M352.0 222.6h0M354.7 217.1h0M357.4 230.2h0M352.7 220.8h0M353.1 229.7h0M354.1 215.5h0M352.7 223.1h0M354.6 228.2h0M359.6 221.5h0M353.2 227.9h0M360.3 227.0h0M353.6 227.3h0M354.3 213.6h0M355.3 225.1h0M357.6 212.9h0M356.3 221.0h0M357.4 218.7h0M361.4 226.2h0M361.2 230.4h0M362.3 228.5h0M356.7 221.4h0M352.6 227.7h0M353.6 221.9h0M356.7 231.7h0M353.4 216.1h0M359.5 219.4h0M353.5 218.0h0M354.8 218.2h0M355.6 223.4h0M358.3 218.6h0M358.0 223.2h0M356.7 222.8h0M353.8 220.6h0M359.5 228.2h0M359.8 221.1h0M356.9 217.6h0M356.8 221.9h0M358.9 218.3h0M351.0 227.5h0M352.9 231.5h0M356.6 216.1h0M354.4 225.6h0M360.0 211.8h0M358.8 216.8h0M354.5 223.1h0M360.3 215.4h0M350.3 218.5h0M356.1 229.1h0M364.2 227.1h0M360.4 221.4h0M357.9 222.2h0M363.8 222.8h0M359.7 220.3h0M355.0 224.3h0M359.9 223.9h0M359.6 225.3h0M353.0 224.2h0M353.6 227.3h0M352.5 216.5h0M359.5 219.7h0M349.8 225.4h0M354.0 236.1h0" stroke="#5a92d4" stroke-width="0.9" stroke-linecap="round" fill="none" opacity="0.8"/>
<path d="M368.2 229.9h0M373.8 219.0h0M369.7 238.7h0M380.4 227.5h0M377.2 224.2h0M368.7 228.8h0M370.0 220.9h0M378.0 221.8h0M371.9 233.0h0M359.1 225.4h0M375.0 226.4h0M367.0 224.0h0M365.1 224.1h0M368.8 227.4h0M366.7 215.9h0M363.3 225.5h0M367.8 222.1h0M371.0 220.0h0M390.7 220.5h0M370.8 224.8h0M368.8 228.4h0M370.3 223.3h0M361.0 222.1h0M383.4 232.0h0M359.0 225.4h0M370.8 223.9h0M364.5 221.5h0M373.8 226.5h0M377.4 221.0h0M366.5 220.6h0M359.9 224.2h0M383.8 225.4h0M383.6 227.2h0M375.9 221.2h0M361.9 218.7h0M375.1 236.8h0M376.7 226.8h0M371.2 219.3h0M361.6 220.4h0M375.1 229.1h0M367.3 232.3h0M375.0 236.7h0M368.3 220.0h0M375.0 223.2h0M365.8 232.5h0M365.8 227.0h0M368.3 231.2h0M373.3 226.7h0M370.0 224.8h0M380.8 221.3h0M378.5 233.3h0M358.0 221.0h0M380.5 232.9h0M357.6 226.8h0M360.9 227.6h0M373.8 222.4h0M371.5 223.5h0M370.1 227.3h0M364.8 226.0h0M355.7 224.2h0M365.1 225.5h0M362.8 231.7h0M365.5 228.4h0M373.3 226.8h0M356.3 227.9h0M372.8 219.8h0M366.5 227.8h0M363.2 231.2h0M365.4 239.6h0M362.7 221.5h0M365.7 229.1h0M382.6 225.3h0M377.6 230.0h0M360.4 222.6h0M373.3 225.5h0M379.4 232.1h0M372.3 228.4h0M368.0 232.7h0M362.8 217.0h0M372.7 233.9h0M368.5 230.4h0M373.9 234.3h0M368.2 224.8h0M371.1 228.1h0M364.9 225.9h0M368.5 231.6h0M378.7 223.6h0M367.0 236.2h0M371.2 226.0h0M362.7 228.7h0M370.9 229.4h0M363.2 225.1h0M358.4 221.6h0M368.8 235.8h0M379.4 224.9h0M368.8 219.2h0M365.8 226.7h0M365.2 227.8h0M374.9 227.8h0M360.0 223.7h0M368.7 229.2h0M357.0 221.3h0M382.0 227.2h0M372.3 216.3h0M353.6 233.5h0M376.0 228.6h0M371.7 226.4h0M369.6 224.6h0M372.8 223.3h0M368.0 231.8h0M369.2 225.2h0M381.0 225.0h0M365.0 229.1h0M372.7 223.7h0M363.9 220.9h0M362.8 225.0h0M370.9 215.9h0M365.5 226.2h0M367.2 230.8h0M357.1 227.3h0M365.3 222.7h0M378.1 228.2h0M383.1 225.5h0M368.6 219.5h0M384.5 223.5h0M372.8 220.2h0M376.0 217.8h0M360.8 236.6h0M383.4 220.6h0M359.9 222.9h0M369.8 229.1h0M362.0 220.0h0M376.0 226.1h0M372.3 224.2h0M367.1 220.6h0M369.4 232.0h0M351.1 230.9h0M383.4 223.7h0M367.2 222.3h0M369.9 218.7h0M371.9 236.1h0M371.0 227.3h0M362.6 225.2h0M381.1 224.7h0M375.4 221.9h0M374.3 225.6h0M374.6 226.6h0M360.0 228.5h0M346.6 221.1h0M353.9 229.4h0M385.7 223.1h0M364.9 233.3h0M362.8 229.0h0M347.1 229.5h0M372.3 228.8h0M359.1 232.5h0M389.6 225.8h0M367.4 223.8h0M374.6 233.4h0M373.2 227.1h0M358.6 224.8h0M360.6 234.3h0M368.6 227.8h0M371.5 234.2h0M359.3 225.8h0M363.7 225.7h0M357.9 229.4h0M361.3 234.2h0M367.6 225.2h0M365.6 225.0h0M375.7 232.6h0M373.0 232.1h0M374.8 233.9h0M363.4 221.4h0M378.3 228.7h0M372.8 229.4h0M370.6 227.4h0M355.5 226.1h0M365.5 236.1h0M378.3 222.8h0M384.5 229.0h0M363.5 223.9h0M364.6 219.7h0M372.4 229.2h0M379.0 233.7h0M356.6 225.3h0M375.0 232.2h0M365.7 228.3h0M386.3 225.8h0M359.7 228.8h0M371.4 225.2h0M362.5 223.5h0M356.5 226.6h0M368.1 220.6h0M375.1 228.1h0M373.0 228.2h0M375.8 223.3h0M372.0 222.0h0" stroke="#8ab4e0" stroke-width="0.8" stroke-linecap="round" fill="none" opacity="0.65"/>
<path d="M367.3 227.4h0M373.7 227.8h0M375.6 230.0h0M367.8 226.9h0M383.4 232.3h0M380.0 230.2h0M388.6 232.2h0M393.5 234.8h0M383.5 232.9h0M376.8 227.1h0M381.1 230.0h0M382.2 232.1h0M389.2 234.6h0M391.3 235.1h0M393.4 233.7h0M376.2 229.7h0M372.9 231.5h0M379.1 230.6h0M375.9 229.2h0M368.2 229.0h0M372.0 228.8h0M367.0 230.2h0M392.2 234.3h0M386.9 229.2h0M387.5 235.5h0M379.6 231.8h0M382.0 231.0h0M380.8 233.7h0M393.4 230.7h0M382.3 229.3h0M373.4 232.4h0M391.4 230.9h0M376.1 231.0h0M366.5 230.0h0M376.6 228.4h0M384.3 230.6h0M389.8 232.7h0M381.5 230.5h0M375.8 232.6h0M392.5 232.1h0M389.1 235.8h0M385.8 235.2h0M378.6 233.3h0M373.4 227.2h0M378.8 230.2h0M366.7 226.8h0M380.1 231.7h0M390.8 232.2h0M381.1 232.6h0M385.2 229.0h0M378.3 229.3h0M382.5 229.4h0M381.3 231.8h0M368.3 231.2h0M385.7 229.6h0M382.4 234.5h0M372.9 230.0h0M384.5 234.0h0M370.0 229.0h0M386.7 230.1h0M373.2 229.2h0M373.4 229.8h0M386.3 233.4h0" stroke="#8ab4e0" stroke-width="0.8" stroke-linecap="round" fill="none" opacity="0.7"/>
<path d="M354.7 206.0h0M355.0 204.1h0M361.6 181.8h0M363.2 181.2h0M353.6 210.7h0M360.8 189.3h0M362.2 182.2h0M361.2 182.9h0M360.8 189.7h0M362.2 190.1h0M356.7 204.5h0M356.4 201.2h0M357.0 193.8h0M354.6 201.2h0M353.4 207.1h0M356.1 200.3h0M360.3 185.0h0M358.1 202.5h0M364.4 181.2h0M364.0 184.4h0M361.4 185.3h0M356.0 197.8h0M357.9 207.3h0M361.6 186.5h0M358.2 205.1h0M363.9 181.3h0M360.3 189.6h0M355.5 202.5h0M356.3 204.7h0M361.2 192.5h0M354.8 203.6h0M360.5 189.7h0M357.7 205.9h0M356.2 203.6h0M362.1 189.7h0M354.7 208.0h0M353.4 209.3h0M360.1 187.0h0M356.6 198.5h0M353.9 202.9h0M365.5 182.4h0M354.9 204.3h0M355.3 203.1h0M358.0 197.0h0M352.9 211.1h0M358.5 197.6h0M356.2 204.5h0M358.8 194.3h0M353.9 210.3h0M356.0 203.4h0M359.6 186.2h0M362.8 188.2h0M357.0 198.4h0M356.9 204.2h0M358.0 203.0h0M352.7 212.1h0M354.9 209.4h0M355.9 207.1h0M357.2 203.2h0M360.4 181.9h0M356.7 202.0h0M353.7 212.6h0M357.8 207.3h0" stroke="#e36fa8" stroke-width="0.8" stroke-linecap="round" fill="none" opacity="0.7"/>
<path d="M419.1 183.0h0M386.5 172.8h0M385.6 169.7h0M379.5 171.1h0M405.3 180.0h0M392.8 174.8h0M410.8 180.4h0M415.7 181.9h0M392.2 173.9h0M413.1 181.4h0M416.0 181.4h0M416.7 184.8h0M390.7 175.5h0M412.3 181.1h0M393.6 178.0h0M389.5 174.5h0M396.0 177.5h0M401.8 179.3h0M382.5 171.7h0M415.5 182.9h0M419.7 184.4h0M399.5 177.9h0M406.6 181.8h0M405.9 178.5h0M415.9 186.1h0M390.1 173.0h0M391.6 174.6h0M397.9 177.3h0M389.4 173.1h0M394.0 177.1h0M397.1 176.7h0M407.3 180.5h0M396.0 177.7h0M386.7 174.0h0M394.2 176.0h0M400.8 179.9h0M408.0 180.5h0M380.1 171.2h0M392.7 175.7h0M410.5 181.0h0M385.1 173.1h0M392.1 175.9h0M412.7 181.6h0M398.0 179.2h0M411.7 184.1h0" stroke="#a9d48a" stroke-width="0.7" stroke-linecap="round" fill="none" opacity="0.6"/>
<path d="M371.8 193.5h0M373.1 195.8h0M378.6 200.1h0M364.9 198.3h0M380.7 198.1h0M367.5 200.0h0M372.0 193.4h0M375.8 200.1h0M374.1 197.0h0M366.9 197.7h0M374.1 198.3h0M376.4 200.9h0M378.0 194.1h0M380.2 192.9h0M375.8 200.4h0M384.9 199.7h0M368.8 202.5h0M380.5 202.6h0M379.1 199.9h0M379.1 199.6h0M380.3 197.0h0M374.6 202.2h0M383.7 196.3h0M374.6 199.5h0M380.1 199.0h0M371.8 200.3h0M374.1 198.3h0M374.6 200.3h0M378.4 195.2h0M379.5 196.6h0M377.4 195.5h0M376.1 198.0h0M372.0 196.0h0M374.3 200.9h0M375.1 196.5h0M374.8 195.9h0" stroke="#f0b45a" stroke-width="0.8" stroke-linecap="round" fill="none" opacity="0.6"/>
<path d="M307.1 190.6h0M299.7 170.5h0M303.0 160.7h0M302.6 169.5h0M308.7 188.0h0M307.8 188.6h0M304.6 178.6h0M300.8 168.8h0M299.6 162.7h0M302.4 173.7h0M299.3 168.5h0M304.4 168.2h0M300.6 171.9h0M312.9 191.3h0M300.7 160.5h0M303.9 170.4h0M306.8 172.8h0M303.5 170.8h0M303.9 176.4h0M310.9 190.0h0M304.5 176.5h0M304.8 179.6h0M307.6 183.7h0M300.6 162.5h0M298.3 166.3h0M305.4 179.5h0M303.6 167.2h0M302.7 171.9h0M310.9 186.4h0M301.6 165.6h0M304.3 183.5h0M311.7 190.4h0M300.4 170.9h0M306.7 176.5h0M309.1 184.3h0M308.4 188.2h0M305.5 171.0h0M307.3 183.4h0M303.9 171.8h0M299.7 171.7h0M302.8 167.1h0M304.8 180.3h0M309.1 187.0h0M305.2 184.2h0M306.1 177.9h0M310.6 183.5h0M298.4 161.8h0M306.8 184.5h0M303.4 169.0h0M304.3 172.0h0M309.0 175.0h0M304.8 177.7h0M310.0 190.7h0M297.7 169.4h0M304.3 164.7h0M310.9 185.8h0M307.8 183.9h0M300.6 167.4h0M297.8 162.2h0M307.5 184.2h0M309.2 191.6h0M302.8 167.8h0M305.9 170.0h0M307.1 177.2h0M307.6 182.4h0M305.3 174.1h0M307.3 183.9h0M308.5 183.8h0M306.2 181.1h0M303.9 177.0h0M308.6 181.8h0M304.2 166.9h0" stroke="#c58ad0" stroke-width="0.8" stroke-linecap="round" fill="none" opacity="0.6"/>
<path d="M307.3 187.7h0M304.3 190.6h0M317.4 189.6h0M314.3 190.6h0M314.7 191.5h0M321.7 193.2h0M319.4 191.1h0M316.3 193.9h0M311.1 192.2h0M306.1 193.4h0M310.6 189.7h0M315.0 192.0h0M324.1 195.0h0M314.4 187.8h0M304.9 186.8h0M313.7 191.6h0M303.7 191.2h0M306.7 192.8h0M324.1 192.2h0M311.2 189.4h0M315.9 192.9h0M315.8 186.7h0M327.5 191.0h0M313.9 195.4h0M315.1 192.8h0M319.1 192.1h0M315.0 191.5h0M325.4 192.8h0M313.7 187.8h0M314.6 190.1h0M311.7 184.8h0M311.0 195.3h0M316.3 190.3h0M309.0 189.3h0M306.2 188.5h0M318.8 186.5h0M308.2 186.9h0M302.5 183.5h0M308.5 185.1h0M314.3 187.2h0M314.7 189.8h0M314.2 188.8h0M315.0 191.4h0M318.0 189.4h0M309.2 192.0h0" stroke="#ea6a8c" stroke-width="0.8" stroke-linecap="round" fill="none" opacity="0.6"/>
<rect x="76.00" y="57.00" width="15.00" height="6.00" fill="#e8736b" rx="0.6"/>
<text x="77.30" y="61.65" font-size="5.0" text-anchor="start" fill="#1a1a2a" textLength="12.40" lengthAdjust="spacingAndGlyphs" opacity="0.78">B cell</text>
<rect x="45.00" y="88.00" width="27.00" height="6.00" fill="#b04d9f" rx="0.6"/>
<text x="46.30" y="92.65" font-size="5.0" text-anchor="start" fill="#1a1a2a" textLength="24.40" lengthAdjust="spacingAndGlyphs" opacity="0.78">Pro-B cell</text>
<rect x="45.00" y="117.50" width="27.00" height="6.30" fill="#c24fa8" rx="0.6"/>
<text x="46.30" y="122.45" font-size="5.0" text-anchor="start" fill="#1a1a2a" textLength="24.40" lengthAdjust="spacingAndGlyphs" opacity="0.78">Pre-B cell</text>
<rect x="83.00" y="110.00" width="23.00" height="6.00" fill="#e07b35" rx="0.6"/>
<text x="84.30" y="114.65" font-size="5.0" text-anchor="start" fill="#1a1a2a" textLength="20.40" lengthAdjust="spacingAndGlyphs" opacity="0.78">Basophil</text>
<rect x="108.60" y="102.80" width="66.40" height="6.40" fill="#1c9bd3" rx="0.6"/>
<text x="109.90" y="107.85" font-size="5.0" text-anchor="start" fill="#1a1a2a" textLength="63.80" lengthAdjust="spacingAndGlyphs" opacity="0.78">Mesenchymal stromal cells</text>
<rect x="137.00" y="112.00" width="39.50" height="6.50" fill="#1f9e48" rx="0.6"/>
<text x="138.30" y="117.15" font-size="5.0" text-anchor="start" fill="#1a1a2a" textLength="36.90" lengthAdjust="spacingAndGlyphs" opacity="0.78">Low confidence</text>
<rect x="150.40" y="55.60" width="44.40" height="6.20" fill="#1fa9b9" rx="0.6"/>
<text x="151.70" y="60.45" font-size="5.0" text-anchor="start" fill="#1a1a2a" textLength="41.80" lengthAdjust="spacingAndGlyphs" opacity="0.78">Mature neutrophil</text>
<rect x="133.00" y="68.50" width="37.50" height="6.10" fill="#2a9d3a" rx="0.6"/>
<text x="134.30" y="73.25" font-size="5.0" text-anchor="start" fill="#1a1a2a" textLength="34.90" lengthAdjust="spacingAndGlyphs" opacity="0.78">Late neutrophil</text>
<rect x="151.00" y="83.40" width="36.00" height="5.90" fill="#3b86d2" rx="0.6"/>
<text x="152.30" y="87.95" font-size="5.0" text-anchor="start" fill="#1a1a2a" textLength="33.40" lengthAdjust="spacingAndGlyphs" opacity="0.78">Mid neutrophil</text>
<rect x="177.00" y="96.00" width="40.00" height="6.00" fill="#dc9a25" rx="0.6"/>
<text x="178.30" y="100.65" font-size="5.0" text-anchor="start" fill="#1a1a2a" textLength="37.40" lengthAdjust="spacingAndGlyphs" opacity="0.78">Early neutrophil</text>
<rect x="48.30" y="127.00" width="92.00" height="6.00" fill="#1fb1cb" rx="0.6"/>
<text x="49.60" y="131.65" font-size="5.0" text-anchor="start" fill="#1a1a2a" textLength="89.40" lengthAdjust="spacingAndGlyphs" opacity="0.78">Megakaryocyte–erythrocyte precursor</text>
<rect x="74.00" y="136.30" width="39.00" height="5.90" fill="#d45b9c" rx="0.6"/>
<text x="75.30" y="140.85" font-size="5.0" text-anchor="start" fill="#1a1a2a" textLength="36.40" lengthAdjust="spacingAndGlyphs" opacity="0.78">Proerythroblast</text>
<rect x="38.00" y="150.80" width="41.50" height="6.00" fill="#9b7fc4" rx="0.6"/>
<text x="39.30" y="155.45" font-size="5.0" text-anchor="start" fill="#1a1a2a" textLength="38.90" lengthAdjust="spacingAndGlyphs" opacity="0.78">Natural killer cell</text>
<rect x="109.00" y="147.00" width="31.50" height="6.00" fill="#8cae25" rx="0.6"/>
<text x="110.30" y="151.65" font-size="5.0" text-anchor="start" fill="#1a1a2a" textLength="28.90" lengthAdjust="spacingAndGlyphs" opacity="0.78">Erythroblast</text>
<rect x="149.00" y="144.80" width="33.00" height="6.20" fill="#1fa493" rx="0.6"/>
<text x="150.30" y="149.65" font-size="5.0" text-anchor="start" fill="#1a1a2a" textLength="30.40" lengthAdjust="spacingAndGlyphs" opacity="0.78">Macrophage</text>
<rect x="186.50" y="129.20" width="44.50" height="6.30" fill="#1ea89c" rx="0.6"/>
<text x="187.80" y="134.15" font-size="5.0" text-anchor="start" fill="#1a1a2a" textLength="41.90" lengthAdjust="spacingAndGlyphs" opacity="0.78">Mature eosinophil</text>
<rect x="60.00" y="163.80" width="55.00" height="6.20" fill="#7f7fc6" rx="0.6"/>
<text x="61.30" y="168.65" font-size="5.0" text-anchor="start" fill="#1a1a2a" textLength="52.40" lengthAdjust="spacingAndGlyphs" opacity="0.78">Multipotent progenitor</text>
<rect x="54.30" y="172.40" width="46.70" height="6.00" fill="#9a6cc0" rx="0.6"/>
<text x="55.60" y="177.05" font-size="5.0" text-anchor="start" fill="#1a1a2a" textLength="44.10" lengthAdjust="spacingAndGlyphs" opacity="0.78">Natural killer T cell</text>
<rect x="160.00" y="174.40" width="50.40" height="5.90" fill="#3aa93a" rx="0.6"/>
<text x="161.30" y="178.95" font-size="5.0" text-anchor="start" fill="#1a1a2a" textLength="47.80" lengthAdjust="spacingAndGlyphs" opacity="0.78">Immature eosinophil</text>
<rect x="108.00" y="185.50" width="81.00" height="6.00" fill="#6db336" rx="0.6"/>
<text x="109.30" y="190.15" font-size="5.0" text-anchor="start" fill="#1a1a2a" textLength="78.40" lengthAdjust="spacingAndGlyphs" opacity="0.78">Granulocyte monocyte precursor</text>
<rect x="192.30" y="186.80" width="38.40" height="6.00" fill="#c99a1e" rx="0.6"/>
<text x="193.60" y="191.45" font-size="5.0" text-anchor="start" fill="#1a1a2a" textLength="35.80" lengthAdjust="spacingAndGlyphs" opacity="0.78">Endothelial cell</text>
<rect x="45.00" y="188.80" width="16.00" height="6.00" fill="#e04a6d" rx="0.6"/>
<text x="46.30" y="193.45" font-size="5.0" text-anchor="start" fill="#1a1a2a" textLength="13.40" lengthAdjust="spacingAndGlyphs" opacity="0.78">T cell</text>
<rect x="72.30" y="192.80" width="33.50" height="6.10" fill="#d64d92" rx="0.6"/>
<text x="73.60" y="197.55" font-size="5.0" text-anchor="start" fill="#1a1a2a" textLength="30.90" lengthAdjust="spacingAndGlyphs" opacity="0.78">Promonocyte</text>
<rect x="173.50" y="195.60" width="52.50" height="6.10" fill="#b8a623" rx="0.6"/>
<text x="174.80" y="200.35" font-size="5.0" text-anchor="start" fill="#1a1a2a" textLength="49.90" lengthAdjust="spacingAndGlyphs" opacity="0.78">Eosinophil progenitor</text>
<rect x="112.50" y="200.90" width="33.50" height="6.10" fill="#e39127" rx="0.6"/>
<text x="113.80" y="205.65" font-size="5.0" text-anchor="start" fill="#1a1a2a" textLength="30.90" lengthAdjust="spacingAndGlyphs" opacity="0.78">Dendritic cell</text>
<rect x="103.00" y="217.80" width="26.50" height="6.00" fill="#4479c0" rx="0.6"/>
<text x="104.30" y="222.45" font-size="5.0" text-anchor="start" fill="#1a1a2a" textLength="23.90" lengthAdjust="spacingAndGlyphs" opacity="0.78">Monocyte</text>
<rect x="329.80" y="56.30" width="15.70" height="5.90" fill="#dd4a3e" rx="0.6"/>
<text x="331.10" y="60.85" font-size="5.0" text-anchor="start" fill="#1a1a2a" textLength="13.10" lengthAdjust="spacingAndGlyphs" opacity="0.78">B cell</text>
<rect x="294.00" y="85.40" width="27.00" height="5.90" fill="#8e3b88" rx="0.6"/>
<text x="295.30" y="89.95" font-size="5.0" text-anchor="start" fill="#1a1a2a" textLength="24.40" lengthAdjust="spacingAndGlyphs" opacity="0.78">Pro-B cell</text>
<rect x="288.00" y="122.00" width="28.00" height="6.00" fill="#c2449c" rx="0.6"/>
<text x="289.30" y="126.65" font-size="5.0" text-anchor="start" fill="#1a1a2a" textLength="25.40" lengthAdjust="spacingAndGlyphs" opacity="0.78">Pre-B cell</text>
<rect x="334.20" y="116.50" width="23.80" height="5.80" fill="#d8722e" rx="0.6"/>
<text x="335.50" y="120.95" font-size="5.0" text-anchor="start" fill="#1a1a2a" textLength="21.20" lengthAdjust="spacingAndGlyphs" opacity="0.78">Basophil</text>
<rect x="359.00" y="112.80" width="67.50" height="6.00" fill="#1c9bd3" rx="0.6"/>
<text x="360.30" y="117.45" font-size="5.0" text-anchor="start" fill="#1a1a2a" textLength="64.90" lengthAdjust="spacingAndGlyphs" opacity="0.78">Mesenchymal stromal cells</text>
<rect x="392.30" y="64.20" width="44.20" height="5.80" fill="#1fa9b9" rx="0.6"/>
<text x="393.60" y="68.65" font-size="5.0" text-anchor="start" fill="#1a1a2a" textLength="41.60" lengthAdjust="spacingAndGlyphs" opacity="0.78">Mature neutrophil</text>
<rect x="380.20" y="75.20" width="38.80" height="6.10" fill="#2a9d3a" rx="0.6"/>
<text x="381.50" y="79.95" font-size="5.0" text-anchor="start" fill="#1a1a2a" textLength="36.20" lengthAdjust="spacingAndGlyphs" opacity="0.78">Late neutrophil</text>
<rect x="400.40" y="86.70" width="35.60" height="5.80" fill="#3b86d2" rx="0.6"/>
<text x="401.70" y="91.15" font-size="5.0" text-anchor="start" fill="#1a1a2a" textLength="33.00" lengthAdjust="spacingAndGlyphs" opacity="0.78">Mid neutrophil</text>
<rect x="421.50" y="96.20" width="39.70" height="5.80" fill="#dc9a25" rx="0.6"/>
<text x="422.80" y="100.65" font-size="5.0" text-anchor="start" fill="#1a1a2a" textLength="37.10" lengthAdjust="spacingAndGlyphs" opacity="0.78">Early neutrophil</text>
<rect x="318.00" y="128.00" width="91.00" height="6.00" fill="#1fb1cb" rx="0.6"/>
<text x="319.30" y="132.65" font-size="5.0" text-anchor="start" fill="#1a1a2a" textLength="88.40" lengthAdjust="spacingAndGlyphs" opacity="0.78">Megakaryocyte–erythrocyte precursor</text>
<rect x="329.00" y="136.50" width="38.50" height="6.20" fill="#d45b9c" rx="0.6"/>
<text x="330.30" y="141.35" font-size="5.0" text-anchor="start" fill="#1a1a2a" textLength="35.90" lengthAdjust="spacingAndGlyphs" opacity="0.78">Proerythroblast</text>
<rect x="380.80" y="140.20" width="39.20" height="6.00" fill="#1f9e48" rx="0.6"/>
<text x="382.10" y="144.85" font-size="5.0" text-anchor="start" fill="#1a1a2a" textLength="36.60" lengthAdjust="spacingAndGlyphs" opacity="0.78">Low confidence</text>
<rect x="288.80" y="150.40" width="41.60" height="6.10" fill="#9b7fc4" rx="0.6"/>
<text x="290.10" y="155.15" font-size="5.0" text-anchor="start" fill="#1a1a2a" textLength="39.00" lengthAdjust="spacingAndGlyphs" opacity="0.78">Natural killer cell</text>
<rect x="362.00" y="153.30" width="32.00" height="6.30" fill="#8cae25" rx="0.6"/>
<text x="363.30" y="158.25" font-size="5.0" text-anchor="start" fill="#1a1a2a" textLength="29.40" lengthAdjust="spacingAndGlyphs" opacity="0.78">Erythroblast</text>
<rect x="399.00" y="152.00" width="32.70" height="6.50" fill="#1fa493" rx="0.6"/>
<text x="400.30" y="157.15" font-size="5.0" text-anchor="start" fill="#1a1a2a" textLength="30.10" lengthAdjust="spacingAndGlyphs" opacity="0.78">Macrophage</text>
<rect x="437.30" y="129.60" width="44.70" height="6.20" fill="#1ea89c" rx="0.6"/>
<text x="438.60" y="134.45" font-size="5.0" text-anchor="start" fill="#1a1a2a" textLength="42.10" lengthAdjust="spacingAndGlyphs" opacity="0.78">Mature eosinophil</text>
<rect x="305.00" y="162.30" width="54.20" height="6.00" fill="#7f7fc6" rx="0.6"/>
<text x="306.30" y="166.95" font-size="5.0" text-anchor="start" fill="#1a1a2a" textLength="51.60" lengthAdjust="spacingAndGlyphs" opacity="0.78">Multipotent progenitor</text>
<rect x="305.40" y="170.60" width="46.60" height="6.10" fill="#9a6cc0" rx="0.6"/>
<text x="306.70" y="175.35" font-size="5.0" text-anchor="start" fill="#1a1a2a" textLength="44.00" lengthAdjust="spacingAndGlyphs" opacity="0.78">Natural killer T cell</text>
<rect x="411.00" y="173.50" width="50.30" height="6.10" fill="#3aa93a" rx="0.6"/>
<text x="412.30" y="178.25" font-size="5.0" text-anchor="start" fill="#1a1a2a" textLength="47.70" lengthAdjust="spacingAndGlyphs" opacity="0.78">Immature eosinophil</text>
<rect x="306.30" y="180.20" width="15.40" height="5.60" fill="#e04a6d" rx="0.6"/>
<text x="307.60" y="184.45" font-size="5.0" text-anchor="start" fill="#1a1a2a" textLength="12.80" lengthAdjust="spacingAndGlyphs" opacity="0.78">T cell</text>
<rect x="360.40" y="184.60" width="80.00" height="6.20" fill="#6db336" rx="0.6"/>
<text x="361.70" y="189.45" font-size="5.0" text-anchor="start" fill="#1a1a2a" textLength="77.40" lengthAdjust="spacingAndGlyphs" opacity="0.78">Granulocyte monocyte precursor</text>
<rect x="444.00" y="184.40" width="38.50" height="6.10" fill="#c99a1e" rx="0.6"/>
<text x="445.30" y="189.15" font-size="5.0" text-anchor="start" fill="#1a1a2a" textLength="35.90" lengthAdjust="spacingAndGlyphs" opacity="0.78">Endothelial cell</text>
<rect x="324.20" y="185.60" width="34.30" height="6.10" fill="#d64d92" rx="0.6"/>
<text x="325.50" y="190.35" font-size="5.0" text-anchor="start" fill="#1a1a2a" textLength="31.70" lengthAdjust="spacingAndGlyphs" opacity="0.78">Promonocyte</text>
<rect x="400.00" y="193.00" width="53.00" height="6.40" fill="#b8a623" rx="0.6"/>
<text x="401.30" y="198.05" font-size="5.0" text-anchor="start" fill="#1a1a2a" textLength="50.40" lengthAdjust="spacingAndGlyphs" opacity="0.78">Eosinophil progenitor</text>
<rect x="363.00" y="200.40" width="34.00" height="6.10" fill="#e39127" rx="0.6"/>
<text x="364.30" y="205.15" font-size="5.0" text-anchor="start" fill="#1a1a2a" textLength="31.40" lengthAdjust="spacingAndGlyphs" opacity="0.78">Dendritic cell</text>
<rect x="340.40" y="228.80" width="25.80" height="6.20" fill="#4479c0" rx="0.6"/>
<text x="341.70" y="233.65" font-size="5.0" text-anchor="start" fill="#1a1a2a" textLength="23.20" lengthAdjust="spacingAndGlyphs" opacity="0.78">Monocyte</text>
<text x="7.30" y="297.20" font-size="10.5" text-anchor="start" fill="#000" font-weight="bold" >B</text>
<line x1="48.70" y1="317.50" x2="48.70" y2="413.00" stroke="#231f20" stroke-width="1.1"/>
<line x1="48.15" y1="412.30" x2="377.30" y2="412.30" stroke="#231f20" stroke-width="1.1"/>
<line x1="45.70" y1="412.30" x2="48.70" y2="412.30" stroke="#231f20" stroke-width="0.9"/>
<text x="42.10" y="414.50" font-size="6.4" text-anchor="end" fill="#333" >0.00</text>
<line x1="45.70" y1="390.10" x2="48.70" y2="390.10" stroke="#231f20" stroke-width="0.9"/>
<text x="42.10" y="392.30" font-size="6.4" text-anchor="end" fill="#333" >0.05</text>
<line x1="45.70" y1="367.90" x2="48.70" y2="367.90" stroke="#231f20" stroke-width="0.9"/>
<text x="42.10" y="370.10" font-size="6.4" text-anchor="end" fill="#333" >0.10</text>
<line x1="45.70" y1="345.70" x2="48.70" y2="345.70" stroke="#231f20" stroke-width="0.9"/>
<text x="42.10" y="347.90" font-size="6.4" text-anchor="end" fill="#333" >0.15</text>
<line x1="45.70" y1="323.50" x2="48.70" y2="323.50" stroke="#231f20" stroke-width="0.9"/>
<text x="42.10" y="325.70" font-size="6.4" text-anchor="end" fill="#333" >0.20</text>
<text x="13.40" y="363.50" font-size="7.0" text-anchor="middle" fill="#222" font-weight="bold" textLength="51.00" lengthAdjust="spacingAndGlyphs" transform="rotate(-90 13.40 363.50)" >Relative abundance</text>
<text x="23.40" y="363.50" font-size="7.0" text-anchor="middle" fill="#222" font-weight="bold" textLength="41.50" lengthAdjust="spacingAndGlyphs" transform="rotate(-90 23.40 363.50)" >in bone marrow</text>
<line x1="53.80" y1="412.30" x2="53.80" y2="414.90" stroke="#231f20" stroke-width="0.9"/>
<rect x="50.00" y="403.10" width="3.40" height="8.70" fill="#b3c7d6" />
<rect x="54.60" y="408.75" width="3.40" height="3.05" fill="#f2aab6" />
<text transform="translate(57.10 421.60) rotate(-45) scale(0.88 1)" font-size="7.1" text-anchor="end" fill="#2a2a2a" stroke="#2a2a2a" stroke-width="0.1">MPP</text>
<line x1="66.53" y1="412.30" x2="66.53" y2="414.90" stroke="#231f20" stroke-width="0.9"/>
<rect x="62.73" y="411.10" width="3.40" height="0.70" fill="#b3c7d6" />
<rect x="67.33" y="411.10" width="3.40" height="0.70" fill="#f2aab6" />
<text transform="translate(69.83 421.60) rotate(-45) scale(0.88 1)" font-size="7.1" text-anchor="end" fill="#2a2a2a" stroke="#2a2a2a" stroke-width="0.1">MEP</text>
<line x1="79.26" y1="412.30" x2="79.26" y2="414.90" stroke="#231f20" stroke-width="0.9"/>
<rect x="75.46" y="393.43" width="3.40" height="18.37" fill="#b3c7d6" />
<rect x="80.06" y="378.63" width="3.40" height="33.17" fill="#f2aab6" />
<text transform="translate(82.56 421.60) rotate(-45) scale(0.88 1)" font-size="7.1" text-anchor="end" fill="#2a2a2a" stroke="#2a2a2a" stroke-width="0.1">Proerythroblast</text>
<line x1="91.99" y1="412.30" x2="91.99" y2="414.90" stroke="#231f20" stroke-width="0.9"/>
<rect x="88.19" y="404.00" width="3.40" height="7.80" fill="#b3c7d6" />
<rect x="92.79" y="385.95" width="3.40" height="25.85" fill="#f2aab6" />
<text transform="translate(95.29 421.60) rotate(-45) scale(0.88 1)" font-size="7.1" text-anchor="end" fill="#2a2a2a" stroke="#2a2a2a" stroke-width="0.1">Erythroblast</text>
<line x1="104.72" y1="412.30" x2="104.72" y2="414.90" stroke="#231f20" stroke-width="0.9"/>
<rect x="100.92" y="407.85" width="3.40" height="3.95" fill="#b3c7d6" />
<rect x="105.52" y="406.40" width="3.40" height="5.40" fill="#f2aab6" />
<text transform="translate(108.02 421.60) rotate(-45) scale(0.88 1)" font-size="7.1" text-anchor="end" fill="#2a2a2a" stroke="#2a2a2a" stroke-width="0.1">GMP</text>
<line x1="117.45" y1="412.30" x2="117.45" y2="414.90" stroke="#231f20" stroke-width="0.9"/>
<rect x="113.65" y="373.00" width="3.40" height="38.80" fill="#b3c7d6" />
<rect x="118.25" y="364.53" width="3.40" height="47.27" fill="#f2aab6" />
<text transform="translate(120.75 421.60) rotate(-45) scale(0.88 1)" font-size="7.1" text-anchor="end" fill="#2a2a2a" stroke="#2a2a2a" stroke-width="0.1">Early neutrophil</text>
<line x1="130.18" y1="412.30" x2="130.18" y2="414.90" stroke="#231f20" stroke-width="0.9"/>
<rect x="126.38" y="385.23" width="3.40" height="26.57" fill="#b3c7d6" />
<rect x="130.98" y="391.77" width="3.40" height="20.03" fill="#f2aab6" />
<text transform="translate(133.48 421.60) rotate(-45) scale(0.88 1)" font-size="7.1" text-anchor="end" fill="#2a2a2a" stroke="#2a2a2a" stroke-width="0.1">Mid neutrophil</text>
<line x1="142.91" y1="412.30" x2="142.91" y2="414.90" stroke="#231f20" stroke-width="0.9"/>
<rect x="139.11" y="369.70" width="3.40" height="42.10" fill="#b3c7d6" />
<rect x="143.71" y="337.13" width="3.40" height="74.67" fill="#f2aab6" />
<text transform="translate(146.21 421.60) rotate(-45) scale(0.88 1)" font-size="7.1" text-anchor="end" fill="#2a2a2a" stroke="#2a2a2a" stroke-width="0.1">Late neutrophil</text>
<line x1="155.64" y1="412.30" x2="155.64" y2="414.90" stroke="#231f20" stroke-width="0.9"/>
<rect x="151.84" y="402.90" width="3.40" height="8.90" fill="#b3c7d6" />
<rect x="156.44" y="408.50" width="3.40" height="3.30" fill="#f2aab6" />
<text transform="translate(158.94 421.60) rotate(-45) scale(0.88 1)" font-size="7.1" text-anchor="end" fill="#2a2a2a" stroke="#2a2a2a" stroke-width="0.1">Mature neutrophil</text>
<line x1="168.37" y1="412.30" x2="168.37" y2="414.90" stroke="#231f20" stroke-width="0.9"/>
<rect x="164.57" y="395.10" width="3.40" height="16.70" fill="#b3c7d6" />
<rect x="169.17" y="388.30" width="3.40" height="23.50" fill="#f2aab6" />
<text transform="translate(171.67 421.60) rotate(-45) scale(0.88 1)" font-size="7.1" text-anchor="end" fill="#2a2a2a" stroke="#2a2a2a" stroke-width="0.1">Eosinophil progenitor</text>
<line x1="181.10" y1="412.30" x2="181.10" y2="414.90" stroke="#231f20" stroke-width="0.9"/>
<rect x="177.30" y="405.80" width="3.40" height="6.00" fill="#b3c7d6" />
<rect x="181.90" y="405.00" width="3.40" height="6.80" fill="#f2aab6" />
<text transform="translate(184.40 421.60) rotate(-45) scale(0.88 1)" font-size="7.1" text-anchor="end" fill="#2a2a2a" stroke="#2a2a2a" stroke-width="0.1">Immature eosinophil</text>
<line x1="193.83" y1="412.30" x2="193.83" y2="414.90" stroke="#231f20" stroke-width="0.9"/>
<rect x="190.03" y="371.80" width="3.40" height="40.00" fill="#b3c7d6" />
<rect x="194.63" y="372.00" width="3.40" height="39.80" fill="#f2aab6" />
<text transform="translate(197.13 421.60) rotate(-45) scale(0.88 1)" font-size="7.1" text-anchor="end" fill="#2a2a2a" stroke="#2a2a2a" stroke-width="0.1">Mature eosinophil</text>
<line x1="206.56" y1="412.30" x2="206.56" y2="414.90" stroke="#231f20" stroke-width="0.9"/>
<rect x="202.76" y="409.40" width="3.40" height="2.40" fill="#b3c7d6" />
<rect x="207.36" y="408.50" width="3.40" height="3.30" fill="#f2aab6" />
<text transform="translate(209.86 421.60) rotate(-45) scale(0.88 1)" font-size="7.1" text-anchor="end" fill="#2a2a2a" stroke="#2a2a2a" stroke-width="0.1">Basophil</text>
<line x1="219.29" y1="412.30" x2="219.29" y2="414.90" stroke="#231f20" stroke-width="0.9"/>
<rect x="215.49" y="402.80" width="3.40" height="9.00" fill="#b3c7d6" />
<rect x="220.09" y="396.90" width="3.40" height="14.90" fill="#f2aab6" />
<text transform="translate(222.59 421.60) rotate(-45) scale(0.88 1)" font-size="7.1" text-anchor="end" fill="#2a2a2a" stroke="#2a2a2a" stroke-width="0.1">Promonocyte</text>
<line x1="232.02" y1="412.30" x2="232.02" y2="414.90" stroke="#231f20" stroke-width="0.9"/>
<rect x="228.22" y="385.90" width="3.40" height="25.90" fill="#b3c7d6" />
<rect x="232.82" y="379.87" width="3.40" height="31.93" fill="#f2aab6" />
<text transform="translate(235.32 421.60) rotate(-45) scale(0.88 1)" font-size="7.1" text-anchor="end" fill="#2a2a2a" stroke="#2a2a2a" stroke-width="0.1">Monocyte</text>
<line x1="244.75" y1="412.30" x2="244.75" y2="414.90" stroke="#231f20" stroke-width="0.9"/>
<rect x="240.95" y="384.33" width="3.40" height="27.47" fill="#b3c7d6" />
<rect x="245.55" y="382.27" width="3.40" height="29.53" fill="#f2aab6" />
<text transform="translate(248.05 421.60) rotate(-45) scale(0.88 1)" font-size="7.1" text-anchor="end" fill="#2a2a2a" stroke="#2a2a2a" stroke-width="0.1">Macrophage</text>
<line x1="257.48" y1="412.30" x2="257.48" y2="414.90" stroke="#231f20" stroke-width="0.9"/>
<rect x="253.68" y="400.85" width="3.40" height="10.95" fill="#b3c7d6" />
<rect x="258.28" y="405.30" width="3.40" height="6.50" fill="#f2aab6" />
<text transform="translate(260.78 421.60) rotate(-45) scale(0.88 1)" font-size="7.1" text-anchor="end" fill="#2a2a2a" stroke="#2a2a2a" stroke-width="0.1">Dendritic cell</text>
<line x1="270.21" y1="412.30" x2="270.21" y2="414.90" stroke="#231f20" stroke-width="0.9"/>
<rect x="266.41" y="397.10" width="3.40" height="14.70" fill="#b3c7d6" />
<rect x="271.01" y="412.00" width="3.40" height="-0.20" fill="#f2aab6" />
<text transform="translate(273.51 421.60) rotate(-45) scale(0.88 1)" font-size="7.1" text-anchor="end" fill="#2a2a2a" stroke="#2a2a2a" stroke-width="0.1">Pro-B cell</text>
<line x1="282.94" y1="412.30" x2="282.94" y2="414.90" stroke="#231f20" stroke-width="0.9"/>
<rect x="279.14" y="384.50" width="3.40" height="27.30" fill="#b3c7d6" />
<rect x="283.74" y="412.00" width="3.40" height="-0.20" fill="#f2aab6" />
<text transform="translate(286.24 421.60) rotate(-45) scale(0.88 1)" font-size="7.1" text-anchor="end" fill="#2a2a2a" stroke="#2a2a2a" stroke-width="0.1">Pre-B cell</text>
<line x1="295.67" y1="412.30" x2="295.67" y2="414.90" stroke="#231f20" stroke-width="0.9"/>
<rect x="291.87" y="368.45" width="3.40" height="43.35" fill="#b3c7d6" />
<rect x="296.47" y="394.77" width="3.40" height="17.03" fill="#f2aab6" />
<text transform="translate(298.97 421.60) rotate(-45) scale(0.88 1)" font-size="7.1" text-anchor="end" fill="#2a2a2a" stroke="#2a2a2a" stroke-width="0.1">B cell</text>
<line x1="308.40" y1="412.30" x2="308.40" y2="414.90" stroke="#231f20" stroke-width="0.9"/>
<rect x="304.60" y="409.35" width="3.40" height="2.45" fill="#b3c7d6" />
<rect x="309.20" y="407.30" width="3.40" height="4.50" fill="#f2aab6" />
<text transform="translate(311.70 421.60) rotate(-45) scale(0.88 1)" font-size="7.1" text-anchor="end" fill="#2a2a2a" stroke="#2a2a2a" stroke-width="0.1">Natural killer cell</text>
<line x1="321.13" y1="412.30" x2="321.13" y2="414.90" stroke="#231f20" stroke-width="0.9"/>
<rect x="317.33" y="408.10" width="3.40" height="3.70" fill="#b3c7d6" />
<rect x="321.93" y="407.40" width="3.40" height="4.40" fill="#f2aab6" />
<text transform="translate(324.43 421.60) rotate(-45) scale(0.88 1)" font-size="7.1" text-anchor="end" fill="#2a2a2a" stroke="#2a2a2a" stroke-width="0.1">Natural killer T cell</text>
<line x1="333.86" y1="412.30" x2="333.86" y2="414.90" stroke="#231f20" stroke-width="0.9"/>
<rect x="330.06" y="407.15" width="3.40" height="4.65" fill="#b3c7d6" />
<rect x="334.66" y="403.95" width="3.40" height="7.85" fill="#f2aab6" />
<text transform="translate(337.16 421.60) rotate(-45) scale(0.88 1)" font-size="7.1" text-anchor="end" fill="#2a2a2a" stroke="#2a2a2a" stroke-width="0.1">T cell</text>
<line x1="346.59" y1="412.30" x2="346.59" y2="414.90" stroke="#231f20" stroke-width="0.9"/>
<rect x="342.79" y="408.70" width="3.40" height="3.10" fill="#b3c7d6" />
<rect x="347.39" y="407.30" width="3.40" height="4.50" fill="#f2aab6" />
<text transform="translate(349.89 421.60) rotate(-45) scale(0.88 1)" font-size="7.1" text-anchor="end" fill="#2a2a2a" stroke="#2a2a2a" stroke-width="0.1">MSC</text>
<line x1="359.32" y1="412.30" x2="359.32" y2="414.90" stroke="#231f20" stroke-width="0.9"/>
<rect x="355.52" y="410.60" width="3.40" height="1.20" fill="#b3c7d6" />
<rect x="360.12" y="411.00" width="3.40" height="0.80" fill="#f2aab6" />
<text transform="translate(362.62 421.60) rotate(-45) scale(0.88 1)" font-size="7.1" text-anchor="end" fill="#2a2a2a" stroke="#2a2a2a" stroke-width="0.1">Endothelial cell</text>
<line x1="372.05" y1="412.30" x2="372.05" y2="414.90" stroke="#231f20" stroke-width="0.9"/>
<rect x="368.25" y="393.23" width="3.40" height="18.57" fill="#b3c7d6" />
<rect x="372.85" y="394.03" width="3.40" height="17.77" fill="#f2aab6" />
<text transform="translate(375.35 421.60) rotate(-45) scale(0.88 1)" font-size="7.1" text-anchor="end" fill="#2a2a2a" stroke="#2a2a2a" stroke-width="0.1">Low confidence</text>
<line x1="51.70" y1="390.80" x2="51.70" y2="409.50" stroke="#6d8799" stroke-width="0.6"/>
<line x1="56.30" y1="408.30" x2="56.30" y2="409.20" stroke="#c9707f" stroke-width="0.6"/>
<line x1="77.16" y1="391.60" x2="77.16" y2="395.30" stroke="#6d8799" stroke-width="0.6"/>
<line x1="81.76" y1="371.00" x2="81.76" y2="384.10" stroke="#c9707f" stroke-width="0.6"/>
<line x1="94.49" y1="380.00" x2="94.49" y2="391.90" stroke="#c9707f" stroke-width="0.6"/>
<line x1="102.62" y1="406.50" x2="102.62" y2="409.20" stroke="#6d8799" stroke-width="0.6"/>
<line x1="115.35" y1="371.70" x2="115.35" y2="374.00" stroke="#6d8799" stroke-width="0.6"/>
<line x1="119.95" y1="361.60" x2="119.95" y2="368.40" stroke="#c9707f" stroke-width="0.6"/>
<line x1="128.08" y1="383.10" x2="128.08" y2="387.30" stroke="#6d8799" stroke-width="0.6"/>
<line x1="132.68" y1="382.20" x2="132.68" y2="397.80" stroke="#c9707f" stroke-width="0.6"/>
<line x1="140.81" y1="367.00" x2="140.81" y2="372.30" stroke="#6d8799" stroke-width="0.6"/>
<line x1="145.41" y1="333.00" x2="145.41" y2="342.40" stroke="#c9707f" stroke-width="0.6"/>
<line x1="153.54" y1="402.80" x2="153.54" y2="403.00" stroke="#6d8799" stroke-width="0.6"/>
<line x1="158.14" y1="407.40" x2="158.14" y2="409.60" stroke="#c9707f" stroke-width="0.6"/>
<line x1="166.27" y1="395.00" x2="166.27" y2="395.20" stroke="#6d8799" stroke-width="0.6"/>
<line x1="191.73" y1="371.30" x2="191.73" y2="372.30" stroke="#6d8799" stroke-width="0.6"/>
<line x1="217.19" y1="401.60" x2="217.19" y2="404.00" stroke="#6d8799" stroke-width="0.6"/>
<line x1="221.79" y1="395.00" x2="221.79" y2="398.70" stroke="#c9707f" stroke-width="0.6"/>
<line x1="229.92" y1="384.90" x2="229.92" y2="386.90" stroke="#6d8799" stroke-width="0.6"/>
<line x1="234.52" y1="376.40" x2="234.52" y2="382.00" stroke="#c9707f" stroke-width="0.6"/>
<line x1="242.65" y1="377.00" x2="242.65" y2="394.80" stroke="#6d8799" stroke-width="0.6"/>
<line x1="247.25" y1="378.70" x2="247.25" y2="386.90" stroke="#c9707f" stroke-width="0.6"/>
<line x1="255.38" y1="399.80" x2="255.38" y2="401.90" stroke="#6d8799" stroke-width="0.6"/>
<line x1="259.98" y1="402.10" x2="259.98" y2="408.00" stroke="#c9707f" stroke-width="0.6"/>
<line x1="268.11" y1="397.20" x2="268.11" y2="397.00" stroke="#6d8799" stroke-width="0.6"/>
<line x1="280.84" y1="370.40" x2="280.84" y2="408.40" stroke="#6d8799" stroke-width="0.6"/>
<line x1="293.57" y1="364.10" x2="293.57" y2="372.80" stroke="#6d8799" stroke-width="0.6"/>
<line x1="298.17" y1="388.00" x2="298.17" y2="401.90" stroke="#c9707f" stroke-width="0.6"/>
<line x1="306.30" y1="409.50" x2="306.30" y2="409.20" stroke="#6d8799" stroke-width="0.6"/>
<line x1="323.63" y1="406.80" x2="323.63" y2="408.00" stroke="#c9707f" stroke-width="0.6"/>
<line x1="331.76" y1="406.80" x2="331.76" y2="407.50" stroke="#6d8799" stroke-width="0.6"/>
<line x1="336.36" y1="402.50" x2="336.36" y2="405.40" stroke="#c9707f" stroke-width="0.6"/>
<line x1="344.49" y1="407.40" x2="344.49" y2="410.00" stroke="#6d8799" stroke-width="0.6"/>
<line x1="349.09" y1="406.80" x2="349.09" y2="407.80" stroke="#c9707f" stroke-width="0.6"/>
<line x1="369.95" y1="380.80" x2="369.95" y2="400.10" stroke="#6d8799" stroke-width="0.6"/>
<line x1="374.55" y1="389.30" x2="374.55" y2="400.10" stroke="#c9707f" stroke-width="0.6"/>
<polyline points="77.16,384.6 77.16,346.3 81.76,346.3 81.76,366" fill="none" stroke="#333" stroke-width="0.8"/>
<ellipse cx="78.13" cy="343.10" rx="0.85" ry="0.75" fill="#2a2a2a"/>
<ellipse cx="80.48" cy="343.10" rx="0.85" ry="0.75" fill="#2a2a2a"/>
<polyline points="89.89,398.6 89.89,330.4 94.49,330.4 94.49,373.3" fill="none" stroke="#333" stroke-width="0.8"/>
<ellipse cx="88.51" cy="327.10" rx="0.85" ry="0.75" fill="#2a2a2a"/>
<ellipse cx="90.86" cy="327.10" rx="0.85" ry="0.75" fill="#2a2a2a"/>
<ellipse cx="93.21" cy="327.10" rx="0.85" ry="0.75" fill="#2a2a2a"/>
<ellipse cx="95.56" cy="327.10" rx="0.85" ry="0.75" fill="#2a2a2a"/>
<polyline points="140.81,361 140.81,312.4 145.41,312.4 145.41,326.5" fill="none" stroke="#333" stroke-width="0.8"/>
<ellipse cx="139.44" cy="308.90" rx="0.85" ry="0.75" fill="#2a2a2a"/>
<ellipse cx="141.78" cy="308.90" rx="0.85" ry="0.75" fill="#2a2a2a"/>
<ellipse cx="144.13" cy="308.90" rx="0.85" ry="0.75" fill="#2a2a2a"/>
<ellipse cx="146.49" cy="308.90" rx="0.85" ry="0.75" fill="#2a2a2a"/>
<polyline points="268.11,390 268.11,330.4 272.71,330.4 272.71,406.4" fill="none" stroke="#333" stroke-width="0.8"/>
<ellipse cx="267.91" cy="327.10" rx="0.85" ry="0.75" fill="#2a2a2a"/>
<ellipse cx="270.26" cy="327.10" rx="0.85" ry="0.75" fill="#2a2a2a"/>
<ellipse cx="272.61" cy="327.10" rx="0.85" ry="0.75" fill="#2a2a2a"/>
<polyline points="280.84,362.8 280.84,346.4 285.44,346.4 285.44,405.8" fill="none" stroke="#333" stroke-width="0.8"/>
<ellipse cx="279.47" cy="342.90" rx="0.85" ry="0.75" fill="#2a2a2a"/>
<ellipse cx="281.82" cy="342.90" rx="0.85" ry="0.75" fill="#2a2a2a"/>
<ellipse cx="284.17" cy="342.90" rx="0.85" ry="0.75" fill="#2a2a2a"/>
<ellipse cx="286.52" cy="342.90" rx="0.85" ry="0.75" fill="#2a2a2a"/>
<polyline points="293.57,355.0 293.57,330.4 298.17,330.4 298.17,383.9" fill="none" stroke="#333" stroke-width="0.8"/>
<ellipse cx="292.20" cy="327.10" rx="0.85" ry="0.75" fill="#2a2a2a"/>
<ellipse cx="294.55" cy="327.10" rx="0.85" ry="0.75" fill="#2a2a2a"/>
<ellipse cx="296.90" cy="327.10" rx="0.85" ry="0.75" fill="#2a2a2a"/>
<ellipse cx="299.25" cy="327.10" rx="0.85" ry="0.75" fill="#2a2a2a"/>
<circle cx="51.70" cy="389.80" r="2.1" fill="#1d4b67" stroke="#0b1a26" stroke-width="0.65"/>
<circle cx="51.70" cy="409.00" r="2.1" fill="#1d4b67" stroke="#0b1a26" stroke-width="0.65"/>
<circle cx="51.70" cy="410.50" r="2.1" fill="#1d4b67" stroke="#0b1a26" stroke-width="0.65"/>
<circle cx="56.30" cy="407.30" r="2.1" fill="#a81c36" stroke="#3a0812" stroke-width="0.65"/>
<circle cx="56.30" cy="410.20" r="2.1" fill="#a81c36" stroke="#3a0812" stroke-width="0.65"/>
<circle cx="64.43" cy="411.10" r="2.1" fill="#1d4b67" stroke="#0b1a26" stroke-width="0.65"/>
<circle cx="69.03" cy="411.10" r="2.1" fill="#a81c36" stroke="#3a0812" stroke-width="0.65"/>
<circle cx="77.16" cy="390.60" r="2.1" fill="#1d4b67" stroke="#0b1a26" stroke-width="0.65"/>
<circle cx="77.16" cy="393.40" r="2.1" fill="#1d4b67" stroke="#0b1a26" stroke-width="0.65"/>
<circle cx="77.16" cy="396.30" r="2.1" fill="#1d4b67" stroke="#0b1a26" stroke-width="0.65"/>
<circle cx="81.76" cy="370.00" r="2.1" fill="#a81c36" stroke="#3a0812" stroke-width="0.65"/>
<circle cx="81.76" cy="380.80" r="2.1" fill="#a81c36" stroke="#3a0812" stroke-width="0.65"/>
<circle cx="81.76" cy="385.10" r="2.1" fill="#a81c36" stroke="#3a0812" stroke-width="0.65"/>
<circle cx="89.89" cy="404.00" r="2.1" fill="#1d4b67" stroke="#0b1a26" stroke-width="0.65"/>
<circle cx="94.49" cy="379.00" r="2.1" fill="#a81c36" stroke="#3a0812" stroke-width="0.65"/>
<circle cx="94.49" cy="392.90" r="2.1" fill="#a81c36" stroke="#3a0812" stroke-width="0.65"/>
<circle cx="102.62" cy="405.50" r="2.1" fill="#1d4b67" stroke="#0b1a26" stroke-width="0.65"/>
<circle cx="102.62" cy="410.20" r="2.1" fill="#1d4b67" stroke="#0b1a26" stroke-width="0.65"/>
<circle cx="107.22" cy="406.40" r="2.1" fill="#a81c36" stroke="#3a0812" stroke-width="0.65"/>
<circle cx="115.35" cy="370.70" r="2.1" fill="#1d4b67" stroke="#0b1a26" stroke-width="0.65"/>
<circle cx="115.35" cy="373.30" r="2.1" fill="#1d4b67" stroke="#0b1a26" stroke-width="0.65"/>
<circle cx="115.35" cy="375.00" r="2.1" fill="#1d4b67" stroke="#0b1a26" stroke-width="0.65"/>
<circle cx="119.95" cy="360.60" r="2.1" fill="#a81c36" stroke="#3a0812" stroke-width="0.65"/>
<circle cx="119.95" cy="363.60" r="2.1" fill="#a81c36" stroke="#3a0812" stroke-width="0.65"/>
<circle cx="119.95" cy="369.40" r="2.1" fill="#a81c36" stroke="#3a0812" stroke-width="0.65"/>
<circle cx="128.08" cy="382.10" r="2.1" fill="#1d4b67" stroke="#0b1a26" stroke-width="0.65"/>
<circle cx="128.08" cy="385.30" r="2.1" fill="#1d4b67" stroke="#0b1a26" stroke-width="0.65"/>
<circle cx="128.08" cy="388.30" r="2.1" fill="#1d4b67" stroke="#0b1a26" stroke-width="0.65"/>
<circle cx="132.68" cy="381.20" r="2.1" fill="#a81c36" stroke="#3a0812" stroke-width="0.65"/>
<circle cx="132.68" cy="395.30" r="2.1" fill="#a81c36" stroke="#3a0812" stroke-width="0.65"/>
<circle cx="132.68" cy="398.80" r="2.1" fill="#a81c36" stroke="#3a0812" stroke-width="0.65"/>
<circle cx="140.81" cy="366.00" r="2.1" fill="#1d4b67" stroke="#0b1a26" stroke-width="0.65"/>
<circle cx="140.81" cy="369.80" r="2.1" fill="#1d4b67" stroke="#0b1a26" stroke-width="0.65"/>
<circle cx="140.81" cy="373.30" r="2.1" fill="#1d4b67" stroke="#0b1a26" stroke-width="0.65"/>
<circle cx="145.41" cy="332.00" r="2.1" fill="#a81c36" stroke="#3a0812" stroke-width="0.65"/>
<circle cx="145.41" cy="336.00" r="2.1" fill="#a81c36" stroke="#3a0812" stroke-width="0.65"/>
<circle cx="145.41" cy="343.40" r="2.1" fill="#a81c36" stroke="#3a0812" stroke-width="0.65"/>
<circle cx="153.54" cy="401.80" r="2.1" fill="#1d4b67" stroke="#0b1a26" stroke-width="0.65"/>
<circle cx="153.54" cy="404.00" r="2.1" fill="#1d4b67" stroke="#0b1a26" stroke-width="0.65"/>
<circle cx="158.14" cy="406.40" r="2.1" fill="#a81c36" stroke="#3a0812" stroke-width="0.65"/>
<circle cx="158.14" cy="410.60" r="2.1" fill="#a81c36" stroke="#3a0812" stroke-width="0.65"/>
<circle cx="166.27" cy="394.00" r="2.1" fill="#1d4b67" stroke="#0b1a26" stroke-width="0.65"/>
<circle cx="166.27" cy="396.20" r="2.1" fill="#1d4b67" stroke="#0b1a26" stroke-width="0.65"/>
<circle cx="170.87" cy="388.30" r="2.1" fill="#a81c36" stroke="#3a0812" stroke-width="0.65"/>
<circle cx="179.00" cy="405.80" r="2.1" fill="#1d4b67" stroke="#0b1a26" stroke-width="0.65"/>
<circle cx="183.60" cy="405.00" r="2.1" fill="#a81c36" stroke="#3a0812" stroke-width="0.65"/>
<circle cx="191.73" cy="370.30" r="2.1" fill="#1d4b67" stroke="#0b1a26" stroke-width="0.65"/>
<circle cx="191.73" cy="373.30" r="2.1" fill="#1d4b67" stroke="#0b1a26" stroke-width="0.65"/>
<circle cx="196.33" cy="372.00" r="2.1" fill="#a81c36" stroke="#3a0812" stroke-width="0.65"/>
<circle cx="204.46" cy="409.40" r="2.1" fill="#1d4b67" stroke="#0b1a26" stroke-width="0.65"/>
<circle cx="209.06" cy="408.50" r="2.1" fill="#a81c36" stroke="#3a0812" stroke-width="0.65"/>
<circle cx="217.19" cy="400.60" r="2.1" fill="#1d4b67" stroke="#0b1a26" stroke-width="0.65"/>
<circle cx="217.19" cy="405.00" r="2.1" fill="#1d4b67" stroke="#0b1a26" stroke-width="0.65"/>
<circle cx="221.79" cy="394.00" r="2.1" fill="#a81c36" stroke="#3a0812" stroke-width="0.65"/>
<circle cx="221.79" cy="397.00" r="2.1" fill="#a81c36" stroke="#3a0812" stroke-width="0.65"/>
<circle cx="221.79" cy="399.70" r="2.1" fill="#a81c36" stroke="#3a0812" stroke-width="0.65"/>
<circle cx="229.92" cy="383.90" r="2.1" fill="#1d4b67" stroke="#0b1a26" stroke-width="0.65"/>
<circle cx="229.92" cy="387.90" r="2.1" fill="#1d4b67" stroke="#0b1a26" stroke-width="0.65"/>
<circle cx="234.52" cy="375.40" r="2.1" fill="#a81c36" stroke="#3a0812" stroke-width="0.65"/>
<circle cx="234.52" cy="381.20" r="2.1" fill="#a81c36" stroke="#3a0812" stroke-width="0.65"/>
<circle cx="234.52" cy="383.00" r="2.1" fill="#a81c36" stroke="#3a0812" stroke-width="0.65"/>
<circle cx="242.65" cy="376.00" r="2.1" fill="#1d4b67" stroke="#0b1a26" stroke-width="0.65"/>
<circle cx="242.65" cy="381.20" r="2.1" fill="#1d4b67" stroke="#0b1a26" stroke-width="0.65"/>
<circle cx="242.65" cy="395.80" r="2.1" fill="#1d4b67" stroke="#0b1a26" stroke-width="0.65"/>
<circle cx="247.25" cy="377.70" r="2.1" fill="#a81c36" stroke="#3a0812" stroke-width="0.65"/>
<circle cx="247.25" cy="381.20" r="2.1" fill="#a81c36" stroke="#3a0812" stroke-width="0.65"/>
<circle cx="247.25" cy="387.90" r="2.1" fill="#a81c36" stroke="#3a0812" stroke-width="0.65"/>
<circle cx="255.38" cy="398.80" r="2.1" fill="#1d4b67" stroke="#0b1a26" stroke-width="0.65"/>
<circle cx="255.38" cy="402.90" r="2.1" fill="#1d4b67" stroke="#0b1a26" stroke-width="0.65"/>
<circle cx="259.98" cy="401.10" r="2.1" fill="#a81c36" stroke="#3a0812" stroke-width="0.65"/>
<circle cx="259.98" cy="405.80" r="2.1" fill="#a81c36" stroke="#3a0812" stroke-width="0.65"/>
<circle cx="259.98" cy="409.00" r="2.1" fill="#a81c36" stroke="#3a0812" stroke-width="0.65"/>
<circle cx="268.11" cy="396.20" r="2.1" fill="#1d4b67" stroke="#0b1a26" stroke-width="0.65"/>
<circle cx="268.11" cy="398.00" r="2.1" fill="#1d4b67" stroke="#0b1a26" stroke-width="0.65"/>
<circle cx="272.71" cy="412.00" r="2.1" fill="#a81c36" stroke="#3a0812" stroke-width="0.65"/>
<circle cx="280.84" cy="369.40" r="2.1" fill="#1d4b67" stroke="#0b1a26" stroke-width="0.65"/>
<circle cx="280.84" cy="374.70" r="2.1" fill="#1d4b67" stroke="#0b1a26" stroke-width="0.65"/>
<circle cx="280.84" cy="409.40" r="2.1" fill="#1d4b67" stroke="#0b1a26" stroke-width="0.65"/>
<circle cx="285.44" cy="412.00" r="2.1" fill="#a81c36" stroke="#3a0812" stroke-width="0.65"/>
<circle cx="293.57" cy="363.10" r="2.1" fill="#1d4b67" stroke="#0b1a26" stroke-width="0.65"/>
<circle cx="293.57" cy="373.80" r="2.1" fill="#1d4b67" stroke="#0b1a26" stroke-width="0.65"/>
<circle cx="298.17" cy="387.00" r="2.1" fill="#a81c36" stroke="#3a0812" stroke-width="0.65"/>
<circle cx="298.17" cy="394.40" r="2.1" fill="#a81c36" stroke="#3a0812" stroke-width="0.65"/>
<circle cx="298.17" cy="402.90" r="2.1" fill="#a81c36" stroke="#3a0812" stroke-width="0.65"/>
<circle cx="306.30" cy="408.50" r="2.1" fill="#1d4b67" stroke="#0b1a26" stroke-width="0.65"/>
<circle cx="306.30" cy="410.20" r="2.1" fill="#1d4b67" stroke="#0b1a26" stroke-width="0.65"/>
<circle cx="310.90" cy="407.30" r="2.1" fill="#a81c36" stroke="#3a0812" stroke-width="0.65"/>
<circle cx="319.03" cy="408.10" r="2.1" fill="#1d4b67" stroke="#0b1a26" stroke-width="0.65"/>
<circle cx="323.63" cy="405.80" r="2.1" fill="#a81c36" stroke="#3a0812" stroke-width="0.65"/>
<circle cx="323.63" cy="409.00" r="2.1" fill="#a81c36" stroke="#3a0812" stroke-width="0.65"/>
<circle cx="331.76" cy="405.80" r="2.1" fill="#1d4b67" stroke="#0b1a26" stroke-width="0.65"/>
<circle cx="331.76" cy="408.50" r="2.1" fill="#1d4b67" stroke="#0b1a26" stroke-width="0.65"/>
<circle cx="336.36" cy="401.50" r="2.1" fill="#a81c36" stroke="#3a0812" stroke-width="0.65"/>
<circle cx="336.36" cy="406.40" r="2.1" fill="#a81c36" stroke="#3a0812" stroke-width="0.65"/>
<circle cx="344.49" cy="406.40" r="2.1" fill="#1d4b67" stroke="#0b1a26" stroke-width="0.65"/>
<circle cx="344.49" cy="411.00" r="2.1" fill="#1d4b67" stroke="#0b1a26" stroke-width="0.65"/>
<circle cx="349.09" cy="405.80" r="2.1" fill="#a81c36" stroke="#3a0812" stroke-width="0.65"/>
<circle cx="349.09" cy="408.80" r="2.1" fill="#a81c36" stroke="#3a0812" stroke-width="0.65"/>
<circle cx="357.22" cy="410.60" r="2.1" fill="#1d4b67" stroke="#0b1a26" stroke-width="0.65"/>
<circle cx="361.82" cy="411.00" r="2.1" fill="#a81c36" stroke="#3a0812" stroke-width="0.65"/>
<circle cx="369.95" cy="379.80" r="2.1" fill="#1d4b67" stroke="#0b1a26" stroke-width="0.65"/>
<circle cx="369.95" cy="398.80" r="2.1" fill="#1d4b67" stroke="#0b1a26" stroke-width="0.65"/>
<circle cx="369.95" cy="401.10" r="2.1" fill="#1d4b67" stroke="#0b1a26" stroke-width="0.65"/>
<circle cx="374.55" cy="388.30" r="2.1" fill="#a81c36" stroke="#3a0812" stroke-width="0.65"/>
<circle cx="374.55" cy="392.70" r="2.1" fill="#a81c36" stroke="#3a0812" stroke-width="0.65"/>
<circle cx="374.55" cy="401.10" r="2.1" fill="#a81c36" stroke="#3a0812" stroke-width="0.65"/>
<circle cx="333.50" cy="325.00" r="2.3" fill="#1d4b67" stroke="#0e2233" stroke-width="0.6"/>
<circle cx="333.50" cy="335.90" r="2.3" fill="#a81c36" stroke="#4a0c18" stroke-width="0.6"/>
<text x="339.00" y="327.40" font-size="6.5" text-anchor="start" fill="#333" >Ctrl</text>
<text x="339.00" y="338.30" font-size="6.5" text-anchor="start" fill="#333" >Abx</text>
<text x="393.20" y="296.80" font-size="10.5" text-anchor="start" fill="#000" font-weight="bold" >C</text>
<text x="451.00" y="311.00" font-size="8.6" text-anchor="middle" fill="#222" >Total Cells</text>
<line x1="421.60" y1="317.50" x2="421.60" y2="412.60" stroke="#231f20" stroke-width="1.1"/>
<line x1="421.05" y1="412.10" x2="480.30" y2="412.10" stroke="#231f20" stroke-width="1.1"/>
<line x1="418.60" y1="323.00" x2="421.60" y2="323.00" stroke="#231f20" stroke-width="0.9"/>
<text x="413.10" y="325.20" font-size="5.8" text-anchor="end" fill="#333" >10</text>
<text x="413.30" y="322.40" font-size="3.6" text-anchor="start" fill="#333" >8</text>
<line x1="418.60" y1="367.50" x2="421.60" y2="367.50" stroke="#231f20" stroke-width="0.9"/>
<text x="413.10" y="369.70" font-size="5.8" text-anchor="end" fill="#333" >10</text>
<text x="413.30" y="366.90" font-size="3.6" text-anchor="start" fill="#333" >7</text>
<line x1="418.60" y1="412.10" x2="421.60" y2="412.10" stroke="#231f20" stroke-width="0.9"/>
<text x="413.10" y="414.30" font-size="5.8" text-anchor="end" fill="#333" >10</text>
<text x="413.30" y="411.50" font-size="3.6" text-anchor="start" fill="#333" >6</text>
<line x1="438.50" y1="412.10" x2="438.50" y2="415.00" stroke="#231f20" stroke-width="0.9"/>
<line x1="464.00" y1="412.10" x2="464.00" y2="415.00" stroke="#231f20" stroke-width="0.9"/>
<text x="438.50" y="423.60" font-size="6.5" text-anchor="middle" fill="#333" >Ctrl</text>
<text x="464.00" y="423.60" font-size="6.5" text-anchor="middle" fill="#333" >Abx</text>
<text x="399.20" y="363.40" font-size="7.2" text-anchor="middle" fill="#222" font-weight="bold" textLength="39.00" lengthAdjust="spacingAndGlyphs" transform="rotate(-90 399.20 363.40)" >Cells per femur</text>
<polyline points="438.3,333.8 438.3,329.1 463.7,329.1 463.7,356.7" fill="none" stroke="#333" stroke-width="0.8"/>
<ellipse cx="451.00" cy="325.80" rx="0.85" ry="0.75" fill="#2a2a2a"/>
<circle cx="432.50" cy="340.30" r="2.55" fill="#1f5b95" stroke="#0a1a2a" stroke-width="0.8"/>
<circle cx="438.60" cy="343.30" r="2.55" fill="#1f5b95" stroke="#0a1a2a" stroke-width="0.8"/>
<circle cx="444.30" cy="339.90" r="2.55" fill="#1f5b95" stroke="#0a1a2a" stroke-width="0.8"/>
<circle cx="438.60" cy="351.00" r="2.55" fill="#1f5b95" stroke="#0a1a2a" stroke-width="0.8"/>
<circle cx="438.60" cy="362.10" r="2.55" fill="#1f5b95" stroke="#0a1a2a" stroke-width="0.8"/>
<circle cx="432.50" cy="365.90" r="2.55" fill="#1f5b95" stroke="#0a1a2a" stroke-width="0.8"/>
<circle cx="444.30" cy="365.90" r="2.55" fill="#1f5b95" stroke="#0a1a2a" stroke-width="0.8"/>
<circle cx="438.60" cy="369.50" r="2.55" fill="#1f5b95" stroke="#0a1a2a" stroke-width="0.8"/>
<circle cx="432.50" cy="373.10" r="2.55" fill="#1f5b95" stroke="#0a1a2a" stroke-width="0.8"/>
<circle cx="444.30" cy="371.50" r="2.55" fill="#1f5b95" stroke="#0a1a2a" stroke-width="0.8"/>
<circle cx="463.70" cy="362.80" r="2.55" fill="#c21f3c" stroke="#3f0a14" stroke-width="0.8"/>
<circle cx="461.40" cy="365.50" r="2.55" fill="#c21f3c" stroke="#3f0a14" stroke-width="0.8"/>
<circle cx="466.80" cy="364.10" r="2.55" fill="#c21f3c" stroke="#3f0a14" stroke-width="0.8"/>
<circle cx="458.00" cy="370.20" r="2.55" fill="#c21f3c" stroke="#3f0a14" stroke-width="0.8"/>
<circle cx="464.00" cy="369.50" r="2.55" fill="#c21f3c" stroke="#3f0a14" stroke-width="0.8"/>
<circle cx="469.50" cy="370.90" r="2.55" fill="#c21f3c" stroke="#3f0a14" stroke-width="0.8"/>
<circle cx="462.10" cy="374.20" r="2.55" fill="#c21f3c" stroke="#3f0a14" stroke-width="0.8"/>
<circle cx="467.50" cy="374.00" r="2.55" fill="#c21f3c" stroke="#3f0a14" stroke-width="0.8"/>
<circle cx="463.50" cy="376.20" r="2.55" fill="#c21f3c" stroke="#3f0a14" stroke-width="0.8"/>
<circle cx="463.70" cy="389.70" r="2.55" fill="#c21f3c" stroke="#3f0a14" stroke-width="0.8"/>
<line x1="429.80" y1="354.00" x2="447.00" y2="354.00" stroke="#5f6a72" stroke-width="1.3"/>
<line x1="434.50" y1="350.30" x2="442.60" y2="350.30" stroke="#5f6a72" stroke-width="1.0"/>
<line x1="434.50" y1="358.70" x2="442.60" y2="358.70" stroke="#5f6a72" stroke-width="1.0"/>
<line x1="438.60" y1="350.30" x2="438.60" y2="358.70" stroke="#5f6a72" stroke-width="1.0"/>
<line x1="455.50" y1="370.30" x2="472.00" y2="370.30" stroke="#4a1a22" stroke-width="1.1"/>
<text x="8.20" y="488.90" font-size="10.5" text-anchor="start" fill="#000" font-weight="bold" >D</text>
<text x="12.90" y="557.40" font-size="7.2" text-anchor="middle" fill="#222" font-weight="bold" textLength="39.40" lengthAdjust="spacingAndGlyphs" transform="rotate(-90 12.90 557.40)" >Cells per femur</text>
<line x1="43.60" y1="511.80" x2="43.60" y2="605.40" stroke="#231f20" stroke-width="1.1"/>
<line x1="43.05" y1="604.90" x2="94.40" y2="604.90" stroke="#231f20" stroke-width="1.2"/>
<line x1="40.60" y1="517.70" x2="43.60" y2="517.70" stroke="#231f20" stroke-width="0.9"/>
<text x="35.00" y="520.00" font-size="6.5" text-anchor="end" fill="#333" >1×10</text>
<text x="35.10" y="517.10" font-size="3.9" text-anchor="start" fill="#333" >4</text>
<line x1="40.60" y1="546.50" x2="43.60" y2="546.50" stroke="#231f20" stroke-width="0.9"/>
<text x="35.00" y="548.80" font-size="6.5" text-anchor="end" fill="#333" >1×10</text>
<text x="35.10" y="545.90" font-size="3.9" text-anchor="start" fill="#333" >3</text>
<line x1="40.60" y1="575.80" x2="43.60" y2="575.80" stroke="#231f20" stroke-width="0.9"/>
<text x="35.00" y="578.10" font-size="6.5" text-anchor="end" fill="#333" >1×10</text>
<text x="35.10" y="575.20" font-size="3.9" text-anchor="start" fill="#333" >2</text>
<line x1="40.60" y1="604.60" x2="43.60" y2="604.60" stroke="#231f20" stroke-width="0.9"/>
<text x="35.00" y="606.90" font-size="6.5" text-anchor="end" fill="#333" >1×10</text>
<text x="35.10" y="604.00" font-size="3.9" text-anchor="start" fill="#333" >1</text>
<line x1="57.80" y1="604.90" x2="57.80" y2="607.80" stroke="#231f20" stroke-width="0.9"/>
<line x1="80.00" y1="604.90" x2="80.00" y2="607.80" stroke="#231f20" stroke-width="0.9"/>
<text x="57.80" y="616.50" font-size="6.5" text-anchor="middle" fill="#333" >Ctrl</text>
<text x="80.00" y="616.50" font-size="6.5" text-anchor="middle" fill="#333" >Abx</text>
<text x="68.90" y="502.80" font-size="8.2" text-anchor="middle" fill="#222" >CLP</text>
<polyline points="57.80,518.6 57.80,514.3 80.00,514.3 80.00,536.3" fill="none" stroke="#333" stroke-width="0.8"/>
<ellipse cx="66.55" cy="511.10" rx="0.85" ry="0.75" fill="#2a2a2a"/>
<ellipse cx="68.90" cy="511.10" rx="0.85" ry="0.75" fill="#2a2a2a"/>
<ellipse cx="71.25" cy="511.10" rx="0.85" ry="0.75" fill="#2a2a2a"/>
<circle cx="57.80" cy="526.60" r="2.3" fill="#1f3b55" stroke="#0a1a2a" stroke-width="0.75"/>
<circle cx="63.50" cy="524.50" r="2.3" fill="#1f3b55" stroke="#0a1a2a" stroke-width="0.75"/>
<circle cx="57.80" cy="532.60" r="2.3" fill="#1f3b55" stroke="#0a1a2a" stroke-width="0.75"/>
<circle cx="63.50" cy="531.50" r="2.3" fill="#1f3b55" stroke="#0a1a2a" stroke-width="0.75"/>
<circle cx="52.60" cy="536.30" r="2.3" fill="#1f3b55" stroke="#0a1a2a" stroke-width="0.75"/>
<circle cx="57.80" cy="540.70" r="2.3" fill="#1f3b55" stroke="#0a1a2a" stroke-width="0.75"/>
<circle cx="52.60" cy="546.90" r="2.3" fill="#1f3b55" stroke="#0a1a2a" stroke-width="0.75"/>
<circle cx="57.80" cy="547.20" r="2.3" fill="#1f3b55" stroke="#0a1a2a" stroke-width="0.75"/>
<circle cx="63.50" cy="549.70" r="2.3" fill="#1f3b55" stroke="#0a1a2a" stroke-width="0.75"/>
<circle cx="52.60" cy="551.60" r="2.3" fill="#1f3b55" stroke="#0a1a2a" stroke-width="0.75"/>
<circle cx="80.00" cy="541.50" r="2.3" fill="#c21f3c" stroke="#3f0a14" stroke-width="0.75"/>
<circle cx="74.70" cy="544.50" r="2.3" fill="#c21f3c" stroke="#3f0a14" stroke-width="0.75"/>
<circle cx="84.90" cy="545.80" r="2.3" fill="#c21f3c" stroke="#3f0a14" stroke-width="0.75"/>
<circle cx="80.00" cy="549.20" r="2.3" fill="#c21f3c" stroke="#3f0a14" stroke-width="0.75"/>
<circle cx="74.70" cy="555.10" r="2.3" fill="#c21f3c" stroke="#3f0a14" stroke-width="0.75"/>
<circle cx="80.00" cy="556.70" r="2.3" fill="#c21f3c" stroke="#3f0a14" stroke-width="0.75"/>
<circle cx="84.90" cy="556.70" r="2.3" fill="#c21f3c" stroke="#3f0a14" stroke-width="0.75"/>
<circle cx="74.70" cy="560.50" r="2.3" fill="#c21f3c" stroke="#3f0a14" stroke-width="0.75"/>
<circle cx="80.00" cy="564.20" r="2.3" fill="#c21f3c" stroke="#3f0a14" stroke-width="0.75"/>
<circle cx="74.70" cy="567.90" r="2.3" fill="#c21f3c" stroke="#3f0a14" stroke-width="0.75"/>
<circle cx="84.90" cy="570.60" r="2.3" fill="#c21f3c" stroke="#3f0a14" stroke-width="0.75"/>
<circle cx="80.00" cy="572.00" r="2.3" fill="#c21f3c" stroke="#3f0a14" stroke-width="0.75"/>
<circle cx="80.00" cy="580.30" r="2.3" fill="#c21f3c" stroke="#3f0a14" stroke-width="0.75"/>
<line x1="50.80" y1="535.00" x2="64.80" y2="535.00" stroke="#3a4046" stroke-width="1.2"/>
<line x1="54.60" y1="531.80" x2="61.00" y2="531.80" stroke="#3a4046" stroke-width="0.9"/>
<line x1="54.60" y1="538.20" x2="61.00" y2="538.20" stroke="#3a4046" stroke-width="0.9"/>
<line x1="57.80" y1="531.80" x2="57.80" y2="538.20" stroke="#3a4046" stroke-width="0.9"/>
<line x1="73.00" y1="554.00" x2="87.00" y2="554.00" stroke="#3a2a2e" stroke-width="1.2"/>
<line x1="76.80" y1="550.80" x2="83.20" y2="550.80" stroke="#3a2a2e" stroke-width="0.9"/>
<line x1="76.80" y1="557.20" x2="83.20" y2="557.20" stroke="#3a2a2e" stroke-width="0.9"/>
<line x1="80.00" y1="550.80" x2="80.00" y2="557.20" stroke="#3a2a2e" stroke-width="0.9"/>
<line x1="128.40" y1="511.80" x2="128.40" y2="605.40" stroke="#231f20" stroke-width="1.1"/>
<line x1="127.85" y1="604.90" x2="179.20" y2="604.90" stroke="#231f20" stroke-width="1.2"/>
<line x1="125.40" y1="517.70" x2="128.40" y2="517.70" stroke="#231f20" stroke-width="0.9"/>
<text x="119.80" y="520.00" font-size="6.5" text-anchor="end" fill="#333" >1×10</text>
<text x="119.90" y="517.10" font-size="3.9" text-anchor="start" fill="#333" >6</text>
<line x1="125.40" y1="546.50" x2="128.40" y2="546.50" stroke="#231f20" stroke-width="0.9"/>
<text x="119.80" y="548.80" font-size="6.5" text-anchor="end" fill="#333" >1×10</text>
<text x="119.90" y="545.90" font-size="3.9" text-anchor="start" fill="#333" >5</text>
<line x1="125.40" y1="575.80" x2="128.40" y2="575.80" stroke="#231f20" stroke-width="0.9"/>
<text x="119.80" y="578.10" font-size="6.5" text-anchor="end" fill="#333" >1×10</text>
<text x="119.90" y="575.20" font-size="3.9" text-anchor="start" fill="#333" >4</text>
<line x1="125.40" y1="604.60" x2="128.40" y2="604.60" stroke="#231f20" stroke-width="0.9"/>
<text x="119.80" y="606.90" font-size="6.5" text-anchor="end" fill="#333" >1×10</text>
<text x="119.90" y="604.00" font-size="3.9" text-anchor="start" fill="#333" >3</text>
<line x1="142.60" y1="604.90" x2="142.60" y2="607.80" stroke="#231f20" stroke-width="0.9"/>
<line x1="164.80" y1="604.90" x2="164.80" y2="607.80" stroke="#231f20" stroke-width="0.9"/>
<text x="142.60" y="616.50" font-size="6.5" text-anchor="middle" fill="#333" >Ctrl</text>
<text x="164.80" y="616.50" font-size="6.5" text-anchor="middle" fill="#333" >Abx</text>
<text x="153.70" y="502.80" font-size="8.2" text-anchor="middle" fill="#222" >Pre-Pro B</text>
<polyline points="142.60,518.5 142.60,513.9 164.80,513.9 164.80,535.3" fill="none" stroke="#333" stroke-width="0.8"/>
<ellipse cx="152.52" cy="511.00" rx="0.85" ry="0.75" fill="#2a2a2a"/>
<ellipse cx="154.87" cy="511.00" rx="0.85" ry="0.75" fill="#2a2a2a"/>
<circle cx="142.60" cy="524.20" r="2.3" fill="#1e4d75" stroke="#0a1a2a" stroke-width="0.75"/>
<circle cx="139.70" cy="533.80" r="2.3" fill="#1e4d75" stroke="#0a1a2a" stroke-width="0.75"/>
<circle cx="145.00" cy="532.60" r="2.3" fill="#1e4d75" stroke="#0a1a2a" stroke-width="0.75"/>
<circle cx="142.60" cy="539.80" r="2.3" fill="#1e4d75" stroke="#0a1a2a" stroke-width="0.75"/>
<circle cx="137.30" cy="547.00" r="2.3" fill="#1e4d75" stroke="#0a1a2a" stroke-width="0.75"/>
<circle cx="142.60" cy="545.80" r="2.3" fill="#1e4d75" stroke="#0a1a2a" stroke-width="0.75"/>
<circle cx="147.60" cy="547.00" r="2.3" fill="#1e4d75" stroke="#0a1a2a" stroke-width="0.75"/>
<circle cx="137.30" cy="553.00" r="2.3" fill="#1e4d75" stroke="#0a1a2a" stroke-width="0.75"/>
<circle cx="142.60" cy="553.00" r="2.3" fill="#1e4d75" stroke="#0a1a2a" stroke-width="0.75"/>
<circle cx="147.60" cy="553.00" r="2.3" fill="#1e4d75" stroke="#0a1a2a" stroke-width="0.75"/>
<circle cx="165.00" cy="540.70" r="2.3" fill="#c21f3c" stroke="#3f0a14" stroke-width="0.75"/>
<circle cx="162.20" cy="547.60" r="2.3" fill="#c21f3c" stroke="#3f0a14" stroke-width="0.75"/>
<circle cx="167.70" cy="547.60" r="2.3" fill="#c21f3c" stroke="#3f0a14" stroke-width="0.75"/>
<circle cx="159.80" cy="550.70" r="2.3" fill="#c21f3c" stroke="#3f0a14" stroke-width="0.75"/>
<circle cx="165.90" cy="550.20" r="2.3" fill="#c21f3c" stroke="#3f0a14" stroke-width="0.75"/>
<circle cx="167.20" cy="554.20" r="2.3" fill="#c21f3c" stroke="#3f0a14" stroke-width="0.75"/>
<circle cx="159.80" cy="559.00" r="2.3" fill="#c21f3c" stroke="#3f0a14" stroke-width="0.75"/>
<circle cx="165.00" cy="558.60" r="2.3" fill="#c21f3c" stroke="#3f0a14" stroke-width="0.75"/>
<circle cx="169.90" cy="559.00" r="2.3" fill="#c21f3c" stroke="#3f0a14" stroke-width="0.75"/>
<circle cx="162.40" cy="561.70" r="2.3" fill="#c21f3c" stroke="#3f0a14" stroke-width="0.75"/>
<circle cx="167.70" cy="562.60" r="2.3" fill="#c21f3c" stroke="#3f0a14" stroke-width="0.75"/>
<circle cx="165.00" cy="564.80" r="2.3" fill="#c21f3c" stroke="#3f0a14" stroke-width="0.75"/>
<circle cx="165.00" cy="575.80" r="2.3" fill="#c21f3c" stroke="#3f0a14" stroke-width="0.75"/>
<line x1="135.60" y1="539.00" x2="149.60" y2="539.00" stroke="#3a4046" stroke-width="1.2"/>
<line x1="139.40" y1="535.80" x2="145.80" y2="535.80" stroke="#3a4046" stroke-width="0.9"/>
<line x1="139.40" y1="542.20" x2="145.80" y2="542.20" stroke="#3a4046" stroke-width="0.9"/>
<line x1="142.60" y1="535.80" x2="142.60" y2="542.20" stroke="#3a4046" stroke-width="0.9"/>
<line x1="157.80" y1="553.60" x2="171.80" y2="553.60" stroke="#3a2a2e" stroke-width="1.2"/>
<line x1="161.60" y1="550.40" x2="168.00" y2="550.40" stroke="#3a2a2e" stroke-width="0.9"/>
<line x1="161.60" y1="556.80" x2="168.00" y2="556.80" stroke="#3a2a2e" stroke-width="0.9"/>
<line x1="164.80" y1="550.40" x2="164.80" y2="556.80" stroke="#3a2a2e" stroke-width="0.9"/>
<line x1="213.90" y1="515.00" x2="213.90" y2="605.40" stroke="#231f20" stroke-width="1.1"/>
<line x1="213.35" y1="604.90" x2="264.70" y2="604.90" stroke="#231f20" stroke-width="1.2"/>
<line x1="210.90" y1="520.60" x2="213.90" y2="520.60" stroke="#231f20" stroke-width="0.9"/>
<text x="205.30" y="522.90" font-size="6.5" text-anchor="end" fill="#333" >1×10</text>
<text x="205.40" y="520.00" font-size="3.9" text-anchor="start" fill="#333" >6</text>
<line x1="210.90" y1="548.90" x2="213.90" y2="548.90" stroke="#231f20" stroke-width="0.9"/>
<text x="205.30" y="551.20" font-size="6.5" text-anchor="end" fill="#333" >1×10</text>
<text x="205.40" y="548.30" font-size="3.9" text-anchor="start" fill="#333" >5</text>
<line x1="210.90" y1="577.00" x2="213.90" y2="577.00" stroke="#231f20" stroke-width="0.9"/>
<text x="205.30" y="579.30" font-size="6.5" text-anchor="end" fill="#333" >1×10</text>
<text x="205.40" y="576.40" font-size="3.9" text-anchor="start" fill="#333" >4</text>
<line x1="210.90" y1="604.60" x2="213.90" y2="604.60" stroke="#231f20" stroke-width="0.9"/>
<text x="205.30" y="606.90" font-size="6.5" text-anchor="end" fill="#333" >1×10</text>
<text x="205.40" y="604.00" font-size="3.9" text-anchor="start" fill="#333" >3</text>
<line x1="228.10" y1="604.90" x2="228.10" y2="607.80" stroke="#231f20" stroke-width="0.9"/>
<line x1="250.30" y1="604.90" x2="250.30" y2="607.80" stroke="#231f20" stroke-width="0.9"/>
<text x="228.10" y="616.50" font-size="6.5" text-anchor="middle" fill="#333" >Ctrl</text>
<text x="250.30" y="616.50" font-size="6.5" text-anchor="middle" fill="#333" >Abx</text>
<text x="239.20" y="502.80" font-size="8.2" text-anchor="middle" fill="#222" >Pro-B</text>
<polyline points="228.10,523.6 228.10,519.2 250.30,519.2 250.30,530.6" fill="none" stroke="#333" stroke-width="0.8"/>
<ellipse cx="238.02" cy="515.80" rx="0.85" ry="0.75" fill="#2a2a2a"/>
<ellipse cx="240.37" cy="515.80" rx="0.85" ry="0.75" fill="#2a2a2a"/>
<circle cx="223.40" cy="528.80" r="2.3" fill="#1e5288" stroke="#0a1a2a" stroke-width="0.75"/>
<circle cx="228.20" cy="529.40" r="2.3" fill="#1e5288" stroke="#0a1a2a" stroke-width="0.75"/>
<circle cx="233.00" cy="531.20" r="2.3" fill="#1e5288" stroke="#0a1a2a" stroke-width="0.75"/>
<circle cx="227.60" cy="536.40" r="2.3" fill="#1e5288" stroke="#0a1a2a" stroke-width="0.75"/>
<circle cx="223.40" cy="540.20" r="2.3" fill="#1e5288" stroke="#0a1a2a" stroke-width="0.75"/>
<circle cx="233.00" cy="540.20" r="2.3" fill="#1e5288" stroke="#0a1a2a" stroke-width="0.75"/>
<circle cx="223.40" cy="546.20" r="2.3" fill="#1e5288" stroke="#0a1a2a" stroke-width="0.75"/>
<circle cx="233.00" cy="546.80" r="2.3" fill="#1e5288" stroke="#0a1a2a" stroke-width="0.75"/>
<circle cx="228.20" cy="549.20" r="2.3" fill="#1e5288" stroke="#0a1a2a" stroke-width="0.75"/>
<circle cx="228.00" cy="554.00" r="2.3" fill="#1e5288" stroke="#0a1a2a" stroke-width="0.75"/>
<circle cx="249.60" cy="535.40" r="2.3" fill="#c21f3c" stroke="#3f0a14" stroke-width="0.75"/>
<circle cx="249.60" cy="540.80" r="2.3" fill="#c21f3c" stroke="#3f0a14" stroke-width="0.75"/>
<circle cx="249.60" cy="548.00" r="2.3" fill="#c21f3c" stroke="#3f0a14" stroke-width="0.75"/>
<circle cx="249.60" cy="556.40" r="2.3" fill="#c21f3c" stroke="#3f0a14" stroke-width="0.75"/>
<circle cx="244.80" cy="565.40" r="2.3" fill="#c21f3c" stroke="#3f0a14" stroke-width="0.75"/>
<circle cx="248.00" cy="563.60" r="2.3" fill="#c21f3c" stroke="#3f0a14" stroke-width="0.75"/>
<circle cx="251.60" cy="566.00" r="2.3" fill="#c21f3c" stroke="#3f0a14" stroke-width="0.75"/>
<circle cx="248.00" cy="569.60" r="2.3" fill="#c21f3c" stroke="#3f0a14" stroke-width="0.75"/>
<circle cx="244.40" cy="575.60" r="2.3" fill="#c21f3c" stroke="#3f0a14" stroke-width="0.75"/>
<circle cx="248.60" cy="576.80" r="2.3" fill="#c21f3c" stroke="#3f0a14" stroke-width="0.75"/>
<circle cx="251.60" cy="575.60" r="2.3" fill="#c21f3c" stroke="#3f0a14" stroke-width="0.75"/>
<circle cx="254.00" cy="579.80" r="2.3" fill="#c21f3c" stroke="#3f0a14" stroke-width="0.75"/>
<circle cx="249.20" cy="585.80" r="2.3" fill="#c21f3c" stroke="#3f0a14" stroke-width="0.75"/>
<line x1="221.10" y1="537.00" x2="235.10" y2="537.00" stroke="#3a4046" stroke-width="1.2"/>
<line x1="224.90" y1="533.80" x2="231.30" y2="533.80" stroke="#3a4046" stroke-width="0.9"/>
<line x1="224.90" y1="540.20" x2="231.30" y2="540.20" stroke="#3a4046" stroke-width="0.9"/>
<line x1="228.10" y1="533.80" x2="228.10" y2="540.20" stroke="#3a4046" stroke-width="0.9"/>
<line x1="243.30" y1="554.60" x2="257.30" y2="554.60" stroke="#3a2a2e" stroke-width="1.2"/>
<line x1="247.10" y1="551.40" x2="253.50" y2="551.40" stroke="#3a2a2e" stroke-width="0.9"/>
<line x1="247.10" y1="557.80" x2="253.50" y2="557.80" stroke="#3a2a2e" stroke-width="0.9"/>
<line x1="250.30" y1="551.40" x2="250.30" y2="557.80" stroke="#3a2a2e" stroke-width="0.9"/>
<line x1="297.20" y1="515.00" x2="297.20" y2="605.40" stroke="#231f20" stroke-width="1.1"/>
<line x1="296.65" y1="604.90" x2="348.00" y2="604.90" stroke="#231f20" stroke-width="1.2"/>
<line x1="294.20" y1="521.00" x2="297.20" y2="521.00" stroke="#231f20" stroke-width="0.9"/>
<text x="288.60" y="523.30" font-size="6.5" text-anchor="end" fill="#333" >1×10</text>
<text x="288.70" y="520.40" font-size="3.9" text-anchor="start" fill="#333" >7</text>
<line x1="294.20" y1="542.20" x2="297.20" y2="542.20" stroke="#231f20" stroke-width="0.9"/>
<text x="288.60" y="544.50" font-size="6.5" text-anchor="end" fill="#333" >1×10</text>
<text x="288.70" y="541.60" font-size="3.9" text-anchor="start" fill="#333" >6</text>
<line x1="294.20" y1="563.00" x2="297.20" y2="563.00" stroke="#231f20" stroke-width="0.9"/>
<text x="288.60" y="565.30" font-size="6.5" text-anchor="end" fill="#333" >1×10</text>
<text x="288.70" y="562.40" font-size="3.9" text-anchor="start" fill="#333" >5</text>
<line x1="294.20" y1="583.70" x2="297.20" y2="583.70" stroke="#231f20" stroke-width="0.9"/>
<text x="288.60" y="586.00" font-size="6.5" text-anchor="end" fill="#333" >1×10</text>
<text x="288.70" y="583.10" font-size="3.9" text-anchor="start" fill="#333" >4</text>
<line x1="294.20" y1="604.60" x2="297.20" y2="604.60" stroke="#231f20" stroke-width="0.9"/>
<text x="288.60" y="606.90" font-size="6.5" text-anchor="end" fill="#333" >1×10</text>
<text x="288.70" y="604.00" font-size="3.9" text-anchor="start" fill="#333" >3</text>
<line x1="311.40" y1="604.90" x2="311.40" y2="607.80" stroke="#231f20" stroke-width="0.9"/>
<line x1="333.60" y1="604.90" x2="333.60" y2="607.80" stroke="#231f20" stroke-width="0.9"/>
<text x="311.40" y="616.50" font-size="6.5" text-anchor="middle" fill="#333" >Ctrl</text>
<text x="333.60" y="616.50" font-size="6.5" text-anchor="middle" fill="#333" >Abx</text>
<text x="322.50" y="502.80" font-size="8.2" text-anchor="middle" fill="#222" >Pre-B</text>
<polyline points="311.40,526.6 311.40,522.3 333.60,522.3 333.60,541.6" fill="none" stroke="#333" stroke-width="0.8"/>
<ellipse cx="318.98" cy="518.70" rx="0.85" ry="0.75" fill="#2a2a2a"/>
<ellipse cx="321.33" cy="518.70" rx="0.85" ry="0.75" fill="#2a2a2a"/>
<ellipse cx="323.68" cy="518.70" rx="0.85" ry="0.75" fill="#2a2a2a"/>
<ellipse cx="326.03" cy="518.70" rx="0.85" ry="0.75" fill="#2a2a2a"/>
<circle cx="306.60" cy="535.00" r="2.3" fill="#1e5288" stroke="#0a1a2a" stroke-width="0.75"/>
<circle cx="309.60" cy="532.00" r="2.3" fill="#1e5288" stroke="#0a1a2a" stroke-width="0.75"/>
<circle cx="313.20" cy="532.00" r="2.3" fill="#1e5288" stroke="#0a1a2a" stroke-width="0.75"/>
<circle cx="316.20" cy="533.80" r="2.3" fill="#1e5288" stroke="#0a1a2a" stroke-width="0.75"/>
<circle cx="306.60" cy="544.60" r="2.3" fill="#1e5288" stroke="#0a1a2a" stroke-width="0.75"/>
<circle cx="310.20" cy="543.40" r="2.3" fill="#1e5288" stroke="#0a1a2a" stroke-width="0.75"/>
<circle cx="313.20" cy="542.80" r="2.3" fill="#1e5288" stroke="#0a1a2a" stroke-width="0.75"/>
<circle cx="316.20" cy="545.80" r="2.3" fill="#1e5288" stroke="#0a1a2a" stroke-width="0.75"/>
<circle cx="306.60" cy="548.80" r="2.3" fill="#1e5288" stroke="#0a1a2a" stroke-width="0.75"/>
<circle cx="309.60" cy="547.60" r="2.3" fill="#1e5288" stroke="#0a1a2a" stroke-width="0.75"/>
<circle cx="313.20" cy="550.00" r="2.3" fill="#1e5288" stroke="#0a1a2a" stroke-width="0.75"/>
<circle cx="316.80" cy="548.20" r="2.3" fill="#1e5288" stroke="#0a1a2a" stroke-width="0.75"/>
<circle cx="306.60" cy="551.20" r="2.3" fill="#1e5288" stroke="#0a1a2a" stroke-width="0.75"/>
<circle cx="312.00" cy="551.20" r="2.3" fill="#1e5288" stroke="#0a1a2a" stroke-width="0.75"/>
<circle cx="337.20" cy="545.80" r="2.3" fill="#c21f3c" stroke="#3f0a14" stroke-width="0.75"/>
<circle cx="332.40" cy="550.60" r="2.3" fill="#c21f3c" stroke="#3f0a14" stroke-width="0.75"/>
<circle cx="332.40" cy="560.80" r="2.3" fill="#c21f3c" stroke="#3f0a14" stroke-width="0.75"/>
<circle cx="327.60" cy="566.80" r="2.3" fill="#c21f3c" stroke="#3f0a14" stroke-width="0.75"/>
<circle cx="332.40" cy="566.20" r="2.3" fill="#c21f3c" stroke="#3f0a14" stroke-width="0.75"/>
<circle cx="337.20" cy="564.40" r="2.3" fill="#c21f3c" stroke="#3f0a14" stroke-width="0.75"/>
<circle cx="328.20" cy="575.20" r="2.3" fill="#c21f3c" stroke="#3f0a14" stroke-width="0.75"/>
<circle cx="332.40" cy="573.40" r="2.3" fill="#c21f3c" stroke="#3f0a14" stroke-width="0.75"/>
<circle cx="337.20" cy="578.20" r="2.3" fill="#c21f3c" stroke="#3f0a14" stroke-width="0.75"/>
<circle cx="328.20" cy="581.80" r="2.3" fill="#c21f3c" stroke="#3f0a14" stroke-width="0.75"/>
<circle cx="332.40" cy="584.80" r="2.3" fill="#c21f3c" stroke="#3f0a14" stroke-width="0.75"/>
<circle cx="337.20" cy="585.40" r="2.3" fill="#c21f3c" stroke="#3f0a14" stroke-width="0.75"/>
<circle cx="328.20" cy="589.60" r="2.3" fill="#c21f3c" stroke="#3f0a14" stroke-width="0.75"/>
<line x1="304.40" y1="538.60" x2="318.40" y2="538.60" stroke="#3a4046" stroke-width="1.2"/>
<line x1="308.20" y1="535.40" x2="314.60" y2="535.40" stroke="#3a4046" stroke-width="0.9"/>
<line x1="308.20" y1="541.80" x2="314.60" y2="541.80" stroke="#3a4046" stroke-width="0.9"/>
<line x1="311.40" y1="535.40" x2="311.40" y2="541.80" stroke="#3a4046" stroke-width="0.9"/>
<line x1="326.60" y1="561.40" x2="340.60" y2="561.40" stroke="#3a2a2e" stroke-width="1.2"/>
<line x1="330.40" y1="558.20" x2="336.80" y2="558.20" stroke="#3a2a2e" stroke-width="0.9"/>
<line x1="330.40" y1="564.60" x2="336.80" y2="564.60" stroke="#3a2a2e" stroke-width="0.9"/>
<line x1="333.60" y1="558.20" x2="333.60" y2="564.60" stroke="#3a2a2e" stroke-width="0.9"/>
<line x1="380.50" y1="515.80" x2="380.50" y2="605.40" stroke="#231f20" stroke-width="1.1"/>
<line x1="379.95" y1="604.90" x2="431.30" y2="604.90" stroke="#231f20" stroke-width="1.2"/>
<line x1="377.50" y1="521.00" x2="380.50" y2="521.00" stroke="#231f20" stroke-width="0.9"/>
<text x="371.90" y="523.30" font-size="6.5" text-anchor="end" fill="#333" >1×10</text>
<text x="372.00" y="520.40" font-size="3.9" text-anchor="start" fill="#333" >7</text>
<line x1="377.50" y1="548.90" x2="380.50" y2="548.90" stroke="#231f20" stroke-width="0.9"/>
<text x="371.90" y="551.20" font-size="6.5" text-anchor="end" fill="#333" >1×10</text>
<text x="372.00" y="548.30" font-size="3.9" text-anchor="start" fill="#333" >6</text>
<line x1="377.50" y1="577.00" x2="380.50" y2="577.00" stroke="#231f20" stroke-width="0.9"/>
<text x="371.90" y="579.30" font-size="6.5" text-anchor="end" fill="#333" >1×10</text>
<text x="372.00" y="576.40" font-size="3.9" text-anchor="start" fill="#333" >5</text>
<line x1="377.50" y1="604.60" x2="380.50" y2="604.60" stroke="#231f20" stroke-width="0.9"/>
<text x="371.90" y="606.90" font-size="6.5" text-anchor="end" fill="#333" >1×10</text>
<text x="372.00" y="604.00" font-size="3.9" text-anchor="start" fill="#333" >4</text>
<line x1="394.70" y1="604.90" x2="394.70" y2="607.80" stroke="#231f20" stroke-width="0.9"/>
<line x1="416.90" y1="604.90" x2="416.90" y2="607.80" stroke="#231f20" stroke-width="0.9"/>
<text x="394.70" y="616.50" font-size="6.5" text-anchor="middle" fill="#333" >Ctrl</text>
<text x="416.90" y="616.50" font-size="6.5" text-anchor="middle" fill="#333" >Abx</text>
<text x="405.80" y="502.80" font-size="8.2" text-anchor="middle" fill="#222" >Immature B</text>
<polyline points="394.70,530.2 394.70,525.8 416.90,525.8 416.90,551.8" fill="none" stroke="#333" stroke-width="0.8"/>
<ellipse cx="403.45" cy="522.40" rx="0.85" ry="0.75" fill="#2a2a2a"/>
<ellipse cx="405.80" cy="522.40" rx="0.85" ry="0.75" fill="#2a2a2a"/>
<ellipse cx="408.15" cy="522.40" rx="0.85" ry="0.75" fill="#2a2a2a"/>
<circle cx="392.60" cy="535.00" r="2.3" fill="#1e5288" stroke="#0a1a2a" stroke-width="0.75"/>
<circle cx="396.20" cy="538.00" r="2.3" fill="#1e5288" stroke="#0a1a2a" stroke-width="0.75"/>
<circle cx="393.20" cy="542.20" r="2.3" fill="#1e5288" stroke="#0a1a2a" stroke-width="0.75"/>
<circle cx="394.40" cy="547.00" r="2.3" fill="#1e5288" stroke="#0a1a2a" stroke-width="0.75"/>
<circle cx="389.60" cy="554.80" r="2.3" fill="#1e5288" stroke="#0a1a2a" stroke-width="0.75"/>
<circle cx="396.20" cy="553.60" r="2.3" fill="#1e5288" stroke="#0a1a2a" stroke-width="0.75"/>
<circle cx="392.60" cy="556.00" r="2.3" fill="#1e5288" stroke="#0a1a2a" stroke-width="0.75"/>
<circle cx="389.60" cy="560.20" r="2.3" fill="#1e5288" stroke="#0a1a2a" stroke-width="0.75"/>
<circle cx="395.60" cy="560.20" r="2.3" fill="#1e5288" stroke="#0a1a2a" stroke-width="0.75"/>
<circle cx="399.20" cy="560.20" r="2.3" fill="#1e5288" stroke="#0a1a2a" stroke-width="0.75"/>
<circle cx="393.20" cy="558.40" r="2.3" fill="#1e5288" stroke="#0a1a2a" stroke-width="0.75"/>
<circle cx="414.80" cy="558.20" r="2.3" fill="#c21f3c" stroke="#3f0a14" stroke-width="0.75"/>
<circle cx="417.20" cy="556.60" r="2.3" fill="#c21f3c" stroke="#3f0a14" stroke-width="0.75"/>
<circle cx="416.60" cy="559.60" r="2.3" fill="#c21f3c" stroke="#3f0a14" stroke-width="0.75"/>
<circle cx="411.80" cy="574.60" r="2.3" fill="#c21f3c" stroke="#3f0a14" stroke-width="0.75"/>
<circle cx="416.00" cy="571.60" r="2.3" fill="#c21f3c" stroke="#3f0a14" stroke-width="0.75"/>
<circle cx="420.20" cy="575.20" r="2.3" fill="#c21f3c" stroke="#3f0a14" stroke-width="0.75"/>
<circle cx="414.80" cy="577.60" r="2.3" fill="#c21f3c" stroke="#3f0a14" stroke-width="0.75"/>
<circle cx="416.00" cy="580.00" r="2.3" fill="#c21f3c" stroke="#3f0a14" stroke-width="0.75"/>
<circle cx="417.20" cy="584.80" r="2.3" fill="#c21f3c" stroke="#3f0a14" stroke-width="0.75"/>
<circle cx="414.80" cy="588.40" r="2.3" fill="#c21f3c" stroke="#3f0a14" stroke-width="0.75"/>
<line x1="387.70" y1="547.60" x2="401.70" y2="547.60" stroke="#3a4046" stroke-width="1.2"/>
<line x1="391.50" y1="544.40" x2="397.90" y2="544.40" stroke="#3a4046" stroke-width="0.9"/>
<line x1="391.50" y1="550.80" x2="397.90" y2="550.80" stroke="#3a4046" stroke-width="0.9"/>
<line x1="394.70" y1="544.40" x2="394.70" y2="550.80" stroke="#3a4046" stroke-width="0.9"/>
<line x1="409.90" y1="569.20" x2="423.90" y2="569.20" stroke="#3a2a2e" stroke-width="1.2"/>
<line x1="413.70" y1="566.00" x2="420.10" y2="566.00" stroke="#3a2a2e" stroke-width="0.9"/>
<line x1="413.70" y1="572.40" x2="420.10" y2="572.40" stroke="#3a2a2e" stroke-width="0.9"/>
<line x1="416.90" y1="566.00" x2="416.90" y2="572.40" stroke="#3a2a2e" stroke-width="0.9"/>
<line x1="463.10" y1="516.30" x2="463.10" y2="605.40" stroke="#231f20" stroke-width="1.1"/>
<line x1="462.55" y1="604.90" x2="513.90" y2="604.90" stroke="#231f20" stroke-width="1.2"/>
<line x1="460.10" y1="521.00" x2="463.10" y2="521.00" stroke="#231f20" stroke-width="0.9"/>
<text x="454.50" y="523.30" font-size="6.5" text-anchor="end" fill="#333" >1×10</text>
<text x="454.60" y="520.40" font-size="3.9" text-anchor="start" fill="#333" >7</text>
<line x1="460.10" y1="549.40" x2="463.10" y2="549.40" stroke="#231f20" stroke-width="0.9"/>
<text x="454.50" y="551.70" font-size="6.5" text-anchor="end" fill="#333" >1×10</text>
<text x="454.60" y="548.80" font-size="3.9" text-anchor="start" fill="#333" >6</text>
<line x1="460.10" y1="577.00" x2="463.10" y2="577.00" stroke="#231f20" stroke-width="0.9"/>
<text x="454.50" y="579.30" font-size="6.5" text-anchor="end" fill="#333" >1×10</text>
<text x="454.60" y="576.40" font-size="3.9" text-anchor="start" fill="#333" >5</text>
<line x1="460.10" y1="604.60" x2="463.10" y2="604.60" stroke="#231f20" stroke-width="0.9"/>
<text x="454.50" y="606.90" font-size="6.5" text-anchor="end" fill="#333" >1×10</text>
<text x="454.60" y="604.00" font-size="3.9" text-anchor="start" fill="#333" >4</text>
<line x1="477.30" y1="604.90" x2="477.30" y2="607.80" stroke="#231f20" stroke-width="0.9"/>
<line x1="499.50" y1="604.90" x2="499.50" y2="607.80" stroke="#231f20" stroke-width="0.9"/>
<text x="477.30" y="616.50" font-size="6.5" text-anchor="middle" fill="#333" >Ctrl</text>
<text x="499.50" y="616.50" font-size="6.5" text-anchor="middle" fill="#333" >Abx</text>
<text x="488.40" y="502.80" font-size="8.2" text-anchor="middle" fill="#222" >Mature B</text>
<polyline points="477.30,525.4 477.30,521.4 499.50,521.4 499.50,544.6" fill="none" stroke="#333" stroke-width="0.8"/>
<ellipse cx="487.22" cy="518.20" rx="0.85" ry="0.75" fill="#2a2a2a"/>
<ellipse cx="489.57" cy="518.20" rx="0.85" ry="0.75" fill="#2a2a2a"/>
<circle cx="475.80" cy="530.80" r="2.3" fill="#1e5288" stroke="#0a1a2a" stroke-width="0.75"/>
<circle cx="479.40" cy="531.40" r="2.3" fill="#1e5288" stroke="#0a1a2a" stroke-width="0.75"/>
<circle cx="475.80" cy="535.60" r="2.3" fill="#1e5288" stroke="#0a1a2a" stroke-width="0.75"/>
<circle cx="477.00" cy="545.20" r="2.3" fill="#1e5288" stroke="#0a1a2a" stroke-width="0.75"/>
<circle cx="472.80" cy="550.60" r="2.3" fill="#1e5288" stroke="#0a1a2a" stroke-width="0.75"/>
<circle cx="477.00" cy="551.80" r="2.3" fill="#1e5288" stroke="#0a1a2a" stroke-width="0.75"/>
<circle cx="481.80" cy="552.40" r="2.3" fill="#1e5288" stroke="#0a1a2a" stroke-width="0.75"/>
<circle cx="474.60" cy="554.20" r="2.3" fill="#1e5288" stroke="#0a1a2a" stroke-width="0.75"/>
<circle cx="478.80" cy="557.20" r="2.3" fill="#1e5288" stroke="#0a1a2a" stroke-width="0.75"/>
<circle cx="477.60" cy="565.60" r="2.3" fill="#1e5288" stroke="#0a1a2a" stroke-width="0.75"/>
<circle cx="494.40" cy="550.00" r="2.3" fill="#c21f3c" stroke="#3f0a14" stroke-width="0.75"/>
<circle cx="499.80" cy="551.50" r="2.3" fill="#c21f3c" stroke="#3f0a14" stroke-width="0.75"/>
<circle cx="503.40" cy="552.40" r="2.3" fill="#c21f3c" stroke="#3f0a14" stroke-width="0.75"/>
<circle cx="500.40" cy="556.00" r="2.3" fill="#c21f3c" stroke="#3f0a14" stroke-width="0.75"/>
<circle cx="497.40" cy="559.60" r="2.3" fill="#c21f3c" stroke="#3f0a14" stroke-width="0.75"/>
<circle cx="493.80" cy="565.00" r="2.3" fill="#c21f3c" stroke="#3f0a14" stroke-width="0.75"/>
<circle cx="497.40" cy="565.00" r="2.3" fill="#c21f3c" stroke="#3f0a14" stroke-width="0.75"/>
<circle cx="503.40" cy="562.30" r="2.3" fill="#c21f3c" stroke="#3f0a14" stroke-width="0.75"/>
<circle cx="500.40" cy="568.00" r="2.3" fill="#c21f3c" stroke="#3f0a14" stroke-width="0.75"/>
<circle cx="497.40" cy="570.40" r="2.3" fill="#c21f3c" stroke="#3f0a14" stroke-width="0.75"/>
<circle cx="499.20" cy="575.80" r="2.3" fill="#c21f3c" stroke="#3f0a14" stroke-width="0.75"/>
<circle cx="499.20" cy="585.40" r="2.3" fill="#c21f3c" stroke="#3f0a14" stroke-width="0.75"/>
<line x1="470.30" y1="542.80" x2="484.30" y2="542.80" stroke="#3a4046" stroke-width="1.2"/>
<line x1="474.10" y1="539.60" x2="480.50" y2="539.60" stroke="#3a4046" stroke-width="0.9"/>
<line x1="474.10" y1="546.00" x2="480.50" y2="546.00" stroke="#3a4046" stroke-width="0.9"/>
<line x1="477.30" y1="539.60" x2="477.30" y2="546.00" stroke="#3a4046" stroke-width="0.9"/>
<line x1="492.50" y1="560.20" x2="506.50" y2="560.20" stroke="#3a2a2e" stroke-width="1.2"/>
<line x1="496.30" y1="557.00" x2="502.70" y2="557.00" stroke="#3a2a2e" stroke-width="0.9"/>
<line x1="496.30" y1="563.40" x2="502.70" y2="563.40" stroke="#3a2a2e" stroke-width="0.9"/>
<line x1="499.50" y1="557.00" x2="499.50" y2="563.40" stroke="#3a2a2e" stroke-width="0.9"/>
<rect x="0.5" y="0.5" width="519" height="624" fill="none" stroke="#505050" stroke-width="1"/>
</svg></body></html>
